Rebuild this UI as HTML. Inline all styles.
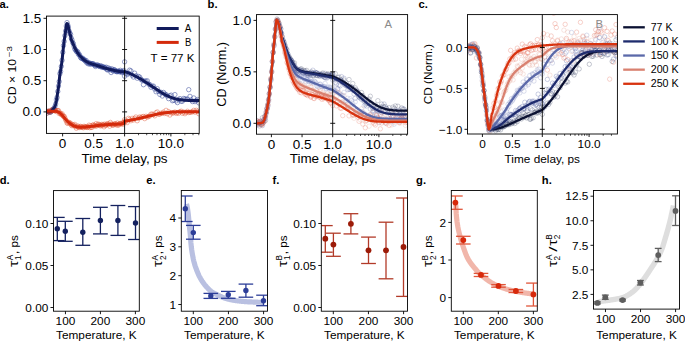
<!DOCTYPE html>
<html><head><meta charset="utf-8"><title>Figure</title><style>html,body{margin:0;padding:0;background:#fff;width:685px;height:342px;overflow:hidden}svg{display:block;font-family:"Liberation Sans",sans-serif}</style></head><body>
<svg width="685" height="342" viewBox="0 0 685 342" font-family="'Liberation Sans', sans-serif">
<rect width="685" height="342" fill="#fff"/>
<line x1="57.3" y1="217.4" x2="57.3" y2="240.6" stroke="#14215f" stroke-width="1.3"/>
<line x1="53.5" y1="217.4" x2="64.7" y2="217.4" stroke="#14215f" stroke-width="1.3"/>
<line x1="53.5" y1="240.6" x2="64.7" y2="240.6" stroke="#14215f" stroke-width="1.3"/>
<line x1="65.3" y1="221.3" x2="65.3" y2="241.3" stroke="#14215f" stroke-width="1.3"/>
<line x1="57.9" y1="221.3" x2="72.7" y2="221.3" stroke="#14215f" stroke-width="1.3"/>
<line x1="57.9" y1="241.3" x2="72.7" y2="241.3" stroke="#14215f" stroke-width="1.3"/>
<line x1="82.8" y1="218.5" x2="82.8" y2="245.3" stroke="#14215f" stroke-width="1.3"/>
<line x1="75.4" y1="218.5" x2="90.2" y2="218.5" stroke="#14215f" stroke-width="1.3"/>
<line x1="75.4" y1="245.3" x2="90.2" y2="245.3" stroke="#14215f" stroke-width="1.3"/>
<line x1="100.4" y1="207.3" x2="100.4" y2="233.9" stroke="#14215f" stroke-width="1.3"/>
<line x1="93" y1="207.3" x2="107.8" y2="207.3" stroke="#14215f" stroke-width="1.3"/>
<line x1="93" y1="233.9" x2="107.8" y2="233.9" stroke="#14215f" stroke-width="1.3"/>
<line x1="117.9" y1="205.5" x2="117.9" y2="235.4" stroke="#14215f" stroke-width="1.3"/>
<line x1="110.5" y1="205.5" x2="125.3" y2="205.5" stroke="#14215f" stroke-width="1.3"/>
<line x1="110.5" y1="235.4" x2="125.3" y2="235.4" stroke="#14215f" stroke-width="1.3"/>
<line x1="135.5" y1="206.6" x2="135.5" y2="239.5" stroke="#14215f" stroke-width="1.3"/>
<line x1="128.1" y1="206.6" x2="139.3" y2="206.6" stroke="#14215f" stroke-width="1.3"/>
<line x1="128.1" y1="239.5" x2="139.3" y2="239.5" stroke="#14215f" stroke-width="1.3"/>
<circle cx="57.3" cy="228.7" r="2.7" fill="#14215f"/>
<circle cx="65.3" cy="231.3" r="2.7" fill="#14215f"/>
<circle cx="82.8" cy="232.2" r="2.7" fill="#14215f"/>
<circle cx="100.4" cy="220.5" r="2.7" fill="#14215f"/>
<circle cx="117.9" cy="220.5" r="2.7" fill="#14215f"/>
<circle cx="135.5" cy="223" r="2.7" fill="#14215f"/>
<path d="M186.5 204 L186.9 205.45 L187.3 207.49 L187.7 209.98 L188.11 212.8 L188.51 216.59 L188.91 221.01 L189.31 225.31 L189.71 229.14 L190.11 232.98 L190.52 237.41 L190.92 242.93 L191.32 246.94 L191.72 249.96 L192.12 252.53 L192.52 254.89 L192.93 257.07 L193.33 259.05 L193.73 260.81 L194.13 262.37 L194.53 263.8 L194.93 265.13 L195.33 266.37 L195.74 267.54 L196.14 268.66 L196.54 269.74 L196.94 270.8 L197.34 271.82 L197.74 272.8 L198.15 273.75 L198.55 274.65 L198.95 275.52 L199.35 276.34 L199.75 277.11 L200.15 277.85 L200.55 278.56 L200.96 279.25 L201.36 279.92 L201.76 280.56 L202.16 281.19 L202.56 281.79 L202.96 282.38 L203.37 282.95 L203.77 283.5 L204.17 284.03 L204.57 284.55 L204.97 285.04 L205.37 285.53 L205.78 286.01 L206.18 286.48 L206.58 286.94 L206.98 287.39 L207.38 287.83 L207.78 288.26 L208.18 288.68 L208.59 289.08 L208.99 289.48 L209.39 289.86 L209.79 290.22 L210.19 290.57 L210.59 290.91 L211 291.22 L211.4 291.53 L211.8 291.81 L212.2 292.08 L212.6 292.34 L213 292.59 L213.4 292.83 L213.81 293.06 L214.21 293.29 L214.61 293.5 L215.01 293.71 L215.41 293.92 L215.81 294.12 L216.22 294.32 L216.62 294.52 L217.02 294.71 L217.42 294.91 L217.82 295.1 L218.22 295.3 L218.62 295.49 L219.03 295.68 L219.43 295.87 L219.83 296.06 L220.23 296.25 L220.63 296.44 L221.03 296.62 L221.44 296.8 L221.84 296.97 L222.24 297.15 L222.64 297.31 L223.04 297.48 L223.44 297.63 L223.85 297.79 L224.25 297.93 L224.65 298.07 L225.05 298.21 L225.45 298.34 L225.85 298.46 L226.25 298.57 L226.66 298.68 L227.06 298.79 L227.46 298.9 L227.86 299.01 L228.26 299.11 L228.66 299.21 L229.07 299.31 L229.47 299.41 L229.87 299.5 L230.27 299.59 L230.67 299.68 L231.07 299.77 L231.48 299.85 L231.88 299.94 L232.28 300.02 L232.68 300.09 L233.08 300.17 L233.48 300.24 L233.88 300.31 L234.29 300.37 L234.69 300.44 L235.09 300.5 L235.49 300.56 L235.89 300.61 L236.29 300.67 L236.7 300.72 L237.1 300.77 L237.5 300.83 L237.9 300.88 L238.3 300.93 L238.7 300.98 L239.1 301.02 L239.51 301.07 L239.91 301.12 L240.31 301.16 L240.71 301.21 L241.11 301.25 L241.51 301.29 L241.92 301.33 L242.32 301.37 L242.72 301.41 L243.12 301.45 L243.52 301.49 L243.92 301.52 L244.33 301.56 L244.73 301.59 L245.13 301.62 L245.53 301.65 L245.93 301.68 L246.33 301.7 L246.73 301.73 L247.14 301.75 L247.54 301.78 L247.94 301.8 L248.34 301.82 L248.74 301.84 L249.14 301.86 L249.55 301.88 L249.95 301.9 L250.35 301.91 L250.75 301.93 L251.15 301.95 L251.55 301.97 L251.95 301.99 L252.36 302.01 L252.76 302.02 L253.16 302.04 L253.56 302.06 L253.96 302.08 L254.36 302.09 L254.77 302.11 L255.17 302.12 L255.57 302.14 L255.97 302.15 L256.37 302.17 L256.77 302.18 L257.18 302.19 L257.58 302.2 L257.98 302.22 L258.38 302.23 L258.78 302.24 L259.18 302.25 L259.58 302.26 L259.99 302.26 L260.39 302.27 L260.79 302.28 L261.19 302.28 L261.59 302.29 L261.99 302.29 L262.4 302.3 L262.8 302.3 L263.2 302.3 L263.6 302.3" fill="none" stroke="#b9c0e1" stroke-width="5.2" stroke-linejoin="round" stroke-linecap="butt"/>
<line x1="185.3" y1="196" x2="185.3" y2="221.5" stroke="#2d3e98" stroke-width="1.3"/>
<line x1="181.3" y1="196" x2="192.6" y2="196" stroke="#2d3e98" stroke-width="1.3"/>
<line x1="181.3" y1="221.5" x2="192.6" y2="221.5" stroke="#2d3e98" stroke-width="1.3"/>
<line x1="193.3" y1="225.4" x2="193.3" y2="239.2" stroke="#2d3e98" stroke-width="1.3"/>
<line x1="186" y1="225.4" x2="200.6" y2="225.4" stroke="#2d3e98" stroke-width="1.3"/>
<line x1="186" y1="239.2" x2="200.6" y2="239.2" stroke="#2d3e98" stroke-width="1.3"/>
<line x1="210.8" y1="293.4" x2="210.8" y2="298.4" stroke="#2d3e98" stroke-width="1.3"/>
<line x1="203.5" y1="293.4" x2="218.1" y2="293.4" stroke="#2d3e98" stroke-width="1.3"/>
<line x1="203.5" y1="298.4" x2="218.1" y2="298.4" stroke="#2d3e98" stroke-width="1.3"/>
<line x1="228.3" y1="291.4" x2="228.3" y2="298.3" stroke="#2d3e98" stroke-width="1.3"/>
<line x1="221" y1="291.4" x2="235.6" y2="291.4" stroke="#2d3e98" stroke-width="1.3"/>
<line x1="221" y1="298.3" x2="235.6" y2="298.3" stroke="#2d3e98" stroke-width="1.3"/>
<line x1="245.9" y1="284.1" x2="245.9" y2="297.2" stroke="#2d3e98" stroke-width="1.3"/>
<line x1="238.6" y1="284.1" x2="253.2" y2="284.1" stroke="#2d3e98" stroke-width="1.3"/>
<line x1="238.6" y1="297.2" x2="253.2" y2="297.2" stroke="#2d3e98" stroke-width="1.3"/>
<line x1="263.5" y1="295.2" x2="263.5" y2="305.7" stroke="#2d3e98" stroke-width="1.3"/>
<line x1="256.2" y1="295.2" x2="267.5" y2="295.2" stroke="#2d3e98" stroke-width="1.3"/>
<line x1="256.2" y1="305.7" x2="267.5" y2="305.7" stroke="#2d3e98" stroke-width="1.3"/>
<circle cx="185.3" cy="208.8" r="2.7" fill="#2d3e98"/>
<circle cx="193.3" cy="232.6" r="2.7" fill="#2d3e98"/>
<circle cx="210.8" cy="296" r="2.7" fill="#2d3e98"/>
<circle cx="228.3" cy="294.8" r="2.7" fill="#2d3e98"/>
<circle cx="245.9" cy="290.5" r="2.7" fill="#2d3e98"/>
<circle cx="263.5" cy="300.7" r="2.7" fill="#2d3e98"/>
<line x1="325.3" y1="225.6" x2="325.3" y2="252.2" stroke="#b23a28" stroke-width="1.3"/>
<line x1="321.3" y1="225.6" x2="332.7" y2="225.6" stroke="#b23a28" stroke-width="1.3"/>
<line x1="321.3" y1="252.2" x2="332.7" y2="252.2" stroke="#b23a28" stroke-width="1.3"/>
<line x1="333.4" y1="233.2" x2="333.4" y2="256.3" stroke="#b23a28" stroke-width="1.3"/>
<line x1="326" y1="233.2" x2="340.8" y2="233.2" stroke="#b23a28" stroke-width="1.3"/>
<line x1="326" y1="256.3" x2="340.8" y2="256.3" stroke="#b23a28" stroke-width="1.3"/>
<line x1="350.9" y1="213.7" x2="350.9" y2="233.9" stroke="#b23a28" stroke-width="1.3"/>
<line x1="343.5" y1="213.7" x2="358.3" y2="213.7" stroke="#b23a28" stroke-width="1.3"/>
<line x1="343.5" y1="233.9" x2="358.3" y2="233.9" stroke="#b23a28" stroke-width="1.3"/>
<line x1="368.5" y1="237.1" x2="368.5" y2="263.5" stroke="#b23a28" stroke-width="1.3"/>
<line x1="361.1" y1="237.1" x2="375.9" y2="237.1" stroke="#b23a28" stroke-width="1.3"/>
<line x1="361.1" y1="263.5" x2="375.9" y2="263.5" stroke="#b23a28" stroke-width="1.3"/>
<line x1="386" y1="222.2" x2="386" y2="278.8" stroke="#b23a28" stroke-width="1.3"/>
<line x1="378.6" y1="222.2" x2="393.4" y2="222.2" stroke="#b23a28" stroke-width="1.3"/>
<line x1="378.6" y1="278.8" x2="393.4" y2="278.8" stroke="#b23a28" stroke-width="1.3"/>
<line x1="403.5" y1="198" x2="403.5" y2="296.4" stroke="#b23a28" stroke-width="1.3"/>
<line x1="396.1" y1="198" x2="407.5" y2="198" stroke="#b23a28" stroke-width="1.3"/>
<line x1="396.1" y1="296.4" x2="407.5" y2="296.4" stroke="#b23a28" stroke-width="1.3"/>
<circle cx="325.3" cy="238.7" r="2.9" fill="#9c1b08"/>
<circle cx="333.4" cy="244.6" r="2.9" fill="#9c1b08"/>
<circle cx="350.9" cy="223.8" r="2.9" fill="#9c1b08"/>
<circle cx="368.5" cy="250.3" r="2.9" fill="#9c1b08"/>
<circle cx="386" cy="250.3" r="2.9" fill="#9c1b08"/>
<circle cx="403.5" cy="247" r="2.9" fill="#9c1b08"/>
<path d="M455.8 204.5 L456.2 213.16 L456.6 217.87 L457 221.3 L457.4 224.08 L457.8 226.51 L458.2 228.64 L458.6 230.54 L459 232.28 L459.4 233.92 L459.81 235.52 L460.21 237.07 L460.61 238.54 L461.01 239.95 L461.41 241.29 L461.81 242.59 L462.21 243.84 L462.61 245.06 L463.01 246.24 L463.41 247.41 L463.81 248.57 L464.21 249.72 L464.61 250.85 L465.01 251.95 L465.41 253.03 L465.81 254.07 L466.21 255.07 L466.61 256.02 L467.01 256.92 L467.41 257.76 L467.82 258.53 L468.22 259.25 L468.62 259.94 L469.02 260.6 L469.42 261.24 L469.82 261.85 L470.22 262.44 L470.62 263.01 L471.02 263.56 L471.42 264.09 L471.82 264.61 L472.22 265.12 L472.62 265.63 L473.02 266.12 L473.42 266.61 L473.82 267.1 L474.22 267.59 L474.62 268.07 L475.02 268.56 L475.43 269.04 L475.83 269.52 L476.23 269.99 L476.63 270.45 L477.03 270.91 L477.43 271.36 L477.83 271.8 L478.23 272.23 L478.63 272.66 L479.03 273.07 L479.43 273.47 L479.83 273.85 L480.23 274.22 L480.63 274.58 L481.03 274.93 L481.43 275.26 L481.83 275.6 L482.23 275.93 L482.63 276.26 L483.04 276.58 L483.44 276.9 L483.84 277.22 L484.24 277.54 L484.64 277.85 L485.04 278.17 L485.44 278.47 L485.84 278.78 L486.24 279.08 L486.64 279.38 L487.04 279.67 L487.44 279.96 L487.84 280.25 L488.24 280.53 L488.64 280.81 L489.04 281.09 L489.44 281.36 L489.84 281.62 L490.24 281.89 L490.64 282.15 L491.05 282.4 L491.45 282.65 L491.85 282.9 L492.25 283.14 L492.65 283.38 L493.05 283.61 L493.45 283.84 L493.85 284.07 L494.25 284.29 L494.65 284.5 L495.05 284.71 L495.45 284.91 L495.85 285.11 L496.25 285.31 L496.65 285.5 L497.05 285.68 L497.45 285.86 L497.85 286.03 L498.25 286.2 L498.66 286.36 L499.06 286.52 L499.46 286.68 L499.86 286.83 L500.26 286.99 L500.66 287.14 L501.06 287.28 L501.46 287.43 L501.86 287.58 L502.26 287.72 L502.66 287.86 L503.06 287.99 L503.46 288.13 L503.86 288.26 L504.26 288.39 L504.66 288.52 L505.06 288.65 L505.46 288.78 L505.86 288.9 L506.26 289.02 L506.67 289.14 L507.07 289.26 L507.47 289.37 L507.87 289.49 L508.27 289.6 L508.67 289.71 L509.07 289.82 L509.47 289.92 L509.87 290.03 L510.27 290.13 L510.67 290.23 L511.07 290.33 L511.47 290.43 L511.87 290.52 L512.27 290.61 L512.67 290.71 L513.07 290.79 L513.47 290.88 L513.87 290.97 L514.28 291.05 L514.68 291.14 L515.08 291.22 L515.48 291.3 L515.88 291.38 L516.28 291.45 L516.68 291.53 L517.08 291.61 L517.48 291.68 L517.88 291.76 L518.28 291.83 L518.68 291.9 L519.08 291.98 L519.48 292.05 L519.88 292.12 L520.28 292.19 L520.68 292.26 L521.08 292.33 L521.48 292.4 L521.89 292.46 L522.29 292.53 L522.69 292.6 L523.09 292.66 L523.49 292.73 L523.89 292.79 L524.29 292.85 L524.69 292.91 L525.09 292.97 L525.49 293.03 L525.89 293.08 L526.29 293.14 L526.69 293.2 L527.09 293.25 L527.49 293.3 L527.89 293.35 L528.29 293.4 L528.69 293.45 L529.09 293.49 L529.49 293.54 L529.9 293.58 L530.3 293.62 L530.7 293.66 L531.1 293.7 L531.5 293.74 L531.9 293.78 L532.3 293.81 L532.7 293.84 L533.1 293.87 L533.5 293.9" fill="none" stroke="#f1b6aa" stroke-width="5.2" stroke-linejoin="round" stroke-linecap="butt"/>
<line x1="455.4" y1="196" x2="455.4" y2="209.3" stroke="#e0553a" stroke-width="1.3"/>
<line x1="451.3" y1="196" x2="462.7" y2="196" stroke="#e0553a" stroke-width="1.3"/>
<line x1="451.3" y1="209.3" x2="462.7" y2="209.3" stroke="#e0553a" stroke-width="1.3"/>
<line x1="463.3" y1="236.3" x2="463.3" y2="244" stroke="#e0553a" stroke-width="1.3"/>
<line x1="456" y1="236.3" x2="470.6" y2="236.3" stroke="#e0553a" stroke-width="1.3"/>
<line x1="456" y1="244" x2="470.6" y2="244" stroke="#e0553a" stroke-width="1.3"/>
<line x1="481" y1="273.4" x2="481" y2="276.5" stroke="#e0553a" stroke-width="1.3"/>
<line x1="473.7" y1="273.4" x2="488.3" y2="273.4" stroke="#e0553a" stroke-width="1.3"/>
<line x1="473.7" y1="276.5" x2="488.3" y2="276.5" stroke="#e0553a" stroke-width="1.3"/>
<line x1="498.5" y1="284.6" x2="498.5" y2="287.2" stroke="#e0553a" stroke-width="1.3"/>
<line x1="491.2" y1="284.6" x2="505.8" y2="284.6" stroke="#e0553a" stroke-width="1.3"/>
<line x1="491.2" y1="287.2" x2="505.8" y2="287.2" stroke="#e0553a" stroke-width="1.3"/>
<line x1="515.9" y1="289.5" x2="515.9" y2="292.5" stroke="#e0553a" stroke-width="1.3"/>
<line x1="508.6" y1="289.5" x2="523.2" y2="289.5" stroke="#e0553a" stroke-width="1.3"/>
<line x1="508.6" y1="292.5" x2="523.2" y2="292.5" stroke="#e0553a" stroke-width="1.3"/>
<line x1="533.4" y1="283.1" x2="533.4" y2="306" stroke="#e0553a" stroke-width="1.3"/>
<line x1="526.1" y1="283.1" x2="537.3" y2="283.1" stroke="#e0553a" stroke-width="1.3"/>
<line x1="526.1" y1="306" x2="537.3" y2="306" stroke="#e0553a" stroke-width="1.3"/>
<circle cx="455.4" cy="202.6" r="2.9" fill="#d7290b"/>
<circle cx="463.3" cy="240.1" r="2.9" fill="#d7290b"/>
<circle cx="481" cy="274.9" r="2.9" fill="#d7290b"/>
<circle cx="498.5" cy="285.9" r="2.9" fill="#d7290b"/>
<circle cx="515.9" cy="291" r="2.9" fill="#d7290b"/>
<circle cx="533.4" cy="294.4" r="2.9" fill="#d7290b"/>
<path d="M598.5 302.2 L598.9 302.02 L599.3 301.84 L599.7 301.69 L600.1 301.58 L600.5 301.48 L600.9 301.39 L601.3 301.31 L601.7 301.24 L602.1 301.17 L602.51 301.1 L602.91 301.04 L603.31 300.98 L603.71 300.92 L604.11 300.87 L604.51 300.82 L604.91 300.77 L605.31 300.72 L605.71 300.67 L606.11 300.62 L606.51 300.58 L606.91 300.53 L607.31 300.48 L607.71 300.43 L608.11 300.38 L608.51 300.33 L608.91 300.27 L609.31 300.21 L609.71 300.15 L610.12 300.08 L610.52 300.01 L610.92 299.95 L611.32 299.88 L611.72 299.82 L612.12 299.75 L612.52 299.69 L612.92 299.63 L613.32 299.56 L613.72 299.5 L614.12 299.43 L614.52 299.37 L614.92 299.3 L615.32 299.23 L615.72 299.17 L616.12 299.1 L616.52 299.02 L616.92 298.95 L617.33 298.88 L617.73 298.8 L618.13 298.72 L618.53 298.64 L618.93 298.55 L619.33 298.47 L619.73 298.38 L620.13 298.28 L620.53 298.19 L620.93 298.09 L621.33 297.98 L621.73 297.88 L622.13 297.77 L622.53 297.65 L622.93 297.53 L623.33 297.4 L623.73 297.25 L624.13 297.1 L624.53 296.93 L624.94 296.75 L625.34 296.57 L625.74 296.37 L626.14 296.17 L626.54 295.95 L626.94 295.73 L627.34 295.5 L627.74 295.26 L628.14 295.02 L628.54 294.77 L628.94 294.51 L629.34 294.24 L629.74 293.97 L630.14 293.7 L630.54 293.42 L630.94 293.14 L631.34 292.85 L631.74 292.56 L632.14 292.26 L632.55 291.97 L632.95 291.67 L633.35 291.35 L633.75 291.02 L634.15 290.68 L634.55 290.31 L634.95 289.94 L635.35 289.55 L635.75 289.14 L636.15 288.73 L636.55 288.31 L636.95 287.87 L637.35 287.43 L637.75 286.99 L638.15 286.54 L638.55 286.08 L638.95 285.62 L639.35 285.15 L639.76 284.66 L640.16 284.16 L640.56 283.65 L640.96 283.12 L641.36 282.58 L641.76 282.04 L642.16 281.49 L642.56 280.93 L642.96 280.37 L643.36 279.81 L643.76 279.24 L644.16 278.68 L644.56 278.11 L644.96 277.54 L645.36 276.97 L645.76 276.39 L646.16 275.8 L646.56 275.21 L646.96 274.61 L647.37 274.01 L647.77 273.4 L648.17 272.79 L648.57 272.19 L648.97 271.58 L649.37 270.97 L649.77 270.36 L650.17 269.75 L650.57 269.14 L650.97 268.54 L651.37 267.94 L651.77 267.34 L652.17 266.75 L652.57 266.14 L652.97 265.54 L653.37 264.93 L653.77 264.31 L654.17 263.68 L654.57 263.04 L654.98 262.38 L655.38 261.71 L655.78 261.03 L656.18 260.35 L656.58 259.66 L656.98 258.98 L657.38 258.29 L657.78 257.58 L658.18 256.86 L658.58 256.13 L658.98 255.38 L659.38 254.6 L659.78 253.8 L660.18 252.97 L660.58 252.11 L660.98 251.21 L661.38 250.28 L661.78 249.29 L662.19 248.21 L662.59 247.05 L662.99 245.83 L663.39 244.56 L663.79 243.25 L664.19 241.91 L664.59 240.56 L664.99 239.21 L665.39 237.87 L665.79 236.54 L666.19 235.21 L666.59 233.86 L666.99 232.5 L667.39 231.11 L667.79 229.7 L668.19 228.25 L668.59 226.78 L668.99 225.26 L669.39 223.7 L669.8 222.1 L670.2 220.45 L670.6 218.75 L671 217.01 L671.4 215.21 L671.8 213.34 L672.2 211.43 L672.6 209.48 L673 207.52 L673.4 205.5" fill="none" stroke="#dedede" stroke-width="5.4" stroke-linejoin="round" stroke-linecap="butt"/>
<line x1="597.4" y1="301.9" x2="597.4" y2="303.9" stroke="#5e5e5e" stroke-width="1.3"/>
<line x1="594" y1="301.9" x2="600.8" y2="301.9" stroke="#5e5e5e" stroke-width="1.3"/>
<line x1="594" y1="303.9" x2="600.8" y2="303.9" stroke="#5e5e5e" stroke-width="1.3"/>
<line x1="605.3" y1="295.1" x2="605.3" y2="299.3" stroke="#5e5e5e" stroke-width="1.3"/>
<line x1="601.9" y1="295.1" x2="608.7" y2="295.1" stroke="#5e5e5e" stroke-width="1.3"/>
<line x1="601.9" y1="299.3" x2="608.7" y2="299.3" stroke="#5e5e5e" stroke-width="1.3"/>
<line x1="622.6" y1="299.2" x2="622.6" y2="301" stroke="#5e5e5e" stroke-width="1.3"/>
<line x1="619.2" y1="299.2" x2="626" y2="299.2" stroke="#5e5e5e" stroke-width="1.3"/>
<line x1="619.2" y1="301" x2="626" y2="301" stroke="#5e5e5e" stroke-width="1.3"/>
<line x1="640.4" y1="280.5" x2="640.4" y2="285" stroke="#5e5e5e" stroke-width="1.3"/>
<line x1="637" y1="280.5" x2="643.8" y2="280.5" stroke="#5e5e5e" stroke-width="1.3"/>
<line x1="637" y1="285" x2="643.8" y2="285" stroke="#5e5e5e" stroke-width="1.3"/>
<line x1="658.2" y1="248.4" x2="658.2" y2="261.6" stroke="#5e5e5e" stroke-width="1.3"/>
<line x1="654.8" y1="248.4" x2="661.6" y2="248.4" stroke="#5e5e5e" stroke-width="1.3"/>
<line x1="654.8" y1="261.6" x2="661.6" y2="261.6" stroke="#5e5e5e" stroke-width="1.3"/>
<line x1="675.5" y1="195.8" x2="675.5" y2="225.5" stroke="#5e5e5e" stroke-width="1.3"/>
<line x1="672.1" y1="195.8" x2="678.9" y2="195.8" stroke="#5e5e5e" stroke-width="1.3"/>
<line x1="672.1" y1="225.5" x2="678.9" y2="225.5" stroke="#5e5e5e" stroke-width="1.3"/>
<circle cx="597.4" cy="302.9" r="2.9" fill="#5e5e5e"/>
<circle cx="605.3" cy="297.3" r="2.9" fill="#5e5e5e"/>
<circle cx="622.6" cy="300.1" r="2.9" fill="#5e5e5e"/>
<circle cx="640.4" cy="282.6" r="2.9" fill="#5e5e5e"/>
<circle cx="658.2" cy="255.1" r="2.9" fill="#5e5e5e"/>
<circle cx="675.5" cy="210.9" r="2.9" fill="#5e5e5e"/>
<defs><clipPath id="ca"><rect x="46.5" y="16.1" width="152.7" height="117.3"/></clipPath><clipPath id="cb"><rect x="256.5" y="14.6" width="151.1" height="119.6"/></clipPath><clipPath id="cc"><rect x="467.5" y="14.6" width="149.9" height="119.4"/></clipPath></defs>
<g fill="none" stroke="#3a4a9a" stroke-width="0.7" stroke-opacity="0.75" clip-path="url(#ca)"><circle cx="47.12" cy="113.08" r="2.2"/><circle cx="47.83" cy="111.54" r="2.2"/><circle cx="48.54" cy="111.27" r="2.2"/><circle cx="49.25" cy="111.76" r="2.2"/><circle cx="49.96" cy="112.39" r="2.2"/><circle cx="50.67" cy="111.97" r="2.2"/><circle cx="51.38" cy="111.38" r="2.2"/><circle cx="52.1" cy="110.02" r="2.2"/><circle cx="52.81" cy="109.76" r="2.2"/><circle cx="53.52" cy="108.66" r="2.2"/><circle cx="54.23" cy="108.77" r="2.2"/><circle cx="54.94" cy="106.4" r="2.2"/><circle cx="55.65" cy="104.02" r="2.2"/><circle cx="56.36" cy="99.95" r="2.2"/><circle cx="57.07" cy="97.52" r="2.2"/><circle cx="57.78" cy="91.46" r="2.2"/><circle cx="58.49" cy="86.05" r="2.2"/><circle cx="59.2" cy="81.56" r="2.2"/><circle cx="59.91" cy="73.69" r="2.2"/><circle cx="60.63" cy="71.33" r="2.2"/><circle cx="61.34" cy="66.31" r="2.2"/><circle cx="62.05" cy="60.31" r="2.2"/><circle cx="62.76" cy="52.32" r="2.2"/><circle cx="63.47" cy="45.63" r="2.2"/><circle cx="64.18" cy="41.36" r="2.2"/><circle cx="64.89" cy="35.64" r="2.2"/><circle cx="65.6" cy="30.98" r="2.2"/><circle cx="66.31" cy="26.01" r="2.2"/><circle cx="67.02" cy="22.6" r="2.2"/><circle cx="67.73" cy="24.98" r="2.2"/><circle cx="68.44" cy="27.03" r="2.2"/><circle cx="69.16" cy="31.09" r="2.2"/><circle cx="69.87" cy="33.1" r="2.2"/><circle cx="70.58" cy="34.56" r="2.2"/><circle cx="71.29" cy="38.09" r="2.2"/><circle cx="72" cy="40.08" r="2.2"/><circle cx="72.71" cy="42.56" r="2.2"/><circle cx="73.42" cy="43.87" r="2.2"/><circle cx="74.13" cy="46.56" r="2.2"/><circle cx="74.84" cy="49.1" r="2.2"/><circle cx="75.55" cy="49.71" r="2.2"/><circle cx="76.26" cy="51.24" r="2.2"/><circle cx="76.97" cy="51.76" r="2.2"/><circle cx="77.69" cy="51.73" r="2.2"/><circle cx="78.4" cy="54.27" r="2.2"/><circle cx="79.11" cy="54.25" r="2.2"/><circle cx="79.82" cy="55.54" r="2.2"/><circle cx="80.53" cy="57.44" r="2.2"/><circle cx="81.24" cy="58.11" r="2.2"/><circle cx="81.95" cy="58.45" r="2.2"/><circle cx="82.66" cy="58.18" r="2.2"/><circle cx="83.37" cy="59.26" r="2.2"/><circle cx="84.08" cy="59.68" r="2.2"/><circle cx="84.79" cy="60.16" r="2.2"/><circle cx="85.5" cy="61.3" r="2.2"/><circle cx="86.22" cy="60.5" r="2.2"/><circle cx="86.93" cy="62.94" r="2.2"/><circle cx="87.64" cy="62.43" r="2.2"/><circle cx="88.35" cy="63.85" r="2.2"/><circle cx="89.06" cy="62.63" r="2.2"/><circle cx="89.77" cy="63.97" r="2.2"/><circle cx="90.48" cy="63.88" r="2.2"/><circle cx="91.19" cy="63.74" r="2.2"/><circle cx="91.9" cy="63.65" r="2.2"/><circle cx="92.61" cy="63.89" r="2.2"/><circle cx="93.32" cy="63.77" r="2.2"/><circle cx="94.03" cy="64.51" r="2.2"/><circle cx="94.75" cy="65.32" r="2.2"/><circle cx="95.46" cy="66.46" r="2.2"/><circle cx="96.17" cy="65.39" r="2.2"/><circle cx="96.88" cy="64.99" r="2.2"/><circle cx="97.59" cy="65.1" r="2.2"/><circle cx="98.3" cy="65.52" r="2.2"/><circle cx="99.01" cy="66.27" r="2.2"/><circle cx="99.72" cy="66.42" r="2.2"/><circle cx="100.43" cy="65.66" r="2.2"/><circle cx="101.14" cy="66.33" r="2.2"/><circle cx="101.85" cy="67.41" r="2.2"/><circle cx="102.56" cy="66.43" r="2.2"/><circle cx="103.28" cy="67.17" r="2.2"/><circle cx="103.99" cy="67.56" r="2.2"/><circle cx="104.7" cy="67.4" r="2.2"/><circle cx="105.41" cy="68.2" r="2.2"/><circle cx="106.12" cy="67.14" r="2.2"/><circle cx="106.83" cy="69.36" r="2.2"/><circle cx="107.54" cy="69.99" r="2.2"/><circle cx="108.25" cy="67.88" r="2.2"/><circle cx="108.96" cy="69.68" r="2.2"/><circle cx="109.67" cy="68.66" r="2.2"/><circle cx="110.38" cy="69.77" r="2.2"/><circle cx="111.09" cy="72.52" r="2.2"/><circle cx="111.81" cy="68.78" r="2.2"/><circle cx="112.52" cy="70.34" r="2.2"/><circle cx="113.23" cy="70.97" r="2.2"/><circle cx="113.94" cy="69.61" r="2.2"/><circle cx="114.65" cy="69.97" r="2.2"/><circle cx="115.36" cy="70.64" r="2.2"/><circle cx="116.07" cy="71.54" r="2.2"/><circle cx="116.78" cy="71.7" r="2.2"/><circle cx="117.49" cy="71.57" r="2.2"/><circle cx="118.2" cy="70.98" r="2.2"/><circle cx="118.91" cy="71.71" r="2.2"/><circle cx="119.62" cy="71.63" r="2.2"/><circle cx="120.34" cy="70.35" r="2.2"/><circle cx="121.05" cy="71.56" r="2.2"/><circle cx="121.76" cy="72.6" r="2.2"/><circle cx="122.47" cy="72.05" r="2.2"/><circle cx="123.18" cy="71.36" r="2.2"/><circle cx="123.89" cy="70.46" r="2.2"/><circle cx="124.6" cy="76.24" r="2.2"/><circle cx="124.6" cy="61.83" r="2.2"/><circle cx="125.86" cy="73.42" r="2.2"/><circle cx="127.11" cy="74.59" r="2.2"/><circle cx="128.37" cy="73.27" r="2.2"/><circle cx="129.63" cy="70.14" r="2.2"/><circle cx="130.89" cy="70.91" r="2.2"/><circle cx="132.14" cy="75.26" r="2.2"/><circle cx="133.4" cy="77.03" r="2.2"/><circle cx="134.66" cy="73.16" r="2.2"/><circle cx="135.91" cy="75.69" r="2.2"/><circle cx="137.17" cy="78.17" r="2.2"/><circle cx="138.43" cy="76.45" r="2.2"/><circle cx="139.69" cy="77.11" r="2.2"/><circle cx="140.94" cy="79.29" r="2.2"/><circle cx="142.2" cy="80.36" r="2.2"/><circle cx="143.46" cy="84.72" r="2.2"/><circle cx="144.72" cy="81" r="2.2"/><circle cx="145.97" cy="81.16" r="2.2"/><circle cx="147.23" cy="80.73" r="2.2"/><circle cx="148.49" cy="84.01" r="2.2"/><circle cx="149.74" cy="84.54" r="2.2"/><circle cx="151" cy="87.29" r="2.2"/><circle cx="152.26" cy="86.2" r="2.2"/><circle cx="153.52" cy="86.15" r="2.2"/><circle cx="154.77" cy="89.11" r="2.2"/><circle cx="156.03" cy="91.74" r="2.2"/><circle cx="157.29" cy="88.67" r="2.2"/><circle cx="158.54" cy="91.36" r="2.2"/><circle cx="159.8" cy="94.44" r="2.2"/><circle cx="161.06" cy="92.34" r="2.2"/><circle cx="162.32" cy="96.02" r="2.2"/><circle cx="163.57" cy="92.44" r="2.2"/><circle cx="164.83" cy="94.11" r="2.2"/><circle cx="166.09" cy="94.63" r="2.2"/><circle cx="167.35" cy="96.09" r="2.2"/><circle cx="168.6" cy="98.62" r="2.2"/><circle cx="169.86" cy="95.84" r="2.2"/><circle cx="171.12" cy="95.13" r="2.2"/><circle cx="172.37" cy="100.74" r="2.2"/><circle cx="173.63" cy="100.16" r="2.2"/><circle cx="174.89" cy="94.6" r="2.2"/><circle cx="176.15" cy="100.89" r="2.2"/><circle cx="177.4" cy="102.62" r="2.2"/><circle cx="178.66" cy="99.65" r="2.2"/><circle cx="179.92" cy="98.56" r="2.2"/><circle cx="181.17" cy="101.36" r="2.2"/><circle cx="182.43" cy="101.18" r="2.2"/><circle cx="183.69" cy="98.48" r="2.2"/><circle cx="184.95" cy="98.93" r="2.2"/><circle cx="186.2" cy="99.33" r="2.2"/><circle cx="187.46" cy="99.01" r="2.2"/><circle cx="188.72" cy="89.67" r="2.2"/><circle cx="189.97" cy="96.37" r="2.2"/><circle cx="191.23" cy="99.95" r="2.2"/><circle cx="192.49" cy="101.56" r="2.2"/><circle cx="193.75" cy="97.95" r="2.2"/><circle cx="195" cy="101.62" r="2.2"/><circle cx="196.26" cy="100.43" r="2.2"/><circle cx="197.52" cy="99.53" r="2.2"/><circle cx="198.78" cy="102.86" r="2.2"/></g>
<g fill="none" stroke="#e0502e" stroke-width="0.7" stroke-opacity="0.6" clip-path="url(#ca)"><circle cx="47.12" cy="112.95" r="2.2"/><circle cx="47.83" cy="111.31" r="2.2"/><circle cx="48.54" cy="111.6" r="2.2"/><circle cx="49.25" cy="111.14" r="2.2"/><circle cx="49.96" cy="112.14" r="2.2"/><circle cx="50.67" cy="111.17" r="2.2"/><circle cx="51.38" cy="110.18" r="2.2"/><circle cx="52.1" cy="109.95" r="2.2"/><circle cx="52.81" cy="110.71" r="2.2"/><circle cx="53.52" cy="110.22" r="2.2"/><circle cx="54.23" cy="110.52" r="2.2"/><circle cx="54.94" cy="110.75" r="2.2"/><circle cx="55.65" cy="110.61" r="2.2"/><circle cx="56.36" cy="111.57" r="2.2"/><circle cx="57.07" cy="110.56" r="2.2"/><circle cx="57.78" cy="110.6" r="2.2"/><circle cx="58.49" cy="110.58" r="2.2"/><circle cx="59.2" cy="113.59" r="2.2"/><circle cx="59.91" cy="112.81" r="2.2"/><circle cx="60.63" cy="113.78" r="2.2"/><circle cx="61.34" cy="114.51" r="2.2"/><circle cx="62.05" cy="113.65" r="2.2"/><circle cx="62.76" cy="115.65" r="2.2"/><circle cx="63.47" cy="116.44" r="2.2"/><circle cx="64.18" cy="116.25" r="2.2"/><circle cx="64.89" cy="117.96" r="2.2"/><circle cx="65.6" cy="119.75" r="2.2"/><circle cx="66.31" cy="120.84" r="2.2"/><circle cx="67.02" cy="122.95" r="2.2"/><circle cx="67.73" cy="123.35" r="2.2"/><circle cx="68.44" cy="122.14" r="2.2"/><circle cx="69.16" cy="122.88" r="2.2"/><circle cx="69.87" cy="123.18" r="2.2"/><circle cx="70.58" cy="123.16" r="2.2"/><circle cx="71.29" cy="124.93" r="2.2"/><circle cx="72" cy="125.76" r="2.2"/><circle cx="72.71" cy="124.72" r="2.2"/><circle cx="73.42" cy="125.01" r="2.2"/><circle cx="74.13" cy="125.56" r="2.2"/><circle cx="74.84" cy="124.35" r="2.2"/><circle cx="75.55" cy="126.64" r="2.2"/><circle cx="76.26" cy="128.29" r="2.2"/><circle cx="76.97" cy="126.81" r="2.2"/><circle cx="77.69" cy="125.88" r="2.2"/><circle cx="78.4" cy="127.04" r="2.2"/><circle cx="79.11" cy="127.62" r="2.2"/><circle cx="79.82" cy="126.91" r="2.2"/><circle cx="80.53" cy="126.35" r="2.2"/><circle cx="81.24" cy="127.13" r="2.2"/><circle cx="81.95" cy="127.02" r="2.2"/><circle cx="82.66" cy="127.29" r="2.2"/><circle cx="83.37" cy="127.81" r="2.2"/><circle cx="84.08" cy="126.26" r="2.2"/><circle cx="84.79" cy="126.74" r="2.2"/><circle cx="85.5" cy="126.97" r="2.2"/><circle cx="86.22" cy="127.3" r="2.2"/><circle cx="86.93" cy="126.74" r="2.2"/><circle cx="87.64" cy="127.43" r="2.2"/><circle cx="88.35" cy="126.77" r="2.2"/><circle cx="89.06" cy="125.11" r="2.2"/><circle cx="89.77" cy="127.7" r="2.2"/><circle cx="90.48" cy="125.79" r="2.2"/><circle cx="91.19" cy="127.24" r="2.2"/><circle cx="91.9" cy="127.45" r="2.2"/><circle cx="92.61" cy="125.44" r="2.2"/><circle cx="93.32" cy="124.72" r="2.2"/><circle cx="94.03" cy="125.66" r="2.2"/><circle cx="94.75" cy="125.35" r="2.2"/><circle cx="95.46" cy="126.24" r="2.2"/><circle cx="96.17" cy="123.62" r="2.2"/><circle cx="96.88" cy="125.86" r="2.2"/><circle cx="97.59" cy="124.83" r="2.2"/><circle cx="98.3" cy="124.08" r="2.2"/><circle cx="99.01" cy="125.3" r="2.2"/><circle cx="99.72" cy="124.58" r="2.2"/><circle cx="100.43" cy="125.97" r="2.2"/><circle cx="101.14" cy="125.52" r="2.2"/><circle cx="101.85" cy="124.3" r="2.2"/><circle cx="102.56" cy="125.25" r="2.2"/><circle cx="103.28" cy="124.56" r="2.2"/><circle cx="103.99" cy="126.83" r="2.2"/><circle cx="104.7" cy="124.07" r="2.2"/><circle cx="105.41" cy="125.48" r="2.2"/><circle cx="106.12" cy="125.12" r="2.2"/><circle cx="106.83" cy="124.14" r="2.2"/><circle cx="107.54" cy="123.75" r="2.2"/><circle cx="108.25" cy="124.5" r="2.2"/><circle cx="108.96" cy="123.9" r="2.2"/><circle cx="109.67" cy="126.21" r="2.2"/><circle cx="110.38" cy="122.39" r="2.2"/><circle cx="111.09" cy="124.41" r="2.2"/><circle cx="111.81" cy="124.05" r="2.2"/><circle cx="112.52" cy="124.97" r="2.2"/><circle cx="113.23" cy="125.26" r="2.2"/><circle cx="113.94" cy="124.35" r="2.2"/><circle cx="114.65" cy="124.02" r="2.2"/><circle cx="115.36" cy="123.65" r="2.2"/><circle cx="116.07" cy="124.36" r="2.2"/><circle cx="116.78" cy="125.22" r="2.2"/><circle cx="117.49" cy="123.07" r="2.2"/><circle cx="118.2" cy="125.06" r="2.2"/><circle cx="118.91" cy="124.86" r="2.2"/><circle cx="119.62" cy="123.61" r="2.2"/><circle cx="120.34" cy="123.36" r="2.2"/><circle cx="121.05" cy="123.57" r="2.2"/><circle cx="121.76" cy="123.92" r="2.2"/><circle cx="122.47" cy="123.12" r="2.2"/><circle cx="123.18" cy="124.25" r="2.2"/><circle cx="123.89" cy="121.73" r="2.2"/><circle cx="124.6" cy="122.09" r="2.2"/><circle cx="124.6" cy="119.68" r="2.2"/><circle cx="125.86" cy="121.34" r="2.2"/><circle cx="127.11" cy="122.64" r="2.2"/><circle cx="128.37" cy="118.34" r="2.2"/><circle cx="129.63" cy="119.34" r="2.2"/><circle cx="130.89" cy="120.73" r="2.2"/><circle cx="132.14" cy="118.33" r="2.2"/><circle cx="133.4" cy="120" r="2.2"/><circle cx="134.66" cy="118.33" r="2.2"/><circle cx="135.91" cy="116.98" r="2.2"/><circle cx="137.17" cy="120.76" r="2.2"/><circle cx="138.43" cy="118.26" r="2.2"/><circle cx="139.69" cy="116.99" r="2.2"/><circle cx="140.94" cy="117.58" r="2.2"/><circle cx="142.2" cy="116.79" r="2.2"/><circle cx="143.46" cy="116.45" r="2.2"/><circle cx="144.72" cy="118.67" r="2.2"/><circle cx="145.97" cy="116.2" r="2.2"/><circle cx="147.23" cy="117.11" r="2.2"/><circle cx="148.49" cy="116.48" r="2.2"/><circle cx="149.74" cy="116.08" r="2.2"/><circle cx="151" cy="114.15" r="2.2"/><circle cx="152.26" cy="114.04" r="2.2"/><circle cx="153.52" cy="114.6" r="2.2"/><circle cx="154.77" cy="115.83" r="2.2"/><circle cx="156.03" cy="112.69" r="2.2"/><circle cx="157.29" cy="111.92" r="2.2"/><circle cx="158.54" cy="114.31" r="2.2"/><circle cx="159.8" cy="114.2" r="2.2"/><circle cx="161.06" cy="113.22" r="2.2"/><circle cx="162.32" cy="113.3" r="2.2"/><circle cx="163.57" cy="112.03" r="2.2"/><circle cx="164.83" cy="113.53" r="2.2"/><circle cx="166.09" cy="110.34" r="2.2"/><circle cx="167.35" cy="113.81" r="2.2"/><circle cx="168.6" cy="111.59" r="2.2"/><circle cx="169.86" cy="115.03" r="2.2"/><circle cx="171.12" cy="112.74" r="2.2"/><circle cx="172.37" cy="113.19" r="2.2"/><circle cx="173.63" cy="112.73" r="2.2"/><circle cx="174.89" cy="112.03" r="2.2"/><circle cx="176.15" cy="113.44" r="2.2"/><circle cx="177.4" cy="112.63" r="2.2"/><circle cx="178.66" cy="113.34" r="2.2"/><circle cx="179.92" cy="111.63" r="2.2"/><circle cx="181.17" cy="111.16" r="2.2"/><circle cx="182.43" cy="113.26" r="2.2"/><circle cx="183.69" cy="112.09" r="2.2"/><circle cx="184.95" cy="113.7" r="2.2"/><circle cx="186.2" cy="112.41" r="2.2"/><circle cx="187.46" cy="111.26" r="2.2"/><circle cx="188.72" cy="112.62" r="2.2"/><circle cx="189.97" cy="112.38" r="2.2"/><circle cx="191.23" cy="112.11" r="2.2"/><circle cx="192.49" cy="111.73" r="2.2"/><circle cx="193.75" cy="110.33" r="2.2"/><circle cx="195" cy="112.26" r="2.2"/><circle cx="196.26" cy="110.29" r="2.2"/><circle cx="197.52" cy="111.36" r="2.2"/><circle cx="198.78" cy="113.69" r="2.2"/></g>
<path d="M46.5 111.9 L46.8 111.9 L47.1 111.89 L47.4 111.89 L47.7 111.87 L48 111.86 L48.3 111.84 L48.6 111.82 L48.9 111.79 L49.2 111.76 L49.5 111.73 L49.8 111.7 L50.1 111.66 L50.41 111.61 L50.71 111.54 L51.01 111.37 L51.31 111.11 L51.61 110.79 L51.91 110.43 L52.21 110.07 L52.51 109.71 L52.81 109.37 L53.11 109.04 L53.41 108.7 L53.71 108.34 L54.01 107.94 L54.31 107.49 L54.61 106.97 L54.91 106.36 L55.21 105.56 L55.51 104.56 L55.81 103.4 L56.11 102.11 L56.41 100.72 L56.71 99.14 L57.01 97.19 L57.31 95.04 L57.61 92.89 L57.91 90.9 L58.22 89.01 L58.52 87.06 L58.82 84.88 L59.12 82.14 L59.42 78.83 L59.72 75.97 L60.02 73.86 L60.32 72.05 L60.62 70.34 L60.92 68.54 L61.22 66.52 L61.52 64.44 L61.82 62.24 L62.12 59.83 L62.42 57.02 L62.72 53.91 L63.02 50.85 L63.32 48.15 L63.62 45.62 L63.92 43.18 L64.22 40.84 L64.52 38.61 L64.82 36.47 L65.12 34.44 L65.42 32.28 L65.72 29.96 L66.03 27.71 L66.33 25.76 L66.63 24.32 L66.93 23.63 L67.23 23.71 L67.53 24.15 L67.83 24.89 L68.13 25.87 L68.43 27.03 L68.73 28.31 L69.03 29.67 L69.33 31.04 L69.63 32.38 L69.93 33.61 L70.23 34.7 L70.53 35.73 L70.83 36.77 L71.13 39.49 L71.43 40 L71.73 40.57 L72.03 41.2 L72.33 41.87 L72.63 42.59 L72.93 43.32 L73.23 44.07 L73.53 44.81 L73.83 45.54 L74.14 46.26 L74.44 46.95 L74.74 47.61 L75.04 48.25 L75.34 48.86 L75.64 49.44 L75.94 50 L76.24 50.54 L76.54 51.05 L76.84 51.55 L77.14 52.03 L77.44 52.49 L77.74 52.94 L78.04 53.37 L78.34 53.79 L78.64 54.2 L78.94 54.59 L79.24 54.97 L79.54 55.33 L79.84 55.69 L80.14 56.03 L80.44 56.37 L80.74 56.7 L81.04 57.01 L81.34 57.32 L81.64 57.63 L81.95 57.92 L82.25 58.22 L82.55 58.5 L82.85 58.78 L83.15 59.05 L83.45 59.32 L83.75 59.58 L84.05 59.83 L84.35 60.08 L84.65 60.32 L84.95 60.55 L85.25 60.77 L85.55 60.99 L85.85 61.19 L86.15 61.39 L86.45 61.58 L86.75 61.77 L87.05 61.94 L87.35 62.11 L87.65 62.27 L87.95 62.42 L88.25 62.56 L88.55 62.7 L88.85 62.83 L89.15 62.96 L89.45 63.08 L89.76 63.19 L90.06 63.31 L90.36 63.42 L90.66 63.52 L90.96 63.62 L91.26 63.72 L91.56 63.82 L91.86 63.92 L92.16 64.01 L92.46 64.1 L92.76 64.19 L93.06 64.28 L93.36 64.37 L93.66 64.46 L93.96 64.55 L94.26 64.63 L94.56 64.72 L94.86 64.81 L95.16 64.9 L95.46 64.99 L95.76 65.08 L96.06 65.17 L96.36 65.27 L96.66 65.36 L96.96 65.46 L97.26 65.55 L97.57 65.65 L97.87 65.75 L98.17 65.85 L98.47 65.94 L98.77 66.04 L99.07 66.14 L99.37 66.24 L99.67 66.34 L99.97 66.44 L100.27 66.54 L100.57 66.64 L100.87 66.74 L101.17 66.84 L101.47 66.94 L101.77 67.04 L102.07 67.13 L102.37 67.23 L102.67 67.33 L102.97 67.43 L103.27 67.52 L103.57 67.62 L103.87 67.71 L104.17 67.8 L104.47 67.9 L104.77 67.99 L105.07 68.08 L105.38 68.17 L105.68 68.26 L105.98 68.34 L106.28 68.43 L106.58 68.51 L106.88 68.6 L107.18 68.68 L107.48 68.76 L107.78 68.84 L108.08 68.92 L108.38 68.99 L108.68 69.07 L108.98 69.14 L109.28 69.22 L109.58 69.29 L109.88 69.36 L110.18 69.44 L110.48 69.51 L110.78 69.58 L111.08 69.66 L111.38 69.73 L111.68 69.8 L111.98 69.88 L112.28 69.95 L112.58 70.03 L112.88 70.1 L113.19 70.18 L113.49 70.25 L113.79 70.32 L114.09 70.4 L114.39 70.47 L114.69 70.54 L114.99 70.61 L115.29 70.68 L115.59 70.75 L115.89 70.82 L116.19 70.89 L116.49 70.95 L116.79 71.01 L117.09 71.08 L117.39 71.14 L117.69 71.2 L117.99 71.26 L118.29 71.31 L118.59 71.36 L118.89 71.42 L119.19 71.47 L119.49 71.51 L119.79 71.56 L120.09 71.6 L120.39 71.64 L120.69 71.67 L121 71.71 L121.3 71.74 L121.6 71.76 L121.9 71.79 L122.2 71.8 L122.5 71.82 L122.8 71.82 L123.1 71.83 L123.4 71.82 L123.7 71.9 L124 71.89 L124.3 71.72 L124.6 71.5 L124.9 71.6 L125.2 71.71 L125.5 71.82 L125.8 71.93 L126.1 72.05 L126.4 72.16 L126.71 72.27 L127.01 72.39 L127.31 72.51 L127.61 72.63 L127.91 72.75 L128.21 72.87 L128.51 72.99 L128.81 73.11 L129.11 73.24 L129.41 73.36 L129.71 73.49 L130.01 73.62 L130.32 73.75 L130.62 73.88 L130.92 74.02 L131.22 74.15 L131.52 74.28 L131.82 74.42 L132.12 74.56 L132.42 74.7 L132.72 74.84 L133.02 74.98 L133.32 75.13 L133.62 75.27 L133.92 75.42 L134.23 75.56 L134.53 75.71 L134.83 75.86 L135.13 76.01 L135.43 76.17 L135.73 76.32 L136.03 76.48 L136.33 76.63 L136.63 76.79 L136.93 76.95 L137.23 77.11 L137.53 77.27 L137.84 77.44 L138.14 77.6 L138.44 77.77 L138.74 77.94 L139.04 78.1 L139.34 78.27 L139.64 78.45 L139.94 78.62 L140.24 78.79 L140.54 78.97 L140.84 79.14 L141.14 79.32 L141.45 79.5 L141.75 79.68 L142.05 79.86 L142.35 80.04 L142.65 80.22 L142.95 80.4 L143.25 80.59 L143.55 80.77 L143.85 80.96 L144.15 81.15 L144.45 81.34 L144.75 81.53 L145.05 81.72 L145.36 81.91 L145.66 82.1 L145.96 82.3 L146.26 82.49 L146.56 82.69 L146.86 82.88 L147.16 83.08 L147.46 83.28 L147.76 83.47 L148.06 83.67 L148.36 83.87 L148.66 84.07 L148.97 84.27 L149.27 84.47 L149.57 84.68 L149.87 84.88 L150.17 85.08 L150.47 85.28 L150.77 85.49 L151.07 85.69 L151.37 85.89 L151.67 86.1 L151.97 86.3 L152.27 86.5 L152.57 86.71 L152.88 86.91 L153.18 87.12 L153.48 87.32 L153.78 87.52 L154.08 87.73 L154.38 87.93 L154.68 88.14 L154.98 88.34 L155.28 88.54 L155.58 88.74 L155.88 88.95 L156.18 89.15 L156.49 89.35 L156.79 89.55 L157.09 89.75 L157.39 89.95 L157.69 90.14 L157.99 90.34 L158.29 90.54 L158.59 90.73 L158.89 90.93 L159.19 91.12 L159.49 91.31 L159.79 91.51 L160.1 91.7 L160.4 91.88 L160.7 92.07 L161 92.26 L161.3 92.44 L161.6 92.63 L161.9 92.81 L162.2 92.99 L162.5 93.17 L162.8 93.34 L163.1 93.52 L163.4 93.69 L163.7 93.86 L164.01 94.03 L164.31 94.2 L164.61 94.37 L164.91 94.53 L165.21 94.69 L165.51 94.85 L165.81 95.01 L166.11 95.17 L166.41 95.32 L166.71 95.47 L167.01 95.62 L167.31 95.77 L167.62 95.91 L167.92 96.06 L168.22 96.2 L168.52 96.33 L168.82 96.47 L169.12 96.6 L169.42 96.73 L169.72 96.86 L170.02 96.99 L170.32 97.11 L170.62 97.23 L170.92 97.35 L171.22 97.46 L171.53 97.57 L171.83 97.68 L172.13 97.79 L172.43 97.9 L172.73 98 L173.03 98.1 L173.33 98.19 L173.63 98.29 L173.93 98.38 L174.23 98.47 L174.53 98.56 L174.83 98.64 L175.14 98.72 L175.44 98.8 L175.74 98.88 L176.04 98.96 L176.34 99.03 L176.64 99.1 L176.94 99.17 L177.24 99.23 L177.54 99.29 L177.84 99.35 L178.14 99.41 L178.44 99.47 L178.75 99.52 L179.05 99.58 L179.35 99.63 L179.65 99.67 L179.95 99.72 L180.25 99.76 L180.55 99.81 L180.85 99.85 L181.15 99.89 L181.45 99.92 L181.75 99.96 L182.05 99.99 L182.35 100.02 L182.66 100.05 L182.96 100.08 L183.26 100.11 L183.56 100.14 L183.86 100.16 L184.16 100.18 L184.46 100.21 L184.76 100.23 L185.06 100.25 L185.36 100.26 L185.66 100.28 L185.96 100.3 L186.27 100.31 L186.57 100.33 L186.87 100.34 L187.17 100.35 L187.47 100.37 L187.77 100.38 L188.07 100.39 L188.37 100.4 L188.67 100.41 L188.97 100.41 L189.27 100.42 L189.57 100.43 L189.88 100.44 L190.18 100.44 L190.48 100.45 L190.78 100.45 L191.08 100.46 L191.38 100.46 L191.68 100.46 L191.98 100.47 L192.28 100.47 L192.58 100.47 L192.88 100.48 L193.18 100.48 L193.48 100.48 L193.79 100.48 L194.09 100.49 L194.39 100.49 L194.69 100.49 L194.99 100.49 L195.29 100.49 L195.59 100.49 L195.89 100.49 L196.19 100.5 L196.49 100.5 L196.79 100.5 L197.09 100.5 L197.4 100.5 L197.7 100.5 L198 100.5 L198.3 100.5 L198.6 100.5 L198.9 100.5 L199.2 100.5" fill="none" stroke="#111b5c" stroke-width="3" stroke-linejoin="round" clip-path="url(#ca)"/>
<path d="M46.5 111.3 L46.8 111.3 L47.1 111.3 L47.4 111.3 L47.7 111.3 L48 111.3 L48.3 111.3 L48.6 111.3 L48.9 111.3 L49.2 111.3 L49.5 111.3 L49.8 111.3 L50.1 111.3 L50.41 111.3 L50.71 111.3 L51.01 111.3 L51.31 111.3 L51.61 111.3 L51.91 111.3 L52.21 111.3 L52.51 111.3 L52.81 111.3 L53.11 111.3 L53.41 111.3 L53.71 111.3 L54.01 111.3 L54.31 111.3 L54.61 111.31 L54.91 111.31 L55.21 111.32 L55.51 111.33 L55.81 111.35 L56.11 111.38 L56.41 111.42 L56.71 111.48 L57.01 111.55 L57.31 111.64 L57.61 111.75 L57.91 111.88 L58.22 112.02 L58.52 112.18 L58.82 112.36 L59.12 112.55 L59.42 112.75 L59.72 112.97 L60.02 113.19 L60.32 113.43 L60.62 113.68 L60.92 113.94 L61.22 114.22 L61.52 114.5 L61.82 114.81 L62.12 115.12 L62.42 115.44 L62.72 115.78 L63.02 116.13 L63.32 116.49 L63.62 116.85 L63.92 117.22 L64.22 117.6 L64.52 117.97 L64.82 118.34 L65.12 118.71 L65.42 119.07 L65.72 119.42 L66.03 119.76 L66.33 120.09 L66.63 120.4 L66.93 120.71 L67.23 121.02 L67.53 121.31 L67.83 121.59 L68.13 121.87 L68.43 122.13 L68.73 122.39 L69.03 122.64 L69.33 122.89 L69.63 123.13 L69.93 123.36 L70.23 123.58 L70.53 123.8 L70.83 124.02 L71.13 124.23 L71.43 124.43 L71.73 124.63 L72.03 124.83 L72.33 125.02 L72.63 125.2 L72.93 125.37 L73.23 125.54 L73.53 125.69 L73.83 125.84 L74.14 125.97 L74.44 126.1 L74.74 126.21 L75.04 126.32 L75.34 126.41 L75.64 126.5 L75.94 126.57 L76.24 126.65 L76.54 126.71 L76.84 126.77 L77.14 126.83 L77.44 126.88 L77.74 126.93 L78.04 126.97 L78.34 127.01 L78.64 127.05 L78.94 127.08 L79.24 127.1 L79.54 127.13 L79.84 127.14 L80.14 127.16 L80.44 127.17 L80.74 127.17 L81.04 127.17 L81.34 127.17 L81.64 127.16 L81.95 127.16 L82.25 127.15 L82.55 127.13 L82.85 127.12 L83.15 127.1 L83.45 127.08 L83.75 127.07 L84.05 127.04 L84.35 127.02 L84.65 127 L84.95 126.97 L85.25 126.95 L85.55 126.92 L85.85 126.89 L86.15 126.87 L86.45 126.84 L86.75 126.81 L87.05 126.78 L87.35 126.75 L87.65 126.71 L87.95 126.68 L88.25 126.65 L88.55 126.62 L88.85 126.59 L89.15 126.56 L89.45 126.53 L89.76 126.5 L90.06 126.46 L90.36 126.43 L90.66 126.4 L90.96 126.37 L91.26 126.34 L91.56 126.3 L91.86 126.27 L92.16 126.23 L92.46 126.2 L92.76 126.16 L93.06 126.12 L93.36 126.08 L93.66 126.04 L93.96 126 L94.26 125.96 L94.56 125.92 L94.86 125.88 L95.16 125.84 L95.46 125.79 L95.76 125.75 L96.06 125.71 L96.36 125.67 L96.66 125.63 L96.96 125.59 L97.26 125.54 L97.57 125.5 L97.87 125.46 L98.17 125.43 L98.47 125.39 L98.77 125.35 L99.07 125.31 L99.37 125.28 L99.67 125.25 L99.97 125.21 L100.27 125.18 L100.57 125.15 L100.87 125.12 L101.17 125.09 L101.47 125.07 L101.77 125.04 L102.07 125.01 L102.37 124.99 L102.67 124.97 L102.97 124.94 L103.27 124.92 L103.57 124.9 L103.87 124.88 L104.17 124.86 L104.47 124.84 L104.77 124.82 L105.07 124.79 L105.38 124.78 L105.68 124.76 L105.98 124.74 L106.28 124.72 L106.58 124.7 L106.88 124.68 L107.18 124.66 L107.48 124.64 L107.78 124.62 L108.08 124.6 L108.38 124.58 L108.68 124.57 L108.98 124.55 L109.28 124.53 L109.58 124.51 L109.88 124.49 L110.18 124.47 L110.48 124.45 L110.78 124.43 L111.08 124.41 L111.38 124.39 L111.68 124.37 L111.98 124.36 L112.28 124.34 L112.58 124.33 L112.88 124.31 L113.19 124.3 L113.49 124.28 L113.79 124.27 L114.09 124.26 L114.39 124.25 L114.69 124.23 L114.99 124.22 L115.29 124.21 L115.59 124.2 L115.89 124.19 L116.19 124.18 L116.49 124.17 L116.79 124.15 L117.09 124.14 L117.39 124.13 L117.69 124.11 L117.99 124.09 L118.29 124.08 L118.59 124.06 L118.89 124.04 L119.19 124.02 L119.49 124 L119.79 123.97 L120.09 123.94 L120.39 123.91 L120.69 123.88 L121 123.84 L121.3 123.8 L121.6 123.75 L121.9 123.69 L122.2 123.62 L122.5 123.54 L122.8 123.44 L123.1 123.34 L123.4 123.22 L123.7 123.34 L124 122.77 L124.3 121.98 L124.6 121.23 L124.9 121.18 L125.2 121.13 L125.5 121.08 L125.8 121.03 L126.1 120.98 L126.4 120.93 L126.71 120.88 L127.01 120.83 L127.31 120.78 L127.61 120.73 L127.91 120.68 L128.21 120.62 L128.51 120.57 L128.81 120.52 L129.11 120.46 L129.41 120.41 L129.71 120.35 L130.01 120.3 L130.32 120.24 L130.62 120.18 L130.92 120.13 L131.22 120.07 L131.52 120.01 L131.82 119.95 L132.12 119.89 L132.42 119.84 L132.72 119.78 L133.02 119.72 L133.32 119.65 L133.62 119.59 L133.92 119.53 L134.23 119.47 L134.53 119.41 L134.83 119.34 L135.13 119.28 L135.43 119.22 L135.73 119.15 L136.03 119.09 L136.33 119.02 L136.63 118.96 L136.93 118.89 L137.23 118.83 L137.53 118.76 L137.84 118.69 L138.14 118.63 L138.44 118.56 L138.74 118.49 L139.04 118.42 L139.34 118.35 L139.64 118.29 L139.94 118.22 L140.24 118.15 L140.54 118.08 L140.84 118.01 L141.14 117.94 L141.45 117.87 L141.75 117.79 L142.05 117.72 L142.35 117.65 L142.65 117.58 L142.95 117.51 L143.25 117.44 L143.55 117.37 L143.85 117.29 L144.15 117.22 L144.45 117.15 L144.75 117.08 L145.05 117 L145.36 116.93 L145.66 116.86 L145.96 116.78 L146.26 116.71 L146.56 116.64 L146.86 116.57 L147.16 116.49 L147.46 116.42 L147.76 116.35 L148.06 116.27 L148.36 116.2 L148.66 116.13 L148.97 116.05 L149.27 115.98 L149.57 115.91 L149.87 115.84 L150.17 115.77 L150.47 115.69 L150.77 115.62 L151.07 115.55 L151.37 115.48 L151.67 115.41 L151.97 115.34 L152.27 115.27 L152.57 115.2 L152.88 115.13 L153.18 115.06 L153.48 114.99 L153.78 114.92 L154.08 114.85 L154.38 114.79 L154.68 114.72 L154.98 114.65 L155.28 114.59 L155.58 114.52 L155.88 114.46 L156.18 114.39 L156.49 114.33 L156.79 114.26 L157.09 114.2 L157.39 114.14 L157.69 114.08 L157.99 114.02 L158.29 113.96 L158.59 113.9 L158.89 113.84 L159.19 113.78 L159.49 113.72 L159.79 113.67 L160.1 113.61 L160.4 113.56 L160.7 113.5 L161 113.45 L161.3 113.4 L161.6 113.34 L161.9 113.29 L162.2 113.24 L162.5 113.19 L162.8 113.15 L163.1 113.1 L163.4 113.05 L163.7 113.01 L164.01 112.96 L164.31 112.92 L164.61 112.87 L164.91 112.83 L165.21 112.79 L165.51 112.75 L165.81 112.71 L166.11 112.67 L166.41 112.63 L166.71 112.6 L167.01 112.56 L167.31 112.53 L167.62 112.49 L167.92 112.46 L168.22 112.43 L168.52 112.4 L168.82 112.37 L169.12 112.34 L169.42 112.31 L169.72 112.28 L170.02 112.26 L170.32 112.23 L170.62 112.2 L170.92 112.18 L171.22 112.16 L171.53 112.13 L171.83 112.11 L172.13 112.09 L172.43 112.07 L172.73 112.05 L173.03 112.03 L173.33 112.02 L173.63 112 L173.93 111.98 L174.23 111.97 L174.53 111.95 L174.83 111.94 L175.14 111.92 L175.44 111.91 L175.74 111.9 L176.04 111.88 L176.34 111.87 L176.64 111.86 L176.94 111.85 L177.24 111.84 L177.54 111.83 L177.84 111.82 L178.14 111.82 L178.44 111.81 L178.75 111.8 L179.05 111.79 L179.35 111.79 L179.65 111.78 L179.95 111.77 L180.25 111.77 L180.55 111.76 L180.85 111.76 L181.15 111.75 L181.45 111.75 L181.75 111.75 L182.05 111.74 L182.35 111.74 L182.66 111.74 L182.96 111.73 L183.26 111.73 L183.56 111.73 L183.86 111.73 L184.16 111.72 L184.46 111.72 L184.76 111.72 L185.06 111.72 L185.36 111.72 L185.66 111.71 L185.96 111.71 L186.27 111.71 L186.57 111.71 L186.87 111.71 L187.17 111.71 L187.47 111.71 L187.77 111.71 L188.07 111.71 L188.37 111.71 L188.67 111.71 L188.97 111.71 L189.27 111.7 L189.57 111.7 L189.88 111.7 L190.18 111.7 L190.48 111.7 L190.78 111.7 L191.08 111.7 L191.38 111.7 L191.68 111.7 L191.98 111.7 L192.28 111.7 L192.58 111.7 L192.88 111.7 L193.18 111.7 L193.48 111.7 L193.79 111.7 L194.09 111.7 L194.39 111.7 L194.69 111.7 L194.99 111.7 L195.29 111.7 L195.59 111.7 L195.89 111.7 L196.19 111.7 L196.49 111.7 L196.79 111.7 L197.09 111.7 L197.4 111.7 L197.7 111.7 L198 111.7 L198.3 111.7 L198.6 111.7 L198.9 111.7 L199.2 111.7" fill="none" stroke="#d42a0b" stroke-width="3" stroke-linejoin="round" clip-path="url(#ca)"/>
<g fill="none" stroke="#30385a" stroke-width="0.7" stroke-opacity="0.35" clip-path="url(#cb)"><circle cx="257.11" cy="122.94" r="2.2"/><circle cx="257.88" cy="124.82" r="2.2"/><circle cx="258.64" cy="122.53" r="2.2"/><circle cx="259.4" cy="123.02" r="2.2"/><circle cx="260.17" cy="123.07" r="2.2"/><circle cx="260.93" cy="124.25" r="2.2"/><circle cx="261.69" cy="124.18" r="2.2"/><circle cx="262.46" cy="117.74" r="2.2"/><circle cx="263.22" cy="122.78" r="2.2"/><circle cx="263.98" cy="121.6" r="2.2"/><circle cx="264.75" cy="116.14" r="2.2"/><circle cx="265.51" cy="120.5" r="2.2"/><circle cx="266.28" cy="113.42" r="2.2"/><circle cx="267.04" cy="108.83" r="2.2"/><circle cx="267.8" cy="104.45" r="2.2"/><circle cx="268.57" cy="99.32" r="2.2"/><circle cx="269.33" cy="94.22" r="2.2"/><circle cx="270.09" cy="87.74" r="2.2"/><circle cx="270.86" cy="79.49" r="2.2"/><circle cx="271.62" cy="71.8" r="2.2"/><circle cx="272.38" cy="61.81" r="2.2"/><circle cx="273.15" cy="52.23" r="2.2"/><circle cx="273.91" cy="44.36" r="2.2"/><circle cx="274.67" cy="37.23" r="2.2"/><circle cx="275.44" cy="29.51" r="2.2"/><circle cx="276.2" cy="21.6" r="2.2"/><circle cx="276.96" cy="18.98" r="2.2"/><circle cx="277.73" cy="20.08" r="2.2"/><circle cx="278.49" cy="22.27" r="2.2"/><circle cx="279.25" cy="23.42" r="2.2"/><circle cx="280.02" cy="26.49" r="2.2"/><circle cx="280.78" cy="28.74" r="2.2"/><circle cx="281.55" cy="33.55" r="2.2"/><circle cx="282.31" cy="37.12" r="2.2"/><circle cx="283.07" cy="40.3" r="2.2"/><circle cx="283.84" cy="41.9" r="2.2"/><circle cx="284.6" cy="44.36" r="2.2"/><circle cx="285.36" cy="46.13" r="2.2"/><circle cx="286.13" cy="48.57" r="2.2"/><circle cx="286.89" cy="49.6" r="2.2"/><circle cx="287.65" cy="53.77" r="2.2"/><circle cx="288.42" cy="56.32" r="2.2"/><circle cx="289.18" cy="56.79" r="2.2"/><circle cx="289.94" cy="58.18" r="2.2"/><circle cx="290.71" cy="59.59" r="2.2"/><circle cx="291.47" cy="60.14" r="2.2"/><circle cx="292.23" cy="62.43" r="2.2"/><circle cx="293" cy="62.98" r="2.2"/><circle cx="293.76" cy="65.53" r="2.2"/><circle cx="294.52" cy="62.93" r="2.2"/><circle cx="295.29" cy="68.08" r="2.2"/><circle cx="296.05" cy="68.69" r="2.2"/><circle cx="296.82" cy="69" r="2.2"/><circle cx="297.58" cy="70.38" r="2.2"/><circle cx="298.34" cy="70.74" r="2.2"/><circle cx="299.11" cy="71.85" r="2.2"/><circle cx="299.87" cy="70.06" r="2.2"/><circle cx="300.63" cy="69.18" r="2.2"/><circle cx="301.4" cy="68.84" r="2.2"/><circle cx="302.16" cy="70.76" r="2.2"/><circle cx="302.92" cy="72.65" r="2.2"/><circle cx="303.69" cy="70.32" r="2.2"/><circle cx="304.45" cy="71.86" r="2.2"/><circle cx="305.21" cy="70.62" r="2.2"/><circle cx="305.98" cy="73.16" r="2.2"/><circle cx="306.74" cy="70.37" r="2.2"/><circle cx="307.5" cy="73.7" r="2.2"/><circle cx="308.27" cy="73.57" r="2.2"/><circle cx="309.03" cy="73.55" r="2.2"/><circle cx="309.79" cy="72.88" r="2.2"/><circle cx="310.56" cy="73.87" r="2.2"/><circle cx="311.32" cy="71.84" r="2.2"/><circle cx="312.09" cy="73.5" r="2.2"/><circle cx="312.85" cy="75.63" r="2.2"/><circle cx="313.61" cy="75.78" r="2.2"/><circle cx="314.38" cy="73.54" r="2.2"/><circle cx="315.14" cy="72.27" r="2.2"/><circle cx="315.9" cy="75.37" r="2.2"/><circle cx="316.67" cy="73.11" r="2.2"/><circle cx="317.43" cy="75.73" r="2.2"/><circle cx="318.19" cy="74.29" r="2.2"/><circle cx="318.96" cy="74.38" r="2.2"/><circle cx="319.72" cy="76.15" r="2.2"/><circle cx="320.48" cy="74.28" r="2.2"/><circle cx="321.25" cy="74.7" r="2.2"/><circle cx="322.01" cy="73.88" r="2.2"/><circle cx="322.77" cy="72.95" r="2.2"/><circle cx="323.54" cy="75.78" r="2.2"/><circle cx="324.3" cy="75.25" r="2.2"/><circle cx="325.06" cy="77.54" r="2.2"/><circle cx="325.83" cy="75.28" r="2.2"/><circle cx="326.59" cy="74.33" r="2.2"/><circle cx="327.36" cy="74.6" r="2.2"/><circle cx="328.12" cy="73.72" r="2.2"/><circle cx="328.88" cy="75.1" r="2.2"/><circle cx="329.65" cy="76.39" r="2.2"/><circle cx="330.41" cy="76.34" r="2.2"/><circle cx="331.17" cy="75.62" r="2.2"/><circle cx="331.94" cy="75.84" r="2.2"/><circle cx="332.7" cy="75.04" r="2.2"/><circle cx="332.7" cy="74.01" r="2.2"/><circle cx="333.95" cy="79.07" r="2.2"/><circle cx="335.21" cy="73.48" r="2.2"/><circle cx="336.46" cy="79.11" r="2.2"/><circle cx="337.72" cy="77.44" r="2.2"/><circle cx="338.97" cy="77.01" r="2.2"/><circle cx="340.23" cy="79.49" r="2.2"/><circle cx="341.48" cy="80.12" r="2.2"/><circle cx="342.74" cy="81.8" r="2.2"/><circle cx="343.99" cy="79.96" r="2.2"/><circle cx="345.24" cy="84.78" r="2.2"/><circle cx="346.5" cy="83.1" r="2.2"/><circle cx="347.75" cy="86.21" r="2.2"/><circle cx="349.01" cy="79.52" r="2.2"/><circle cx="350.26" cy="88.16" r="2.2"/><circle cx="351.52" cy="86.81" r="2.2"/><circle cx="352.77" cy="83.54" r="2.2"/><circle cx="354.03" cy="88.91" r="2.2"/><circle cx="355.28" cy="87.8" r="2.2"/><circle cx="356.54" cy="89.99" r="2.2"/><circle cx="357.79" cy="91.59" r="2.2"/><circle cx="359.04" cy="96.7" r="2.2"/><circle cx="360.3" cy="95.2" r="2.2"/><circle cx="361.55" cy="92.52" r="2.2"/><circle cx="362.81" cy="95.49" r="2.2"/><circle cx="364.06" cy="100.51" r="2.2"/><circle cx="365.32" cy="99.27" r="2.2"/><circle cx="366.57" cy="103.49" r="2.2"/><circle cx="367.83" cy="103.3" r="2.2"/><circle cx="369.08" cy="99.04" r="2.2"/><circle cx="370.33" cy="96.23" r="2.2"/><circle cx="371.59" cy="103.02" r="2.2"/><circle cx="372.84" cy="108.41" r="2.2"/><circle cx="374.1" cy="105.56" r="2.2"/><circle cx="375.35" cy="105.08" r="2.2"/><circle cx="376.61" cy="107.94" r="2.2"/><circle cx="377.86" cy="100.64" r="2.2"/><circle cx="379.12" cy="110.05" r="2.2"/><circle cx="380.37" cy="107.11" r="2.2"/><circle cx="381.63" cy="104.02" r="2.2"/><circle cx="382.88" cy="106.27" r="2.2"/><circle cx="384.13" cy="107.09" r="2.2"/><circle cx="385.39" cy="106.53" r="2.2"/><circle cx="386.64" cy="108.43" r="2.2"/><circle cx="387.9" cy="110.39" r="2.2"/><circle cx="389.15" cy="107.65" r="2.2"/><circle cx="390.41" cy="111.15" r="2.2"/><circle cx="391.66" cy="110.9" r="2.2"/><circle cx="392.92" cy="107.1" r="2.2"/><circle cx="394.17" cy="108.43" r="2.2"/><circle cx="395.42" cy="105.92" r="2.2"/><circle cx="396.68" cy="111.8" r="2.2"/><circle cx="397.93" cy="106.2" r="2.2"/><circle cx="399.19" cy="112.39" r="2.2"/><circle cx="400.44" cy="113.88" r="2.2"/><circle cx="401.7" cy="107.91" r="2.2"/><circle cx="402.95" cy="109.69" r="2.2"/><circle cx="404.21" cy="109.24" r="2.2"/><circle cx="405.46" cy="112.69" r="2.2"/><circle cx="406.72" cy="112.62" r="2.2"/></g>
<g fill="none" stroke="#46519a" stroke-width="0.7" stroke-opacity="0.35" clip-path="url(#cb)"><circle cx="257.11" cy="120.91" r="2.2"/><circle cx="257.88" cy="123.74" r="2.2"/><circle cx="258.64" cy="122.99" r="2.2"/><circle cx="259.4" cy="126.05" r="2.2"/><circle cx="260.17" cy="121.21" r="2.2"/><circle cx="260.93" cy="122.58" r="2.2"/><circle cx="261.69" cy="124.13" r="2.2"/><circle cx="262.46" cy="125.63" r="2.2"/><circle cx="263.22" cy="120.71" r="2.2"/><circle cx="263.98" cy="119.49" r="2.2"/><circle cx="264.75" cy="118.93" r="2.2"/><circle cx="265.51" cy="115.73" r="2.2"/><circle cx="266.28" cy="112.36" r="2.2"/><circle cx="267.04" cy="108.35" r="2.2"/><circle cx="267.8" cy="106.29" r="2.2"/><circle cx="268.57" cy="101.27" r="2.2"/><circle cx="269.33" cy="93.57" r="2.2"/><circle cx="270.09" cy="87.06" r="2.2"/><circle cx="270.86" cy="80.71" r="2.2"/><circle cx="271.62" cy="72.21" r="2.2"/><circle cx="272.38" cy="61.67" r="2.2"/><circle cx="273.15" cy="52.26" r="2.2"/><circle cx="273.91" cy="46.27" r="2.2"/><circle cx="274.67" cy="36.65" r="2.2"/><circle cx="275.44" cy="29.01" r="2.2"/><circle cx="276.2" cy="21.7" r="2.2"/><circle cx="276.96" cy="20.5" r="2.2"/><circle cx="277.73" cy="20.47" r="2.2"/><circle cx="278.49" cy="23.1" r="2.2"/><circle cx="279.25" cy="25.37" r="2.2"/><circle cx="280.02" cy="27.6" r="2.2"/><circle cx="280.78" cy="29.01" r="2.2"/><circle cx="281.55" cy="32.99" r="2.2"/><circle cx="282.31" cy="36.44" r="2.2"/><circle cx="283.07" cy="40.21" r="2.2"/><circle cx="283.84" cy="41.76" r="2.2"/><circle cx="284.6" cy="44.14" r="2.2"/><circle cx="285.36" cy="47.03" r="2.2"/><circle cx="286.13" cy="49.93" r="2.2"/><circle cx="286.89" cy="52.28" r="2.2"/><circle cx="287.65" cy="53.52" r="2.2"/><circle cx="288.42" cy="55.5" r="2.2"/><circle cx="289.18" cy="58.47" r="2.2"/><circle cx="289.94" cy="59.91" r="2.2"/><circle cx="290.71" cy="59.68" r="2.2"/><circle cx="291.47" cy="60.74" r="2.2"/><circle cx="292.23" cy="61.84" r="2.2"/><circle cx="293" cy="63.67" r="2.2"/><circle cx="293.76" cy="65.35" r="2.2"/><circle cx="294.52" cy="65.85" r="2.2"/><circle cx="295.29" cy="68.36" r="2.2"/><circle cx="296.05" cy="67.92" r="2.2"/><circle cx="296.82" cy="69.86" r="2.2"/><circle cx="297.58" cy="70.99" r="2.2"/><circle cx="298.34" cy="70.5" r="2.2"/><circle cx="299.11" cy="69.69" r="2.2"/><circle cx="299.87" cy="70.26" r="2.2"/><circle cx="300.63" cy="71.03" r="2.2"/><circle cx="301.4" cy="71.01" r="2.2"/><circle cx="302.16" cy="72.44" r="2.2"/><circle cx="302.92" cy="73.55" r="2.2"/><circle cx="303.69" cy="73.26" r="2.2"/><circle cx="304.45" cy="72.88" r="2.2"/><circle cx="305.21" cy="72.03" r="2.2"/><circle cx="305.98" cy="72.23" r="2.2"/><circle cx="306.74" cy="73" r="2.2"/><circle cx="307.5" cy="75.03" r="2.2"/><circle cx="308.27" cy="75.06" r="2.2"/><circle cx="309.03" cy="75.9" r="2.2"/><circle cx="309.79" cy="74.01" r="2.2"/><circle cx="310.56" cy="75.4" r="2.2"/><circle cx="311.32" cy="72.54" r="2.2"/><circle cx="312.09" cy="73.05" r="2.2"/><circle cx="312.85" cy="70.22" r="2.2"/><circle cx="313.61" cy="73.25" r="2.2"/><circle cx="314.38" cy="74.08" r="2.2"/><circle cx="315.14" cy="74.05" r="2.2"/><circle cx="315.9" cy="72.78" r="2.2"/><circle cx="316.67" cy="72.75" r="2.2"/><circle cx="317.43" cy="75.3" r="2.2"/><circle cx="318.19" cy="73.53" r="2.2"/><circle cx="318.96" cy="75.78" r="2.2"/><circle cx="319.72" cy="75.06" r="2.2"/><circle cx="320.48" cy="74.58" r="2.2"/><circle cx="321.25" cy="75.02" r="2.2"/><circle cx="322.01" cy="76.3" r="2.2"/><circle cx="322.77" cy="75.12" r="2.2"/><circle cx="323.54" cy="76.39" r="2.2"/><circle cx="324.3" cy="77.32" r="2.2"/><circle cx="325.06" cy="73.3" r="2.2"/><circle cx="325.83" cy="78.05" r="2.2"/><circle cx="326.59" cy="75.86" r="2.2"/><circle cx="327.36" cy="77.93" r="2.2"/><circle cx="328.12" cy="76.72" r="2.2"/><circle cx="328.88" cy="74.92" r="2.2"/><circle cx="329.65" cy="75.83" r="2.2"/><circle cx="330.41" cy="75.66" r="2.2"/><circle cx="331.17" cy="74.72" r="2.2"/><circle cx="331.94" cy="77.09" r="2.2"/><circle cx="332.7" cy="73.8" r="2.2"/><circle cx="332.7" cy="80.12" r="2.2"/><circle cx="333.95" cy="78.62" r="2.2"/><circle cx="335.21" cy="82.46" r="2.2"/><circle cx="336.46" cy="84" r="2.2"/><circle cx="337.72" cy="88.72" r="2.2"/><circle cx="338.97" cy="85.09" r="2.2"/><circle cx="340.23" cy="85.8" r="2.2"/><circle cx="341.48" cy="76.61" r="2.2"/><circle cx="342.74" cy="82.84" r="2.2"/><circle cx="343.99" cy="78.29" r="2.2"/><circle cx="345.24" cy="85.28" r="2.2"/><circle cx="346.5" cy="85.7" r="2.2"/><circle cx="347.75" cy="89.69" r="2.2"/><circle cx="349.01" cy="89.41" r="2.2"/><circle cx="350.26" cy="89.24" r="2.2"/><circle cx="351.52" cy="87.13" r="2.2"/><circle cx="352.77" cy="90.18" r="2.2"/><circle cx="354.03" cy="93.96" r="2.2"/><circle cx="355.28" cy="98.27" r="2.2"/><circle cx="356.54" cy="90.88" r="2.2"/><circle cx="357.79" cy="92.95" r="2.2"/><circle cx="359.04" cy="97.24" r="2.2"/><circle cx="360.3" cy="98.14" r="2.2"/><circle cx="361.55" cy="99.5" r="2.2"/><circle cx="362.81" cy="98.37" r="2.2"/><circle cx="364.06" cy="101.41" r="2.2"/><circle cx="365.32" cy="104.82" r="2.2"/><circle cx="366.57" cy="106.02" r="2.2"/><circle cx="367.83" cy="102.22" r="2.2"/><circle cx="369.08" cy="104.12" r="2.2"/><circle cx="370.33" cy="109.07" r="2.2"/><circle cx="371.59" cy="106.45" r="2.2"/><circle cx="372.84" cy="111.15" r="2.2"/><circle cx="374.1" cy="111.03" r="2.2"/><circle cx="375.35" cy="108.7" r="2.2"/><circle cx="376.61" cy="110.21" r="2.2"/><circle cx="377.86" cy="111.14" r="2.2"/><circle cx="379.12" cy="110.77" r="2.2"/><circle cx="380.37" cy="111.01" r="2.2"/><circle cx="381.63" cy="112.55" r="2.2"/><circle cx="382.88" cy="108.9" r="2.2"/><circle cx="384.13" cy="103.99" r="2.2"/><circle cx="385.39" cy="111.35" r="2.2"/><circle cx="386.64" cy="108.88" r="2.2"/><circle cx="387.9" cy="112.96" r="2.2"/><circle cx="389.15" cy="112.03" r="2.2"/><circle cx="390.41" cy="114.81" r="2.2"/><circle cx="391.66" cy="112.18" r="2.2"/><circle cx="392.92" cy="115.85" r="2.2"/><circle cx="394.17" cy="110.42" r="2.2"/><circle cx="395.42" cy="112.74" r="2.2"/><circle cx="396.68" cy="111.2" r="2.2"/><circle cx="397.93" cy="119.09" r="2.2"/><circle cx="399.19" cy="110.36" r="2.2"/><circle cx="400.44" cy="114.47" r="2.2"/><circle cx="401.7" cy="115.53" r="2.2"/><circle cx="402.95" cy="108.59" r="2.2"/><circle cx="404.21" cy="117.51" r="2.2"/><circle cx="405.46" cy="116.38" r="2.2"/><circle cx="406.72" cy="111.26" r="2.2"/></g>
<g fill="none" stroke="#7d89c0" stroke-width="0.7" stroke-opacity="0.35" clip-path="url(#cb)"><circle cx="257.11" cy="121.01" r="2.2"/><circle cx="257.88" cy="124.32" r="2.2"/><circle cx="258.64" cy="121.63" r="2.2"/><circle cx="259.4" cy="123.54" r="2.2"/><circle cx="260.17" cy="122.31" r="2.2"/><circle cx="260.93" cy="122.8" r="2.2"/><circle cx="261.69" cy="121.16" r="2.2"/><circle cx="262.46" cy="122.43" r="2.2"/><circle cx="263.22" cy="122.45" r="2.2"/><circle cx="263.98" cy="120.67" r="2.2"/><circle cx="264.75" cy="118.97" r="2.2"/><circle cx="265.51" cy="117.12" r="2.2"/><circle cx="266.28" cy="111.97" r="2.2"/><circle cx="267.04" cy="108.9" r="2.2"/><circle cx="267.8" cy="105.77" r="2.2"/><circle cx="268.57" cy="99.85" r="2.2"/><circle cx="269.33" cy="93.27" r="2.2"/><circle cx="270.09" cy="87.05" r="2.2"/><circle cx="270.86" cy="79.61" r="2.2"/><circle cx="271.62" cy="70.26" r="2.2"/><circle cx="272.38" cy="61.65" r="2.2"/><circle cx="273.15" cy="52.48" r="2.2"/><circle cx="273.91" cy="45.5" r="2.2"/><circle cx="274.67" cy="36.72" r="2.2"/><circle cx="275.44" cy="29.02" r="2.2"/><circle cx="276.2" cy="23.57" r="2.2"/><circle cx="276.96" cy="21.09" r="2.2"/><circle cx="277.73" cy="21.84" r="2.2"/><circle cx="278.49" cy="23.61" r="2.2"/><circle cx="279.25" cy="25.05" r="2.2"/><circle cx="280.02" cy="27.13" r="2.2"/><circle cx="280.78" cy="31.98" r="2.2"/><circle cx="281.55" cy="34.03" r="2.2"/><circle cx="282.31" cy="39.7" r="2.2"/><circle cx="283.07" cy="41.55" r="2.2"/><circle cx="283.84" cy="45.11" r="2.2"/><circle cx="284.6" cy="48.31" r="2.2"/><circle cx="285.36" cy="50.04" r="2.2"/><circle cx="286.13" cy="53.26" r="2.2"/><circle cx="286.89" cy="56.3" r="2.2"/><circle cx="287.65" cy="56.39" r="2.2"/><circle cx="288.42" cy="59.53" r="2.2"/><circle cx="289.18" cy="60.81" r="2.2"/><circle cx="289.94" cy="63.86" r="2.2"/><circle cx="290.71" cy="65.62" r="2.2"/><circle cx="291.47" cy="65.54" r="2.2"/><circle cx="292.23" cy="68.15" r="2.2"/><circle cx="293" cy="70.01" r="2.2"/><circle cx="293.76" cy="72.28" r="2.2"/><circle cx="294.52" cy="72.93" r="2.2"/><circle cx="295.29" cy="74.07" r="2.2"/><circle cx="296.05" cy="75.04" r="2.2"/><circle cx="296.82" cy="74.51" r="2.2"/><circle cx="297.58" cy="75.6" r="2.2"/><circle cx="298.34" cy="76.12" r="2.2"/><circle cx="299.11" cy="75.76" r="2.2"/><circle cx="299.87" cy="77.31" r="2.2"/><circle cx="300.63" cy="79.58" r="2.2"/><circle cx="301.4" cy="75.75" r="2.2"/><circle cx="302.16" cy="80.79" r="2.2"/><circle cx="302.92" cy="78.13" r="2.2"/><circle cx="303.69" cy="77.55" r="2.2"/><circle cx="304.45" cy="78.44" r="2.2"/><circle cx="305.21" cy="79.15" r="2.2"/><circle cx="305.98" cy="81.87" r="2.2"/><circle cx="306.74" cy="79.76" r="2.2"/><circle cx="307.5" cy="80.08" r="2.2"/><circle cx="308.27" cy="81.51" r="2.2"/><circle cx="309.03" cy="80.79" r="2.2"/><circle cx="309.79" cy="81.27" r="2.2"/><circle cx="310.56" cy="78.01" r="2.2"/><circle cx="311.32" cy="82.23" r="2.2"/><circle cx="312.09" cy="81.22" r="2.2"/><circle cx="312.85" cy="83" r="2.2"/><circle cx="313.61" cy="82.65" r="2.2"/><circle cx="314.38" cy="81.1" r="2.2"/><circle cx="315.14" cy="81.62" r="2.2"/><circle cx="315.9" cy="82.98" r="2.2"/><circle cx="316.67" cy="85.7" r="2.2"/><circle cx="317.43" cy="86.21" r="2.2"/><circle cx="318.19" cy="84.54" r="2.2"/><circle cx="318.96" cy="86.98" r="2.2"/><circle cx="319.72" cy="84.17" r="2.2"/><circle cx="320.48" cy="84.21" r="2.2"/><circle cx="321.25" cy="86.44" r="2.2"/><circle cx="322.01" cy="86.88" r="2.2"/><circle cx="322.77" cy="86.47" r="2.2"/><circle cx="323.54" cy="86.35" r="2.2"/><circle cx="324.3" cy="86.43" r="2.2"/><circle cx="325.06" cy="83.38" r="2.2"/><circle cx="325.83" cy="88.61" r="2.2"/><circle cx="326.59" cy="89.1" r="2.2"/><circle cx="327.36" cy="87.78" r="2.2"/><circle cx="328.12" cy="87" r="2.2"/><circle cx="328.88" cy="88.78" r="2.2"/><circle cx="329.65" cy="87.07" r="2.2"/><circle cx="330.41" cy="87.85" r="2.2"/><circle cx="331.17" cy="91.09" r="2.2"/><circle cx="331.94" cy="90.57" r="2.2"/><circle cx="332.7" cy="89.25" r="2.2"/><circle cx="332.7" cy="87.78" r="2.2"/><circle cx="333.95" cy="90.38" r="2.2"/><circle cx="335.21" cy="91.03" r="2.2"/><circle cx="336.46" cy="91.63" r="2.2"/><circle cx="337.72" cy="90.06" r="2.2"/><circle cx="338.97" cy="93.63" r="2.2"/><circle cx="340.23" cy="94.14" r="2.2"/><circle cx="341.48" cy="95.18" r="2.2"/><circle cx="342.74" cy="95.27" r="2.2"/><circle cx="343.99" cy="92.43" r="2.2"/><circle cx="345.24" cy="100.45" r="2.2"/><circle cx="346.5" cy="100.58" r="2.2"/><circle cx="347.75" cy="98.31" r="2.2"/><circle cx="349.01" cy="107.4" r="2.2"/><circle cx="350.26" cy="98.68" r="2.2"/><circle cx="351.52" cy="100.65" r="2.2"/><circle cx="352.77" cy="103.31" r="2.2"/><circle cx="354.03" cy="107.52" r="2.2"/><circle cx="355.28" cy="101.85" r="2.2"/><circle cx="356.54" cy="110.58" r="2.2"/><circle cx="357.79" cy="113.43" r="2.2"/><circle cx="359.04" cy="111.64" r="2.2"/><circle cx="360.3" cy="116.35" r="2.2"/><circle cx="361.55" cy="111.79" r="2.2"/><circle cx="362.81" cy="111.86" r="2.2"/><circle cx="364.06" cy="106.01" r="2.2"/><circle cx="365.32" cy="114.19" r="2.2"/><circle cx="366.57" cy="117.83" r="2.2"/><circle cx="367.83" cy="116.08" r="2.2"/><circle cx="369.08" cy="116.03" r="2.2"/><circle cx="370.33" cy="114.42" r="2.2"/><circle cx="371.59" cy="119.48" r="2.2"/><circle cx="372.84" cy="117.88" r="2.2"/><circle cx="374.1" cy="116.76" r="2.2"/><circle cx="375.35" cy="113.55" r="2.2"/><circle cx="376.61" cy="114.99" r="2.2"/><circle cx="377.86" cy="117.63" r="2.2"/><circle cx="379.12" cy="122.72" r="2.2"/><circle cx="380.37" cy="114.68" r="2.2"/><circle cx="381.63" cy="116.29" r="2.2"/><circle cx="382.88" cy="119.7" r="2.2"/><circle cx="384.13" cy="120.72" r="2.2"/><circle cx="385.39" cy="122.96" r="2.2"/><circle cx="386.64" cy="119.2" r="2.2"/><circle cx="387.9" cy="120.18" r="2.2"/><circle cx="389.15" cy="119.04" r="2.2"/><circle cx="390.41" cy="119.09" r="2.2"/><circle cx="391.66" cy="117.43" r="2.2"/><circle cx="392.92" cy="121.7" r="2.2"/><circle cx="394.17" cy="124.15" r="2.2"/><circle cx="395.42" cy="119.84" r="2.2"/><circle cx="396.68" cy="118.38" r="2.2"/><circle cx="397.93" cy="117.27" r="2.2"/><circle cx="399.19" cy="116.62" r="2.2"/><circle cx="400.44" cy="121.56" r="2.2"/><circle cx="401.7" cy="118.29" r="2.2"/><circle cx="402.95" cy="114.37" r="2.2"/><circle cx="404.21" cy="119.71" r="2.2"/><circle cx="405.46" cy="118.53" r="2.2"/><circle cx="406.72" cy="120.34" r="2.2"/></g>
<g fill="none" stroke="#e4a292" stroke-width="0.7" stroke-opacity="0.35" clip-path="url(#cb)"><circle cx="257.11" cy="121.03" r="2.2"/><circle cx="257.88" cy="122.39" r="2.2"/><circle cx="258.64" cy="124.5" r="2.2"/><circle cx="259.4" cy="122.01" r="2.2"/><circle cx="260.17" cy="122.7" r="2.2"/><circle cx="260.93" cy="125.7" r="2.2"/><circle cx="261.69" cy="123.37" r="2.2"/><circle cx="262.46" cy="123.96" r="2.2"/><circle cx="263.22" cy="122.99" r="2.2"/><circle cx="263.98" cy="121.5" r="2.2"/><circle cx="264.75" cy="121.58" r="2.2"/><circle cx="265.51" cy="115.08" r="2.2"/><circle cx="266.28" cy="111.27" r="2.2"/><circle cx="267.04" cy="109.01" r="2.2"/><circle cx="267.8" cy="104.37" r="2.2"/><circle cx="268.57" cy="99.49" r="2.2"/><circle cx="269.33" cy="95.06" r="2.2"/><circle cx="270.09" cy="86.35" r="2.2"/><circle cx="270.86" cy="78.02" r="2.2"/><circle cx="271.62" cy="71.41" r="2.2"/><circle cx="272.38" cy="61.17" r="2.2"/><circle cx="273.15" cy="52.01" r="2.2"/><circle cx="273.91" cy="43.28" r="2.2"/><circle cx="274.67" cy="37.28" r="2.2"/><circle cx="275.44" cy="29.9" r="2.2"/><circle cx="276.2" cy="21.08" r="2.2"/><circle cx="276.96" cy="20.01" r="2.2"/><circle cx="277.73" cy="20.26" r="2.2"/><circle cx="278.49" cy="22.25" r="2.2"/><circle cx="279.25" cy="25.72" r="2.2"/><circle cx="280.02" cy="27.57" r="2.2"/><circle cx="280.78" cy="34.14" r="2.2"/><circle cx="281.55" cy="35.89" r="2.2"/><circle cx="282.31" cy="40.55" r="2.2"/><circle cx="283.07" cy="43.03" r="2.2"/><circle cx="283.84" cy="45.97" r="2.2"/><circle cx="284.6" cy="49.47" r="2.2"/><circle cx="285.36" cy="53.76" r="2.2"/><circle cx="286.13" cy="56.2" r="2.2"/><circle cx="286.89" cy="58.11" r="2.2"/><circle cx="287.65" cy="60.99" r="2.2"/><circle cx="288.42" cy="64.01" r="2.2"/><circle cx="289.18" cy="65.4" r="2.2"/><circle cx="289.94" cy="67.98" r="2.2"/><circle cx="290.71" cy="71.02" r="2.2"/><circle cx="291.47" cy="70.3" r="2.2"/><circle cx="292.23" cy="72.1" r="2.2"/><circle cx="293" cy="75.9" r="2.2"/><circle cx="293.76" cy="77.15" r="2.2"/><circle cx="294.52" cy="79.29" r="2.2"/><circle cx="295.29" cy="78.77" r="2.2"/><circle cx="296.05" cy="82.57" r="2.2"/><circle cx="296.82" cy="81.77" r="2.2"/><circle cx="297.58" cy="82.12" r="2.2"/><circle cx="298.34" cy="83.69" r="2.2"/><circle cx="299.11" cy="84.52" r="2.2"/><circle cx="299.87" cy="83.84" r="2.2"/><circle cx="300.63" cy="84.94" r="2.2"/><circle cx="301.4" cy="85.88" r="2.2"/><circle cx="302.16" cy="86.37" r="2.2"/><circle cx="302.92" cy="85.79" r="2.2"/><circle cx="303.69" cy="86.8" r="2.2"/><circle cx="304.45" cy="85.18" r="2.2"/><circle cx="305.21" cy="87.35" r="2.2"/><circle cx="305.98" cy="89.98" r="2.2"/><circle cx="306.74" cy="88.23" r="2.2"/><circle cx="307.5" cy="89.02" r="2.2"/><circle cx="308.27" cy="88.99" r="2.2"/><circle cx="309.03" cy="87.05" r="2.2"/><circle cx="309.79" cy="89.93" r="2.2"/><circle cx="310.56" cy="86.6" r="2.2"/><circle cx="311.32" cy="87.43" r="2.2"/><circle cx="312.09" cy="90.06" r="2.2"/><circle cx="312.85" cy="90.31" r="2.2"/><circle cx="313.61" cy="90.53" r="2.2"/><circle cx="314.38" cy="91.7" r="2.2"/><circle cx="315.14" cy="93.59" r="2.2"/><circle cx="315.9" cy="92.51" r="2.2"/><circle cx="316.67" cy="90.58" r="2.2"/><circle cx="317.43" cy="92.03" r="2.2"/><circle cx="318.19" cy="91.76" r="2.2"/><circle cx="318.96" cy="93.48" r="2.2"/><circle cx="319.72" cy="91.53" r="2.2"/><circle cx="320.48" cy="90.14" r="2.2"/><circle cx="321.25" cy="95.93" r="2.2"/><circle cx="322.01" cy="94.66" r="2.2"/><circle cx="322.77" cy="92.55" r="2.2"/><circle cx="323.54" cy="93.72" r="2.2"/><circle cx="324.3" cy="94.73" r="2.2"/><circle cx="325.06" cy="94.68" r="2.2"/><circle cx="325.83" cy="97.13" r="2.2"/><circle cx="326.59" cy="95.07" r="2.2"/><circle cx="327.36" cy="93.2" r="2.2"/><circle cx="328.12" cy="97.39" r="2.2"/><circle cx="328.88" cy="94.7" r="2.2"/><circle cx="329.65" cy="94.87" r="2.2"/><circle cx="330.41" cy="95.18" r="2.2"/><circle cx="331.17" cy="97.43" r="2.2"/><circle cx="331.94" cy="97.59" r="2.2"/><circle cx="332.7" cy="93.72" r="2.2"/><circle cx="332.7" cy="94.08" r="2.2"/><circle cx="333.95" cy="99.5" r="2.2"/><circle cx="335.21" cy="98.87" r="2.2"/><circle cx="336.46" cy="96.21" r="2.2"/><circle cx="337.72" cy="92.23" r="2.2"/><circle cx="338.97" cy="92.46" r="2.2"/><circle cx="340.23" cy="102.5" r="2.2"/><circle cx="341.48" cy="101.96" r="2.2"/><circle cx="342.74" cy="101.92" r="2.2"/><circle cx="343.99" cy="95.68" r="2.2"/><circle cx="345.24" cy="107.37" r="2.2"/><circle cx="346.5" cy="105.18" r="2.2"/><circle cx="347.75" cy="105.74" r="2.2"/><circle cx="349.01" cy="108.36" r="2.2"/><circle cx="350.26" cy="109.03" r="2.2"/><circle cx="351.52" cy="106.51" r="2.2"/><circle cx="352.77" cy="114.68" r="2.2"/><circle cx="354.03" cy="118.32" r="2.2"/><circle cx="355.28" cy="110.36" r="2.2"/><circle cx="356.54" cy="114.13" r="2.2"/><circle cx="357.79" cy="110.52" r="2.2"/><circle cx="359.04" cy="113.96" r="2.2"/><circle cx="360.3" cy="119.57" r="2.2"/><circle cx="361.55" cy="108.74" r="2.2"/><circle cx="362.81" cy="117.52" r="2.2"/><circle cx="364.06" cy="115.37" r="2.2"/><circle cx="365.32" cy="121.59" r="2.2"/><circle cx="366.57" cy="120.71" r="2.2"/><circle cx="367.83" cy="116.9" r="2.2"/><circle cx="369.08" cy="126.21" r="2.2"/><circle cx="370.33" cy="116.6" r="2.2"/><circle cx="371.59" cy="120" r="2.2"/><circle cx="372.84" cy="112.41" r="2.2"/><circle cx="374.1" cy="119.91" r="2.2"/><circle cx="375.35" cy="120.49" r="2.2"/><circle cx="376.61" cy="115.29" r="2.2"/><circle cx="377.86" cy="119.19" r="2.2"/><circle cx="379.12" cy="118.32" r="2.2"/><circle cx="380.37" cy="116.22" r="2.2"/><circle cx="381.63" cy="112.33" r="2.2"/><circle cx="382.88" cy="117.29" r="2.2"/><circle cx="384.13" cy="116.29" r="2.2"/><circle cx="385.39" cy="122.7" r="2.2"/><circle cx="386.64" cy="121.14" r="2.2"/><circle cx="387.9" cy="121.71" r="2.2"/><circle cx="389.15" cy="118.41" r="2.2"/><circle cx="390.41" cy="120.28" r="2.2"/><circle cx="391.66" cy="124.94" r="2.2"/><circle cx="392.92" cy="113.25" r="2.2"/><circle cx="394.17" cy="122.42" r="2.2"/><circle cx="395.42" cy="112.28" r="2.2"/><circle cx="396.68" cy="120.64" r="2.2"/><circle cx="397.93" cy="118.26" r="2.2"/><circle cx="399.19" cy="122.13" r="2.2"/><circle cx="400.44" cy="123.04" r="2.2"/><circle cx="401.7" cy="120.67" r="2.2"/><circle cx="402.95" cy="119.1" r="2.2"/><circle cx="404.21" cy="120.64" r="2.2"/><circle cx="405.46" cy="125.37" r="2.2"/><circle cx="406.72" cy="114.16" r="2.2"/></g>
<g fill="none" stroke="#e4604a" stroke-width="0.7" stroke-opacity="0.35" clip-path="url(#cb)"><circle cx="257.11" cy="123.07" r="2.2"/><circle cx="257.88" cy="121.16" r="2.2"/><circle cx="258.64" cy="122.76" r="2.2"/><circle cx="259.4" cy="121.64" r="2.2"/><circle cx="260.17" cy="121.07" r="2.2"/><circle cx="260.93" cy="123.53" r="2.2"/><circle cx="261.69" cy="124.98" r="2.2"/><circle cx="262.46" cy="123.73" r="2.2"/><circle cx="263.22" cy="122.01" r="2.2"/><circle cx="263.98" cy="118.79" r="2.2"/><circle cx="264.75" cy="117.16" r="2.2"/><circle cx="265.51" cy="116.81" r="2.2"/><circle cx="266.28" cy="112.04" r="2.2"/><circle cx="267.04" cy="108.52" r="2.2"/><circle cx="267.8" cy="105.05" r="2.2"/><circle cx="268.57" cy="100.7" r="2.2"/><circle cx="269.33" cy="93.42" r="2.2"/><circle cx="270.09" cy="86.98" r="2.2"/><circle cx="270.86" cy="78.34" r="2.2"/><circle cx="271.62" cy="72.14" r="2.2"/><circle cx="272.38" cy="60.7" r="2.2"/><circle cx="273.15" cy="52.97" r="2.2"/><circle cx="273.91" cy="45.1" r="2.2"/><circle cx="274.67" cy="35.85" r="2.2"/><circle cx="275.44" cy="28.49" r="2.2"/><circle cx="276.2" cy="21.85" r="2.2"/><circle cx="276.96" cy="20.49" r="2.2"/><circle cx="277.73" cy="21.62" r="2.2"/><circle cx="278.49" cy="22.78" r="2.2"/><circle cx="279.25" cy="25.7" r="2.2"/><circle cx="280.02" cy="31.19" r="2.2"/><circle cx="280.78" cy="35.61" r="2.2"/><circle cx="281.55" cy="37.42" r="2.2"/><circle cx="282.31" cy="40.96" r="2.2"/><circle cx="283.07" cy="44.17" r="2.2"/><circle cx="283.84" cy="46.91" r="2.2"/><circle cx="284.6" cy="52.02" r="2.2"/><circle cx="285.36" cy="53.85" r="2.2"/><circle cx="286.13" cy="57.3" r="2.2"/><circle cx="286.89" cy="62.42" r="2.2"/><circle cx="287.65" cy="63.93" r="2.2"/><circle cx="288.42" cy="67.73" r="2.2"/><circle cx="289.18" cy="70.07" r="2.2"/><circle cx="289.94" cy="73.29" r="2.2"/><circle cx="290.71" cy="74.51" r="2.2"/><circle cx="291.47" cy="76.78" r="2.2"/><circle cx="292.23" cy="77.79" r="2.2"/><circle cx="293" cy="81.26" r="2.2"/><circle cx="293.76" cy="82.72" r="2.2"/><circle cx="294.52" cy="84.1" r="2.2"/><circle cx="295.29" cy="85.22" r="2.2"/><circle cx="296.05" cy="86.49" r="2.2"/><circle cx="296.82" cy="88.08" r="2.2"/><circle cx="297.58" cy="88.76" r="2.2"/><circle cx="298.34" cy="89.72" r="2.2"/><circle cx="299.11" cy="89.76" r="2.2"/><circle cx="299.87" cy="92.29" r="2.2"/><circle cx="300.63" cy="90.05" r="2.2"/><circle cx="301.4" cy="92.86" r="2.2"/><circle cx="302.16" cy="90.86" r="2.2"/><circle cx="302.92" cy="90.21" r="2.2"/><circle cx="303.69" cy="90.87" r="2.2"/><circle cx="304.45" cy="92.66" r="2.2"/><circle cx="305.21" cy="94.38" r="2.2"/><circle cx="305.98" cy="94.05" r="2.2"/><circle cx="306.74" cy="94.71" r="2.2"/><circle cx="307.5" cy="95.56" r="2.2"/><circle cx="308.27" cy="93.9" r="2.2"/><circle cx="309.03" cy="93.41" r="2.2"/><circle cx="309.79" cy="95.4" r="2.2"/><circle cx="310.56" cy="97.04" r="2.2"/><circle cx="311.32" cy="96.97" r="2.2"/><circle cx="312.09" cy="94.4" r="2.2"/><circle cx="312.85" cy="94.9" r="2.2"/><circle cx="313.61" cy="98.36" r="2.2"/><circle cx="314.38" cy="98.53" r="2.2"/><circle cx="315.14" cy="95.71" r="2.2"/><circle cx="315.9" cy="96.61" r="2.2"/><circle cx="316.67" cy="96.04" r="2.2"/><circle cx="317.43" cy="94.11" r="2.2"/><circle cx="318.19" cy="95.75" r="2.2"/><circle cx="318.96" cy="97.2" r="2.2"/><circle cx="319.72" cy="93.93" r="2.2"/><circle cx="320.48" cy="97.71" r="2.2"/><circle cx="321.25" cy="95.82" r="2.2"/><circle cx="322.01" cy="99.43" r="2.2"/><circle cx="322.77" cy="97.1" r="2.2"/><circle cx="323.54" cy="98.67" r="2.2"/><circle cx="324.3" cy="97.5" r="2.2"/><circle cx="325.06" cy="96.73" r="2.2"/><circle cx="325.83" cy="97.13" r="2.2"/><circle cx="326.59" cy="98.36" r="2.2"/><circle cx="327.36" cy="98.99" r="2.2"/><circle cx="328.12" cy="99.71" r="2.2"/><circle cx="328.88" cy="100.41" r="2.2"/><circle cx="329.65" cy="100.98" r="2.2"/><circle cx="330.41" cy="102.71" r="2.2"/><circle cx="331.17" cy="103.38" r="2.2"/><circle cx="331.94" cy="98.38" r="2.2"/><circle cx="332.7" cy="100.57" r="2.2"/><circle cx="332.7" cy="105.62" r="2.2"/><circle cx="333.95" cy="99.91" r="2.2"/><circle cx="335.21" cy="101.07" r="2.2"/><circle cx="336.46" cy="105.89" r="2.2"/><circle cx="337.72" cy="101.35" r="2.2"/><circle cx="338.97" cy="104.19" r="2.2"/><circle cx="340.23" cy="108.14" r="2.2"/><circle cx="341.48" cy="108.42" r="2.2"/><circle cx="342.74" cy="115.67" r="2.2"/><circle cx="343.99" cy="105.59" r="2.2"/><circle cx="345.24" cy="105.91" r="2.2"/><circle cx="346.5" cy="108.18" r="2.2"/><circle cx="347.75" cy="108.39" r="2.2"/><circle cx="349.01" cy="115.91" r="2.2"/><circle cx="350.26" cy="110.38" r="2.2"/><circle cx="351.52" cy="111.77" r="2.2"/><circle cx="352.77" cy="115.27" r="2.2"/><circle cx="354.03" cy="115.12" r="2.2"/><circle cx="355.28" cy="112.86" r="2.2"/><circle cx="356.54" cy="113.41" r="2.2"/><circle cx="357.79" cy="117.13" r="2.2"/><circle cx="359.04" cy="121.31" r="2.2"/><circle cx="360.3" cy="115.14" r="2.2"/><circle cx="361.55" cy="115.02" r="2.2"/><circle cx="362.81" cy="124.05" r="2.2"/><circle cx="364.06" cy="114.1" r="2.2"/><circle cx="365.32" cy="127.78" r="2.2"/><circle cx="366.57" cy="120.27" r="2.2"/><circle cx="367.83" cy="117.13" r="2.2"/><circle cx="369.08" cy="116.25" r="2.2"/><circle cx="370.33" cy="114.96" r="2.2"/><circle cx="371.59" cy="119.65" r="2.2"/><circle cx="372.84" cy="122.27" r="2.2"/><circle cx="374.1" cy="123.77" r="2.2"/><circle cx="375.35" cy="125" r="2.2"/><circle cx="376.61" cy="115.8" r="2.2"/><circle cx="377.86" cy="117.83" r="2.2"/><circle cx="379.12" cy="122.07" r="2.2"/><circle cx="380.37" cy="128.83" r="2.2"/><circle cx="381.63" cy="123.01" r="2.2"/><circle cx="382.88" cy="120.84" r="2.2"/><circle cx="384.13" cy="121.02" r="2.2"/><circle cx="385.39" cy="118.92" r="2.2"/><circle cx="386.64" cy="123.68" r="2.2"/><circle cx="387.9" cy="120.71" r="2.2"/><circle cx="389.15" cy="125.4" r="2.2"/><circle cx="390.41" cy="120.11" r="2.2"/><circle cx="391.66" cy="116.74" r="2.2"/><circle cx="392.92" cy="115.54" r="2.2"/><circle cx="394.17" cy="120.55" r="2.2"/><circle cx="395.42" cy="120.34" r="2.2"/><circle cx="396.68" cy="118.07" r="2.2"/><circle cx="397.93" cy="120.81" r="2.2"/><circle cx="399.19" cy="122.75" r="2.2"/><circle cx="400.44" cy="119.11" r="2.2"/><circle cx="401.7" cy="117.68" r="2.2"/><circle cx="402.95" cy="115.83" r="2.2"/><circle cx="404.21" cy="117.29" r="2.2"/><circle cx="405.46" cy="122.7" r="2.2"/><circle cx="406.72" cy="122.04" r="2.2"/></g>
<path d="M256.5 123.3 L256.8 123.3 L257.1 123.3 L257.4 123.29 L257.7 123.29 L258.01 123.28 L258.31 123.27 L258.61 123.26 L258.91 123.25 L259.21 123.24 L259.51 123.22 L259.81 123.21 L260.11 123.19 L260.42 123.17 L260.72 123.12 L261.02 123.07 L261.32 123 L261.62 122.92 L261.92 122.82 L262.22 122.71 L262.52 122.59 L262.82 122.37 L263.13 122.02 L263.43 121.56 L263.73 121.03 L264.03 120.44 L264.33 119.67 L264.63 118.67 L264.93 117.56 L265.23 116.44 L265.54 115.34 L265.84 114.22 L266.14 113.03 L266.44 111.77 L266.74 110.4 L267.04 108.93 L267.34 107.38 L267.64 105.76 L267.95 104.13 L268.25 102.43 L268.55 100.55 L268.85 98.36 L269.15 95.73 L269.45 92.89 L269.75 90.11 L270.05 87.39 L270.35 84.65 L270.66 81.82 L270.96 78.85 L271.26 75.66 L271.56 72.1 L271.86 68.23 L272.16 64.23 L272.46 60.28 L272.76 56.56 L273.07 53.21 L273.37 50.11 L273.67 47.16 L273.97 44.26 L274.27 41.31 L274.57 38.2 L274.87 34.88 L275.17 31.6 L275.47 28.6 L275.78 25.94 L276.08 23.13 L276.38 20.83 L276.68 19.8 L276.98 19.9 L277.28 20.21 L277.58 20.67 L277.88 21.23 L278.19 21.85 L278.49 22.47 L278.79 23.15 L279.09 23.96 L279.39 24.87 L279.69 25.88 L279.99 26.96 L280.29 28.07 L280.59 29.22 L280.9 30.38 L281.2 31.66 L281.5 33.08 L281.8 37.12 L282.1 37.77 L282.4 38.48 L282.7 39.25 L283 40.07 L283.31 40.92 L283.61 41.8 L283.91 42.69 L284.21 43.59 L284.51 44.48 L284.81 45.37 L285.11 46.26 L285.41 47.13 L285.72 48 L286.02 48.87 L286.32 49.74 L286.62 50.6 L286.92 51.44 L287.22 52.27 L287.52 53.08 L287.82 53.86 L288.12 54.61 L288.43 55.32 L288.73 56 L289.03 56.63 L289.33 57.23 L289.63 57.8 L289.93 58.35 L290.23 58.87 L290.53 59.38 L290.84 59.88 L291.14 60.37 L291.44 60.86 L291.74 61.34 L292.04 61.83 L292.34 62.32 L292.64 62.81 L292.94 63.3 L293.24 63.79 L293.55 64.28 L293.85 64.76 L294.15 65.24 L294.45 65.71 L294.75 66.17 L295.05 66.6 L295.35 67.01 L295.65 67.4 L295.96 67.76 L296.26 68.08 L296.56 68.38 L296.86 68.65 L297.16 68.9 L297.46 69.12 L297.76 69.32 L298.06 69.51 L298.36 69.68 L298.67 69.84 L298.97 70 L299.27 70.14 L299.57 70.28 L299.87 70.42 L300.17 70.55 L300.47 70.67 L300.77 70.8 L301.08 70.91 L301.38 71.03 L301.68 71.14 L301.98 71.25 L302.28 71.35 L302.58 71.44 L302.88 71.54 L303.18 71.62 L303.48 71.7 L303.79 71.78 L304.09 71.85 L304.39 71.92 L304.69 71.98 L304.99 72.04 L305.29 72.09 L305.59 72.15 L305.89 72.2 L306.2 72.24 L306.5 72.29 L306.8 72.33 L307.1 72.37 L307.4 72.41 L307.7 72.45 L308 72.49 L308.3 72.53 L308.61 72.56 L308.91 72.6 L309.21 72.64 L309.51 72.67 L309.81 72.71 L310.11 72.75 L310.41 72.78 L310.71 72.82 L311.01 72.86 L311.32 72.9 L311.62 72.94 L311.92 72.98 L312.22 73.03 L312.52 73.07 L312.82 73.11 L313.12 73.16 L313.42 73.21 L313.73 73.25 L314.03 73.3 L314.33 73.35 L314.63 73.39 L314.93 73.44 L315.23 73.49 L315.53 73.54 L315.83 73.59 L316.13 73.63 L316.44 73.68 L316.74 73.73 L317.04 73.78 L317.34 73.83 L317.64 73.88 L317.94 73.93 L318.24 73.98 L318.54 74.03 L318.85 74.08 L319.15 74.13 L319.45 74.18 L319.75 74.23 L320.05 74.28 L320.35 74.32 L320.65 74.37 L320.95 74.42 L321.25 74.47 L321.56 74.52 L321.86 74.57 L322.16 74.62 L322.46 74.67 L322.76 74.72 L323.06 74.77 L323.36 74.82 L323.66 74.87 L323.97 74.91 L324.27 74.96 L324.57 75.01 L324.87 75.06 L325.17 75.11 L325.47 75.16 L325.77 75.21 L326.07 75.26 L326.38 75.31 L326.68 75.36 L326.98 75.41 L327.28 75.46 L327.58 75.51 L327.88 75.56 L328.18 75.61 L328.48 75.66 L328.78 75.71 L329.09 75.76 L329.39 75.81 L329.69 75.85 L329.99 75.9 L330.29 75.95 L330.59 75.99 L330.89 76.03 L331.19 76.07 L331.5 76.1 L331.8 76.21 L332.1 76.26 L332.4 76.31 L332.7 76.36 L333 76.48 L333.3 76.6 L333.6 76.73 L333.9 76.85 L334.2 76.98 L334.5 77.11 L334.81 77.24 L335.11 77.37 L335.41 77.5 L335.71 77.63 L336.01 77.77 L336.31 77.9 L336.61 78.04 L336.91 78.18 L337.21 78.32 L337.51 78.47 L337.81 78.61 L338.11 78.76 L338.42 78.9 L338.72 79.05 L339.02 79.2 L339.32 79.35 L339.62 79.51 L339.92 79.66 L340.22 79.82 L340.52 79.98 L340.82 80.14 L341.12 80.3 L341.42 80.46 L341.72 80.62 L342.02 80.79 L342.33 80.96 L342.63 81.13 L342.93 81.3 L343.23 81.47 L343.53 81.64 L343.83 81.82 L344.13 82 L344.43 82.17 L344.73 82.35 L345.03 82.54 L345.33 82.72 L345.63 82.9 L345.94 83.09 L346.24 83.28 L346.54 83.47 L346.84 83.66 L347.14 83.85 L347.44 84.04 L347.74 84.24 L348.04 84.43 L348.34 84.63 L348.64 84.83 L348.94 85.03 L349.24 85.24 L349.54 85.44 L349.85 85.65 L350.15 85.85 L350.45 86.06 L350.75 86.27 L351.05 86.48 L351.35 86.69 L351.65 86.91 L351.95 87.12 L352.25 87.34 L352.55 87.55 L352.85 87.77 L353.15 87.99 L353.46 88.21 L353.76 88.43 L354.06 88.66 L354.36 88.88 L354.66 89.11 L354.96 89.33 L355.26 89.56 L355.56 89.79 L355.86 90.02 L356.16 90.25 L356.46 90.48 L356.76 90.71 L357.07 90.94 L357.37 91.18 L357.67 91.41 L357.97 91.64 L358.27 91.88 L358.57 92.11 L358.87 92.35 L359.17 92.59 L359.47 92.82 L359.77 93.06 L360.07 93.3 L360.37 93.54 L360.67 93.78 L360.98 94.02 L361.28 94.25 L361.58 94.49 L361.88 94.73 L362.18 94.97 L362.48 95.21 L362.78 95.45 L363.08 95.69 L363.38 95.93 L363.68 96.16 L363.98 96.4 L364.28 96.64 L364.59 96.88 L364.89 97.11 L365.19 97.35 L365.49 97.58 L365.79 97.82 L366.09 98.05 L366.39 98.29 L366.69 98.52 L366.99 98.75 L367.29 98.98 L367.59 99.21 L367.89 99.44 L368.19 99.66 L368.5 99.89 L368.8 100.11 L369.1 100.33 L369.4 100.56 L369.7 100.78 L370 100.99 L370.3 101.21 L370.6 101.43 L370.9 101.64 L371.2 101.85 L371.5 102.06 L371.8 102.27 L372.11 102.47 L372.41 102.68 L372.71 102.88 L373.01 103.08 L373.31 103.27 L373.61 103.47 L373.91 103.66 L374.21 103.85 L374.51 104.04 L374.81 104.22 L375.11 104.41 L375.41 104.59 L375.71 104.76 L376.02 104.94 L376.32 105.11 L376.62 105.28 L376.92 105.45 L377.22 105.61 L377.52 105.77 L377.82 105.93 L378.12 106.09 L378.42 106.24 L378.72 106.39 L379.02 106.54 L379.32 106.68 L379.63 106.82 L379.93 106.96 L380.23 107.1 L380.53 107.23 L380.83 107.36 L381.13 107.48 L381.43 107.61 L381.73 107.73 L382.03 107.84 L382.33 107.96 L382.63 108.07 L382.93 108.17 L383.23 108.28 L383.54 108.38 L383.84 108.48 L384.14 108.58 L384.44 108.67 L384.74 108.76 L385.04 108.85 L385.34 108.93 L385.64 109.02 L385.94 109.09 L386.24 109.17 L386.54 109.25 L386.84 109.32 L387.15 109.39 L387.45 109.45 L387.75 109.52 L388.05 109.58 L388.35 109.63 L388.65 109.69 L388.95 109.75 L389.25 109.8 L389.55 109.85 L389.85 109.89 L390.15 109.94 L390.45 109.98 L390.76 110.02 L391.06 110.06 L391.36 110.1 L391.66 110.14 L391.96 110.17 L392.26 110.2 L392.56 110.23 L392.86 110.26 L393.16 110.29 L393.46 110.31 L393.76 110.34 L394.06 110.36 L394.36 110.38 L394.67 110.4 L394.97 110.42 L395.27 110.44 L395.57 110.46 L395.87 110.47 L396.17 110.49 L396.47 110.5 L396.77 110.51 L397.07 110.53 L397.37 110.54 L397.67 110.55 L397.97 110.56 L398.28 110.57 L398.58 110.58 L398.88 110.58 L399.18 110.59 L399.48 110.6 L399.78 110.6 L400.08 110.61 L400.38 110.61 L400.68 110.62 L400.98 110.62 L401.28 110.63 L401.58 110.63 L401.88 110.63 L402.19 110.64 L402.49 110.64 L402.79 110.64 L403.09 110.64 L403.39 110.64 L403.69 110.65 L403.99 110.65 L404.29 110.65 L404.59 110.65 L404.89 110.65 L405.19 110.65 L405.49 110.65 L405.8 110.65 L406.1 110.66 L406.4 110.66 L406.7 110.66 L407 110.66 L407.3 110.66 L407.6 110.66" fill="none" stroke="#0b1132" stroke-width="2.3" stroke-linejoin="round" clip-path="url(#cb)"/>
<path d="M256.5 123.3 L256.8 123.3 L257.1 123.3 L257.4 123.29 L257.7 123.29 L258.01 123.28 L258.31 123.27 L258.61 123.26 L258.91 123.25 L259.21 123.24 L259.51 123.22 L259.81 123.21 L260.11 123.19 L260.42 123.17 L260.72 123.12 L261.02 123.07 L261.32 123 L261.62 122.92 L261.92 122.82 L262.22 122.71 L262.52 122.59 L262.82 122.37 L263.13 122.02 L263.43 121.56 L263.73 121.03 L264.03 120.44 L264.33 119.67 L264.63 118.67 L264.93 117.56 L265.23 116.44 L265.54 115.34 L265.84 114.22 L266.14 113.03 L266.44 111.77 L266.74 110.4 L267.04 108.93 L267.34 107.38 L267.64 105.76 L267.95 104.13 L268.25 102.43 L268.55 100.55 L268.85 98.36 L269.15 95.73 L269.45 92.89 L269.75 90.11 L270.05 87.39 L270.35 84.65 L270.66 81.82 L270.96 78.85 L271.26 75.66 L271.56 72.1 L271.86 68.23 L272.16 64.23 L272.46 60.28 L272.76 56.56 L273.07 53.21 L273.37 50.11 L273.67 47.16 L273.97 44.26 L274.27 41.31 L274.57 38.2 L274.87 34.88 L275.17 31.6 L275.47 28.6 L275.78 25.94 L276.08 23.13 L276.38 20.83 L276.68 19.8 L276.98 19.9 L277.28 20.21 L277.58 20.67 L277.88 21.23 L278.19 21.85 L278.49 22.47 L278.79 23.15 L279.09 23.96 L279.39 24.87 L279.69 25.88 L279.99 26.96 L280.29 28.07 L280.59 29.22 L280.9 30.38 L281.2 31.66 L281.5 33.08 L281.8 37.12 L282.1 37.77 L282.4 38.48 L282.7 39.25 L283 40.07 L283.31 40.92 L283.61 41.8 L283.91 42.69 L284.21 43.59 L284.51 44.48 L284.81 45.37 L285.11 46.25 L285.41 47.13 L285.72 48 L286.02 48.87 L286.32 49.73 L286.62 50.59 L286.92 51.44 L287.22 52.27 L287.52 53.09 L287.82 53.87 L288.12 54.63 L288.43 55.35 L288.73 56.04 L289.03 56.69 L289.33 57.3 L289.63 57.89 L289.93 58.45 L290.23 59 L290.53 59.52 L290.84 60.04 L291.14 60.54 L291.44 61.05 L291.74 61.55 L292.04 62.05 L292.34 62.55 L292.64 63.06 L292.94 63.56 L293.24 64.06 L293.55 64.57 L293.85 65.06 L294.15 65.56 L294.45 66.04 L294.75 66.5 L295.05 66.95 L295.35 67.37 L295.65 67.77 L295.96 68.13 L296.26 68.47 L296.56 68.77 L296.86 69.05 L297.16 69.3 L297.46 69.52 L297.76 69.72 L298.06 69.91 L298.36 70.08 L298.67 70.25 L298.97 70.4 L299.27 70.54 L299.57 70.68 L299.87 70.82 L300.17 70.95 L300.47 71.07 L300.77 71.19 L301.08 71.31 L301.38 71.42 L301.68 71.53 L301.98 71.64 L302.28 71.74 L302.58 71.84 L302.88 71.93 L303.18 72.02 L303.48 72.1 L303.79 72.18 L304.09 72.26 L304.39 72.33 L304.69 72.4 L304.99 72.46 L305.29 72.52 L305.59 72.58 L305.89 72.64 L306.2 72.69 L306.5 72.75 L306.8 72.8 L307.1 72.85 L307.4 72.89 L307.7 72.94 L308 72.99 L308.3 73.03 L308.61 73.07 L308.91 73.12 L309.21 73.16 L309.51 73.21 L309.81 73.25 L310.11 73.3 L310.41 73.34 L310.71 73.39 L311.01 73.43 L311.32 73.48 L311.62 73.53 L311.92 73.58 L312.22 73.63 L312.52 73.68 L312.82 73.73 L313.12 73.78 L313.42 73.84 L313.73 73.89 L314.03 73.94 L314.33 74 L314.63 74.05 L314.93 74.11 L315.23 74.16 L315.53 74.22 L315.83 74.27 L316.13 74.33 L316.44 74.38 L316.74 74.44 L317.04 74.5 L317.34 74.55 L317.64 74.61 L317.94 74.67 L318.24 74.73 L318.54 74.78 L318.85 74.84 L319.15 74.9 L319.45 74.96 L319.75 75.01 L320.05 75.07 L320.35 75.13 L320.65 75.19 L320.95 75.25 L321.25 75.31 L321.56 75.37 L321.86 75.42 L322.16 75.48 L322.46 75.54 L322.76 75.6 L323.06 75.66 L323.36 75.72 L323.66 75.78 L323.97 75.84 L324.27 75.9 L324.57 75.96 L324.87 76.02 L325.17 76.08 L325.47 76.14 L325.77 76.21 L326.07 76.27 L326.38 76.33 L326.68 76.39 L326.98 76.45 L327.28 76.51 L327.58 76.58 L327.88 76.64 L328.18 76.7 L328.48 76.76 L328.78 76.82 L329.09 76.89 L329.39 76.95 L329.69 77.01 L329.99 77.07 L330.29 77.12 L330.59 77.18 L330.89 77.23 L331.19 77.28 L331.5 77.32 L331.8 77.46 L332.1 77.52 L332.4 77.59 L332.7 77.65 L333 77.8 L333.3 77.95 L333.6 78.09 L333.9 78.24 L334.2 78.4 L334.5 78.55 L334.81 78.71 L335.11 78.86 L335.41 79.02 L335.71 79.18 L336.01 79.34 L336.31 79.51 L336.61 79.67 L336.91 79.84 L337.21 80.01 L337.51 80.18 L337.81 80.35 L338.11 80.52 L338.42 80.7 L338.72 80.88 L339.02 81.06 L339.32 81.24 L339.62 81.42 L339.92 81.6 L340.22 81.79 L340.52 81.98 L340.82 82.17 L341.12 82.36 L341.42 82.55 L341.72 82.74 L342.02 82.94 L342.33 83.14 L342.63 83.34 L342.93 83.54 L343.23 83.74 L343.53 83.95 L343.83 84.15 L344.13 84.36 L344.43 84.57 L344.73 84.78 L345.03 85 L345.33 85.21 L345.63 85.43 L345.94 85.65 L346.24 85.87 L346.54 86.09 L346.84 86.31 L347.14 86.54 L347.44 86.76 L347.74 86.99 L348.04 87.22 L348.34 87.45 L348.64 87.68 L348.94 87.92 L349.24 88.15 L349.54 88.39 L349.85 88.62 L350.15 88.86 L350.45 89.1 L350.75 89.35 L351.05 89.59 L351.35 89.83 L351.65 90.08 L351.95 90.33 L352.25 90.57 L352.55 90.82 L352.85 91.07 L353.15 91.32 L353.46 91.58 L353.76 91.83 L354.06 92.08 L354.36 92.34 L354.66 92.6 L354.96 92.85 L355.26 93.11 L355.56 93.37 L355.86 93.63 L356.16 93.89 L356.46 94.15 L356.76 94.41 L357.07 94.67 L357.37 94.93 L357.67 95.19 L357.97 95.46 L358.27 95.72 L358.57 95.98 L358.87 96.25 L359.17 96.51 L359.47 96.77 L359.77 97.04 L360.07 97.3 L360.37 97.56 L360.67 97.83 L360.98 98.09 L361.28 98.35 L361.58 98.62 L361.88 98.88 L362.18 99.14 L362.48 99.4 L362.78 99.66 L363.08 99.92 L363.38 100.18 L363.68 100.44 L363.98 100.69 L364.28 100.95 L364.59 101.21 L364.89 101.46 L365.19 101.71 L365.49 101.96 L365.79 102.21 L366.09 102.46 L366.39 102.71 L366.69 102.96 L366.99 103.2 L367.29 103.44 L367.59 103.69 L367.89 103.92 L368.19 104.16 L368.5 104.4 L368.8 104.63 L369.1 104.86 L369.4 105.09 L369.7 105.32 L370 105.54 L370.3 105.77 L370.6 105.99 L370.9 106.21 L371.2 106.42 L371.5 106.63 L371.8 106.84 L372.11 107.05 L372.41 107.26 L372.71 107.46 L373.01 107.66 L373.31 107.86 L373.61 108.05 L373.91 108.24 L374.21 108.43 L374.51 108.61 L374.81 108.79 L375.11 108.97 L375.41 109.15 L375.71 109.32 L376.02 109.49 L376.32 109.66 L376.62 109.82 L376.92 109.98 L377.22 110.13 L377.52 110.29 L377.82 110.44 L378.12 110.58 L378.42 110.73 L378.72 110.87 L379.02 111 L379.32 111.14 L379.63 111.27 L379.93 111.39 L380.23 111.52 L380.53 111.64 L380.83 111.75 L381.13 111.87 L381.43 111.98 L381.73 112.08 L382.03 112.19 L382.33 112.29 L382.63 112.39 L382.93 112.48 L383.23 112.57 L383.54 112.66 L383.84 112.74 L384.14 112.83 L384.44 112.91 L384.74 112.98 L385.04 113.06 L385.34 113.13 L385.64 113.19 L385.94 113.26 L386.24 113.32 L386.54 113.38 L386.84 113.44 L387.15 113.5 L387.45 113.55 L387.75 113.6 L388.05 113.65 L388.35 113.69 L388.65 113.74 L388.95 113.78 L389.25 113.82 L389.55 113.86 L389.85 113.89 L390.15 113.93 L390.45 113.96 L390.76 113.99 L391.06 114.02 L391.36 114.05 L391.66 114.07 L391.96 114.1 L392.26 114.12 L392.56 114.14 L392.86 114.16 L393.16 114.18 L393.46 114.2 L393.76 114.21 L394.06 114.23 L394.36 114.24 L394.67 114.26 L394.97 114.27 L395.27 114.28 L395.57 114.29 L395.87 114.3 L396.17 114.31 L396.47 114.32 L396.77 114.33 L397.07 114.34 L397.37 114.34 L397.67 114.35 L397.97 114.35 L398.28 114.36 L398.58 114.36 L398.88 114.37 L399.18 114.37 L399.48 114.38 L399.78 114.38 L400.08 114.38 L400.38 114.38 L400.68 114.39 L400.98 114.39 L401.28 114.39 L401.58 114.39 L401.88 114.39 L402.19 114.4 L402.49 114.4 L402.79 114.4 L403.09 114.4 L403.39 114.4 L403.69 114.4 L403.99 114.4 L404.29 114.4 L404.59 114.4 L404.89 114.4 L405.19 114.4 L405.49 114.4 L405.8 114.41 L406.1 114.41 L406.4 114.41 L406.7 114.41 L407 114.41 L407.3 114.41 L407.6 114.41" fill="none" stroke="#1f2c6e" stroke-width="2.3" stroke-linejoin="round" clip-path="url(#cb)"/>
<path d="M256.5 123.3 L256.8 123.3 L257.1 123.3 L257.4 123.29 L257.7 123.29 L258.01 123.28 L258.31 123.27 L258.61 123.26 L258.91 123.25 L259.21 123.24 L259.51 123.22 L259.81 123.21 L260.11 123.19 L260.42 123.17 L260.72 123.12 L261.02 123.07 L261.32 123 L261.62 122.92 L261.92 122.82 L262.22 122.71 L262.52 122.59 L262.82 122.37 L263.13 122.02 L263.43 121.56 L263.73 121.03 L264.03 120.44 L264.33 119.67 L264.63 118.67 L264.93 117.56 L265.23 116.44 L265.54 115.34 L265.84 114.22 L266.14 113.03 L266.44 111.77 L266.74 110.4 L267.04 108.93 L267.34 107.38 L267.64 105.76 L267.95 104.13 L268.25 102.43 L268.55 100.55 L268.85 98.36 L269.15 95.73 L269.45 92.89 L269.75 90.11 L270.05 87.39 L270.35 84.65 L270.66 81.82 L270.96 78.85 L271.26 75.66 L271.56 72.1 L271.86 68.23 L272.16 64.23 L272.46 60.28 L272.76 56.56 L273.07 53.21 L273.37 50.11 L273.67 47.16 L273.97 44.26 L274.27 41.31 L274.57 38.2 L274.87 34.88 L275.17 31.6 L275.47 28.6 L275.78 25.94 L276.08 23.13 L276.38 20.83 L276.68 19.8 L276.98 19.91 L277.28 20.25 L277.58 20.76 L277.88 21.37 L278.19 22.03 L278.49 22.69 L278.79 23.45 L279.09 24.35 L279.39 25.35 L279.69 26.44 L279.99 27.59 L280.29 28.78 L280.59 29.98 L280.9 31.26 L281.2 32.66 L281.5 34.15 L281.8 38.42 L282.1 39.14 L282.4 39.93 L282.7 40.81 L283 41.74 L283.31 42.74 L283.61 43.77 L283.91 44.84 L284.21 45.91 L284.51 46.98 L284.81 48.04 L285.11 49.08 L285.41 50.1 L285.72 51.09 L286.02 52.06 L286.32 53 L286.62 53.92 L286.92 54.82 L287.22 55.7 L287.52 56.57 L287.82 57.42 L288.12 58.26 L288.43 59.09 L288.73 59.91 L289.03 60.71 L289.33 61.5 L289.63 62.28 L289.93 63.05 L290.23 63.8 L290.53 64.53 L290.84 65.24 L291.14 65.94 L291.44 66.62 L291.74 67.27 L292.04 67.91 L292.34 68.53 L292.64 69.13 L292.94 69.71 L293.24 70.28 L293.55 70.82 L293.85 71.34 L294.15 71.84 L294.45 72.31 L294.75 72.76 L295.05 73.19 L295.35 73.58 L295.65 73.95 L295.96 74.29 L296.26 74.61 L296.56 74.91 L296.86 75.18 L297.16 75.44 L297.46 75.68 L297.76 75.9 L298.06 76.11 L298.36 76.31 L298.67 76.5 L298.97 76.68 L299.27 76.86 L299.57 77.03 L299.87 77.19 L300.17 77.35 L300.47 77.5 L300.77 77.65 L301.08 77.79 L301.38 77.93 L301.68 78.07 L301.98 78.2 L302.28 78.34 L302.58 78.46 L302.88 78.59 L303.18 78.72 L303.48 78.85 L303.79 78.97 L304.09 79.1 L304.39 79.22 L304.69 79.34 L304.99 79.47 L305.29 79.59 L305.59 79.71 L305.89 79.84 L306.2 79.96 L306.5 80.08 L306.8 80.2 L307.1 80.32 L307.4 80.44 L307.7 80.56 L308 80.68 L308.3 80.8 L308.61 80.92 L308.91 81.04 L309.21 81.16 L309.51 81.28 L309.81 81.4 L310.11 81.52 L310.41 81.63 L310.71 81.75 L311.01 81.87 L311.32 81.99 L311.62 82.11 L311.92 82.23 L312.22 82.35 L312.52 82.47 L312.82 82.59 L313.12 82.71 L313.42 82.83 L313.73 82.95 L314.03 83.07 L314.33 83.19 L314.63 83.31 L314.93 83.43 L315.23 83.55 L315.53 83.67 L315.83 83.79 L316.13 83.91 L316.44 84.03 L316.74 84.15 L317.04 84.27 L317.34 84.39 L317.64 84.5 L317.94 84.62 L318.24 84.74 L318.54 84.86 L318.85 84.97 L319.15 85.09 L319.45 85.21 L319.75 85.32 L320.05 85.44 L320.35 85.55 L320.65 85.67 L320.95 85.78 L321.25 85.9 L321.56 86.01 L321.86 86.13 L322.16 86.24 L322.46 86.35 L322.76 86.47 L323.06 86.58 L323.36 86.69 L323.66 86.81 L323.97 86.92 L324.27 87.03 L324.57 87.14 L324.87 87.26 L325.17 87.37 L325.47 87.48 L325.77 87.59 L326.07 87.7 L326.38 87.81 L326.68 87.92 L326.98 88.03 L327.28 88.14 L327.58 88.25 L327.88 88.36 L328.18 88.47 L328.48 88.58 L328.78 88.69 L329.09 88.8 L329.39 88.9 L329.69 89.01 L329.99 89.11 L330.29 89.2 L330.59 89.3 L330.89 89.38 L331.19 89.46 L331.5 89.53 L331.8 89.77 L332.1 89.87 L332.4 89.98 L332.7 90.08 L333 90.26 L333.3 90.44 L333.6 90.63 L333.9 90.81 L334.2 90.99 L334.5 91.18 L334.81 91.37 L335.11 91.56 L335.41 91.75 L335.71 91.94 L336.01 92.14 L336.31 92.33 L336.61 92.53 L336.91 92.73 L337.21 92.93 L337.51 93.13 L337.81 93.33 L338.11 93.54 L338.42 93.74 L338.72 93.95 L339.02 94.16 L339.32 94.37 L339.62 94.58 L339.92 94.79 L340.22 95.01 L340.52 95.22 L340.82 95.44 L341.12 95.66 L341.42 95.88 L341.72 96.1 L342.02 96.32 L342.33 96.54 L342.63 96.77 L342.93 96.99 L343.23 97.22 L343.53 97.44 L343.83 97.67 L344.13 97.9 L344.43 98.13 L344.73 98.36 L345.03 98.59 L345.33 98.82 L345.63 99.06 L345.94 99.29 L346.24 99.53 L346.54 99.76 L346.84 100 L347.14 100.23 L347.44 100.47 L347.74 100.71 L348.04 100.95 L348.34 101.18 L348.64 101.42 L348.94 101.66 L349.24 101.9 L349.54 102.14 L349.85 102.38 L350.15 102.62 L350.45 102.86 L350.75 103.1 L351.05 103.34 L351.35 103.58 L351.65 103.82 L351.95 104.06 L352.25 104.3 L352.55 104.54 L352.85 104.77 L353.15 105.01 L353.46 105.25 L353.76 105.49 L354.06 105.72 L354.36 105.96 L354.66 106.19 L354.96 106.43 L355.26 106.66 L355.56 106.89 L355.86 107.12 L356.16 107.35 L356.46 107.58 L356.76 107.81 L357.07 108.03 L357.37 108.26 L357.67 108.48 L357.97 108.7 L358.27 108.93 L358.57 109.14 L358.87 109.36 L359.17 109.58 L359.47 109.79 L359.77 110 L360.07 110.21 L360.37 110.42 L360.67 110.63 L360.98 110.83 L361.28 111.04 L361.58 111.24 L361.88 111.43 L362.18 111.63 L362.48 111.82 L362.78 112.01 L363.08 112.2 L363.38 112.39 L363.68 112.57 L363.98 112.75 L364.28 112.93 L364.59 113.11 L364.89 113.28 L365.19 113.45 L365.49 113.62 L365.79 113.78 L366.09 113.95 L366.39 114.11 L366.69 114.26 L366.99 114.42 L367.29 114.57 L367.59 114.71 L367.89 114.86 L368.19 115 L368.5 115.14 L368.8 115.28 L369.1 115.41 L369.4 115.54 L369.7 115.66 L370 115.79 L370.3 115.91 L370.6 116.03 L370.9 116.14 L371.2 116.25 L371.5 116.36 L371.8 116.47 L372.11 116.57 L372.41 116.67 L372.71 116.77 L373.01 116.86 L373.31 116.95 L373.61 117.04 L373.91 117.13 L374.21 117.21 L374.51 117.29 L374.81 117.37 L375.11 117.44 L375.41 117.51 L375.71 117.58 L376.02 117.65 L376.32 117.71 L376.62 117.77 L376.92 117.83 L377.22 117.89 L377.52 117.94 L377.82 118 L378.12 118.05 L378.42 118.09 L378.72 118.14 L379.02 118.18 L379.32 118.22 L379.63 118.26 L379.93 118.3 L380.23 118.34 L380.53 118.37 L380.83 118.4 L381.13 118.43 L381.43 118.46 L381.73 118.49 L382.03 118.52 L382.33 118.54 L382.63 118.57 L382.93 118.59 L383.23 118.61 L383.54 118.63 L383.84 118.64 L384.14 118.66 L384.44 118.68 L384.74 118.69 L385.04 118.71 L385.34 118.72 L385.64 118.73 L385.94 118.74 L386.24 118.75 L386.54 118.76 L386.84 118.77 L387.15 118.78 L387.45 118.79 L387.75 118.8 L388.05 118.8 L388.35 118.81 L388.65 118.81 L388.95 118.82 L389.25 118.82 L389.55 118.83 L389.85 118.83 L390.15 118.84 L390.45 118.84 L390.76 118.84 L391.06 118.84 L391.36 118.85 L391.66 118.85 L391.96 118.85 L392.26 118.85 L392.56 118.85 L392.86 118.86 L393.16 118.86 L393.46 118.86 L393.76 118.86 L394.06 118.86 L394.36 118.86 L394.67 118.86 L394.97 118.86 L395.27 118.86 L395.57 118.86 L395.87 118.86 L396.17 118.86 L396.47 118.86 L396.77 118.87 L397.07 118.87 L397.37 118.87 L397.67 118.87 L397.97 118.87 L398.28 118.87 L398.58 118.87 L398.88 118.87 L399.18 118.87 L399.48 118.87 L399.78 118.87 L400.08 118.87 L400.38 118.87 L400.68 118.87 L400.98 118.87 L401.28 118.87 L401.58 118.87 L401.88 118.87 L402.19 118.87 L402.49 118.87 L402.79 118.87 L403.09 118.87 L403.39 118.87 L403.69 118.87 L403.99 118.87 L404.29 118.87 L404.59 118.87 L404.89 118.87 L405.19 118.87 L405.49 118.87 L405.8 118.87 L406.1 118.87 L406.4 118.87 L406.7 118.87 L407 118.87 L407.3 118.87 L407.6 118.87" fill="none" stroke="#5b69a9" stroke-width="2.3" stroke-linejoin="round" clip-path="url(#cb)"/>
<path d="M256.5 123.3 L256.8 123.3 L257.1 123.3 L257.4 123.29 L257.7 123.29 L258.01 123.28 L258.31 123.27 L258.61 123.26 L258.91 123.25 L259.21 123.24 L259.51 123.22 L259.81 123.21 L260.11 123.19 L260.42 123.17 L260.72 123.12 L261.02 123.07 L261.32 123 L261.62 122.92 L261.92 122.82 L262.22 122.71 L262.52 122.59 L262.82 122.37 L263.13 122.02 L263.43 121.56 L263.73 121.03 L264.03 120.44 L264.33 119.67 L264.63 118.67 L264.93 117.56 L265.23 116.44 L265.54 115.34 L265.84 114.22 L266.14 113.03 L266.44 111.77 L266.74 110.4 L267.04 108.93 L267.34 107.38 L267.64 105.76 L267.95 104.13 L268.25 102.43 L268.55 100.55 L268.85 98.36 L269.15 95.73 L269.45 92.89 L269.75 90.11 L270.05 87.39 L270.35 84.65 L270.66 81.82 L270.96 78.85 L271.26 75.66 L271.56 72.1 L271.86 68.23 L272.16 64.23 L272.46 60.28 L272.76 56.56 L273.07 53.21 L273.37 50.11 L273.67 47.16 L273.97 44.26 L274.27 41.31 L274.57 38.2 L274.87 34.88 L275.17 31.6 L275.47 28.6 L275.78 25.94 L276.08 23.13 L276.38 20.83 L276.68 19.8 L276.98 19.93 L277.28 20.3 L277.58 20.86 L277.88 21.52 L278.19 22.23 L278.49 22.97 L278.79 23.88 L279.09 24.94 L279.39 26.11 L279.69 27.37 L279.99 28.67 L280.29 29.97 L280.59 31.34 L280.9 32.82 L281.2 34.38 L281.5 35.96 L281.8 40.29 L282.1 41.03 L282.4 41.84 L282.7 42.74 L283 43.71 L283.31 44.75 L283.61 45.83 L283.91 46.95 L284.21 48.09 L284.51 49.23 L284.81 50.37 L285.11 51.5 L285.41 52.62 L285.72 53.72 L286.02 54.81 L286.32 55.88 L286.62 56.93 L286.92 57.98 L287.22 59.01 L287.52 60.03 L287.82 61.05 L288.12 62.05 L288.43 63.04 L288.73 64.02 L289.03 64.99 L289.33 65.93 L289.63 66.85 L289.93 67.75 L290.23 68.63 L290.53 69.47 L290.84 70.29 L291.14 71.09 L291.44 71.85 L291.74 72.6 L292.04 73.32 L292.34 74.01 L292.64 74.69 L292.94 75.34 L293.24 75.97 L293.55 76.57 L293.85 77.15 L294.15 77.71 L294.45 78.24 L294.75 78.75 L295.05 79.23 L295.35 79.68 L295.65 80.1 L295.96 80.5 L296.26 80.87 L296.56 81.22 L296.86 81.55 L297.16 81.86 L297.46 82.16 L297.76 82.43 L298.06 82.7 L298.36 82.95 L298.67 83.19 L298.97 83.42 L299.27 83.64 L299.57 83.85 L299.87 84.06 L300.17 84.25 L300.47 84.45 L300.77 84.63 L301.08 84.81 L301.38 84.99 L301.68 85.16 L301.98 85.32 L302.28 85.48 L302.58 85.64 L302.88 85.79 L303.18 85.94 L303.48 86.09 L303.79 86.23 L304.09 86.37 L304.39 86.51 L304.69 86.65 L304.99 86.78 L305.29 86.91 L305.59 87.04 L305.89 87.17 L306.2 87.3 L306.5 87.42 L306.8 87.54 L307.1 87.67 L307.4 87.79 L307.7 87.91 L308 88.02 L308.3 88.14 L308.61 88.26 L308.91 88.37 L309.21 88.49 L309.51 88.6 L309.81 88.72 L310.11 88.83 L310.41 88.95 L310.71 89.07 L311.01 89.18 L311.32 89.3 L311.62 89.42 L311.92 89.54 L312.22 89.65 L312.52 89.77 L312.82 89.89 L313.12 90.02 L313.42 90.14 L313.73 90.26 L314.03 90.38 L314.33 90.5 L314.63 90.63 L314.93 90.75 L315.23 90.87 L315.53 90.99 L315.83 91.11 L316.13 91.24 L316.44 91.36 L316.74 91.48 L317.04 91.6 L317.34 91.72 L317.64 91.83 L317.94 91.95 L318.24 92.07 L318.54 92.18 L318.85 92.29 L319.15 92.41 L319.45 92.52 L319.75 92.63 L320.05 92.74 L320.35 92.84 L320.65 92.95 L320.95 93.06 L321.25 93.16 L321.56 93.27 L321.86 93.37 L322.16 93.47 L322.46 93.58 L322.76 93.68 L323.06 93.78 L323.36 93.88 L323.66 93.98 L323.97 94.08 L324.27 94.18 L324.57 94.28 L324.87 94.38 L325.17 94.48 L325.47 94.57 L325.77 94.67 L326.07 94.76 L326.38 94.86 L326.68 94.95 L326.98 95.05 L327.28 95.14 L327.58 95.23 L327.88 95.32 L328.18 95.42 L328.48 95.51 L328.78 95.59 L329.09 95.68 L329.39 95.77 L329.69 95.85 L329.99 95.93 L330.29 96.01 L330.59 96.08 L330.89 96.15 L331.19 96.22 L331.5 96.27 L331.8 96.46 L332.1 96.54 L332.4 96.62 L332.7 96.7 L333 96.86 L333.3 97.02 L333.6 97.18 L333.9 97.34 L334.2 97.51 L334.5 97.68 L334.81 97.85 L335.11 98.01 L335.41 98.18 L335.71 98.36 L336.01 98.53 L336.31 98.7 L336.61 98.88 L336.91 99.06 L337.21 99.23 L337.51 99.41 L337.81 99.59 L338.11 99.78 L338.42 99.96 L338.72 100.14 L339.02 100.33 L339.32 100.51 L339.62 100.7 L339.92 100.89 L340.22 101.08 L340.52 101.27 L340.82 101.46 L341.12 101.65 L341.42 101.84 L341.72 102.04 L342.02 102.23 L342.33 102.43 L342.63 102.62 L342.93 102.82 L343.23 103.02 L343.53 103.22 L343.83 103.41 L344.13 103.61 L344.43 103.82 L344.73 104.02 L345.03 104.22 L345.33 104.42 L345.63 104.62 L345.94 104.83 L346.24 105.03 L346.54 105.23 L346.84 105.44 L347.14 105.64 L347.44 105.85 L347.74 106.05 L348.04 106.26 L348.34 106.46 L348.64 106.67 L348.94 106.87 L349.24 107.08 L349.54 107.29 L349.85 107.49 L350.15 107.7 L350.45 107.9 L350.75 108.11 L351.05 108.31 L351.35 108.52 L351.65 108.72 L351.95 108.92 L352.25 109.13 L352.55 109.33 L352.85 109.53 L353.15 109.73 L353.46 109.93 L353.76 110.13 L354.06 110.33 L354.36 110.53 L354.66 110.72 L354.96 110.92 L355.26 111.11 L355.56 111.31 L355.86 111.5 L356.16 111.69 L356.46 111.88 L356.76 112.07 L357.07 112.26 L357.37 112.45 L357.67 112.63 L357.97 112.81 L358.27 113 L358.57 113.18 L358.87 113.35 L359.17 113.53 L359.47 113.71 L359.77 113.88 L360.07 114.05 L360.37 114.22 L360.67 114.39 L360.98 114.55 L361.28 114.72 L361.58 114.88 L361.88 115.04 L362.18 115.19 L362.48 115.35 L362.78 115.5 L363.08 115.65 L363.38 115.8 L363.68 115.94 L363.98 116.09 L364.28 116.23 L364.59 116.37 L364.89 116.5 L365.19 116.64 L365.49 116.77 L365.79 116.9 L366.09 117.02 L366.39 117.15 L366.69 117.27 L366.99 117.39 L367.29 117.5 L367.59 117.62 L367.89 117.73 L368.19 117.84 L368.5 117.94 L368.8 118.04 L369.1 118.14 L369.4 118.24 L369.7 118.34 L370 118.43 L370.3 118.52 L370.6 118.61 L370.9 118.69 L371.2 118.78 L371.5 118.86 L371.8 118.93 L372.11 119.01 L372.41 119.08 L372.71 119.15 L373.01 119.22 L373.31 119.29 L373.61 119.35 L373.91 119.41 L374.21 119.47 L374.51 119.53 L374.81 119.58 L375.11 119.63 L375.41 119.68 L375.71 119.73 L376.02 119.78 L376.32 119.82 L376.62 119.86 L376.92 119.91 L377.22 119.94 L377.52 119.98 L377.82 120.02 L378.12 120.05 L378.42 120.08 L378.72 120.11 L379.02 120.14 L379.32 120.17 L379.63 120.2 L379.93 120.22 L380.23 120.24 L380.53 120.27 L380.83 120.29 L381.13 120.31 L381.43 120.32 L381.73 120.34 L382.03 120.36 L382.33 120.37 L382.63 120.39 L382.93 120.4 L383.23 120.41 L383.54 120.43 L383.84 120.44 L384.14 120.45 L384.44 120.46 L384.74 120.47 L385.04 120.47 L385.34 120.48 L385.64 120.49 L385.94 120.5 L386.24 120.5 L386.54 120.51 L386.84 120.51 L387.15 120.52 L387.45 120.52 L387.75 120.52 L388.05 120.53 L388.35 120.53 L388.65 120.53 L388.95 120.54 L389.25 120.54 L389.55 120.54 L389.85 120.54 L390.15 120.55 L390.45 120.55 L390.76 120.55 L391.06 120.55 L391.36 120.55 L391.66 120.55 L391.96 120.55 L392.26 120.56 L392.56 120.56 L392.86 120.56 L393.16 120.56 L393.46 120.56 L393.76 120.56 L394.06 120.56 L394.36 120.56 L394.67 120.56 L394.97 120.56 L395.27 120.56 L395.57 120.56 L395.87 120.56 L396.17 120.56 L396.47 120.56 L396.77 120.56 L397.07 120.56 L397.37 120.56 L397.67 120.56 L397.97 120.56 L398.28 120.56 L398.58 120.56 L398.88 120.56 L399.18 120.56 L399.48 120.56 L399.78 120.56 L400.08 120.56 L400.38 120.56 L400.68 120.56 L400.98 120.56 L401.28 120.56 L401.58 120.56 L401.88 120.56 L402.19 120.56 L402.49 120.56 L402.79 120.56 L403.09 120.56 L403.39 120.56 L403.69 120.56 L403.99 120.56 L404.29 120.56 L404.59 120.56 L404.89 120.56 L405.19 120.56 L405.49 120.56 L405.8 120.56 L406.1 120.56 L406.4 120.56 L406.7 120.56 L407 120.56 L407.3 120.56 L407.6 120.56" fill="none" stroke="#d98170" stroke-width="2.3" stroke-linejoin="round" clip-path="url(#cb)"/>
<path d="M256.5 123.3 L256.8 123.3 L257.1 123.3 L257.4 123.29 L257.7 123.29 L258.01 123.28 L258.31 123.27 L258.61 123.26 L258.91 123.25 L259.21 123.24 L259.51 123.22 L259.81 123.21 L260.11 123.19 L260.42 123.17 L260.72 123.12 L261.02 123.07 L261.32 123 L261.62 122.92 L261.92 122.82 L262.22 122.71 L262.52 122.59 L262.82 122.37 L263.13 122.02 L263.43 121.56 L263.73 121.03 L264.03 120.44 L264.33 119.67 L264.63 118.67 L264.93 117.56 L265.23 116.44 L265.54 115.34 L265.84 114.22 L266.14 113.03 L266.44 111.77 L266.74 110.4 L267.04 108.93 L267.34 107.38 L267.64 105.76 L267.95 104.13 L268.25 102.43 L268.55 100.55 L268.85 98.36 L269.15 95.73 L269.45 92.89 L269.75 90.11 L270.05 87.39 L270.35 84.65 L270.66 81.82 L270.96 78.85 L271.26 75.66 L271.56 72.1 L271.86 68.23 L272.16 64.23 L272.46 60.28 L272.76 56.56 L273.07 53.21 L273.37 50.11 L273.67 47.16 L273.97 44.26 L274.27 41.31 L274.57 38.2 L274.87 34.88 L275.17 31.6 L275.47 28.6 L275.78 25.94 L276.08 23.13 L276.38 20.83 L276.68 19.8 L276.98 19.94 L277.28 20.35 L277.58 20.96 L277.88 21.69 L278.19 22.46 L278.49 23.39 L278.79 24.6 L279.09 26.01 L279.39 27.51 L279.69 29.01 L279.99 30.43 L280.29 31.85 L280.59 33.31 L280.9 34.78 L281.2 36.25 L281.5 37.7 L281.8 41.61 L282.1 42.3 L282.4 43.07 L282.7 43.93 L283 44.88 L283.31 45.91 L283.61 47.01 L283.91 48.19 L284.21 49.41 L284.51 50.69 L284.81 52 L285.11 53.34 L285.41 54.69 L285.72 56.06 L286.02 57.43 L286.32 58.8 L286.62 60.15 L286.92 61.48 L287.22 62.78 L287.52 64.05 L287.82 65.28 L288.12 66.47 L288.43 67.61 L288.73 68.71 L289.03 69.77 L289.33 70.79 L289.63 71.76 L289.93 72.7 L290.23 73.61 L290.53 74.48 L290.84 75.33 L291.14 76.15 L291.44 76.94 L291.74 77.71 L292.04 78.46 L292.34 79.19 L292.64 79.89 L292.94 80.58 L293.24 81.24 L293.55 81.88 L293.85 82.5 L294.15 83.1 L294.45 83.67 L294.75 84.22 L295.05 84.75 L295.35 85.25 L295.65 85.73 L295.96 86.19 L296.26 86.62 L296.56 87.02 L296.86 87.41 L297.16 87.77 L297.46 88.12 L297.76 88.45 L298.06 88.76 L298.36 89.06 L298.67 89.35 L298.97 89.62 L299.27 89.87 L299.57 90.12 L299.87 90.35 L300.17 90.58 L300.47 90.79 L300.77 90.99 L301.08 91.19 L301.38 91.38 L301.68 91.55 L301.98 91.73 L302.28 91.89 L302.58 92.05 L302.88 92.2 L303.18 92.35 L303.48 92.49 L303.79 92.62 L304.09 92.75 L304.39 92.87 L304.69 92.99 L304.99 93.11 L305.29 93.22 L305.59 93.32 L305.89 93.43 L306.2 93.53 L306.5 93.63 L306.8 93.72 L307.1 93.82 L307.4 93.91 L307.7 94 L308 94.08 L308.3 94.17 L308.61 94.25 L308.91 94.34 L309.21 94.42 L309.51 94.5 L309.81 94.58 L310.11 94.66 L310.41 94.75 L310.71 94.83 L311.01 94.91 L311.32 94.99 L311.62 95.07 L311.92 95.15 L312.22 95.23 L312.52 95.31 L312.82 95.39 L313.12 95.47 L313.42 95.55 L313.73 95.63 L314.03 95.7 L314.33 95.78 L314.63 95.86 L314.93 95.93 L315.23 96.01 L315.53 96.09 L315.83 96.16 L316.13 96.24 L316.44 96.31 L316.74 96.39 L317.04 96.47 L317.34 96.54 L317.64 96.62 L317.94 96.7 L318.24 96.78 L318.54 96.86 L318.85 96.94 L319.15 97.02 L319.45 97.1 L319.75 97.18 L320.05 97.27 L320.35 97.35 L320.65 97.44 L320.95 97.53 L321.25 97.61 L321.56 97.7 L321.86 97.79 L322.16 97.88 L322.46 97.97 L322.76 98.06 L323.06 98.16 L323.36 98.25 L323.66 98.34 L323.97 98.44 L324.27 98.53 L324.57 98.63 L324.87 98.72 L325.17 98.82 L325.47 98.91 L325.77 99.01 L326.07 99.11 L326.38 99.21 L326.68 99.31 L326.98 99.41 L327.28 99.51 L327.58 99.61 L327.88 99.71 L328.18 99.81 L328.48 99.92 L328.78 100.02 L329.09 100.12 L329.39 100.22 L329.69 100.33 L329.99 100.42 L330.29 100.52 L330.59 100.61 L330.89 100.7 L331.19 100.78 L331.5 100.85 L331.8 101.09 L332.1 101.2 L332.4 101.31 L332.7 101.42 L333 101.58 L333.3 101.75 L333.6 101.91 L333.9 102.08 L334.2 102.25 L334.5 102.42 L334.81 102.59 L335.11 102.76 L335.41 102.93 L335.71 103.11 L336.01 103.28 L336.31 103.46 L336.61 103.63 L336.91 103.81 L337.21 103.99 L337.51 104.17 L337.81 104.35 L338.11 104.53 L338.42 104.71 L338.72 104.89 L339.02 105.07 L339.32 105.26 L339.62 105.44 L339.92 105.63 L340.22 105.81 L340.52 106 L340.82 106.19 L341.12 106.37 L341.42 106.56 L341.72 106.75 L342.02 106.94 L342.33 107.13 L342.63 107.32 L342.93 107.51 L343.23 107.7 L343.53 107.89 L343.83 108.08 L344.13 108.28 L344.43 108.47 L344.73 108.66 L345.03 108.85 L345.33 109.04 L345.63 109.23 L345.94 109.43 L346.24 109.62 L346.54 109.81 L346.84 110 L347.14 110.19 L347.44 110.38 L347.74 110.57 L348.04 110.76 L348.34 110.95 L348.64 111.14 L348.94 111.33 L349.24 111.52 L349.54 111.71 L349.85 111.89 L350.15 112.08 L350.45 112.26 L350.75 112.45 L351.05 112.63 L351.35 112.82 L351.65 113 L351.95 113.18 L352.25 113.36 L352.55 113.54 L352.85 113.71 L353.15 113.89 L353.46 114.07 L353.76 114.24 L354.06 114.41 L354.36 114.58 L354.66 114.75 L354.96 114.92 L355.26 115.09 L355.56 115.25 L355.86 115.42 L356.16 115.58 L356.46 115.74 L356.76 115.89 L357.07 116.05 L357.37 116.21 L357.67 116.36 L357.97 116.51 L358.27 116.66 L358.57 116.8 L358.87 116.95 L359.17 117.09 L359.47 117.23 L359.77 117.37 L360.07 117.5 L360.37 117.64 L360.67 117.77 L360.98 117.9 L361.28 118.03 L361.58 118.15 L361.88 118.27 L362.18 118.39 L362.48 118.51 L362.78 118.63 L363.08 118.74 L363.38 118.85 L363.68 118.96 L363.98 119.06 L364.28 119.17 L364.59 119.27 L364.89 119.37 L365.19 119.46 L365.49 119.56 L365.79 119.65 L366.09 119.74 L366.39 119.82 L366.69 119.91 L366.99 119.99 L367.29 120.07 L367.59 120.15 L367.89 120.22 L368.19 120.29 L368.5 120.36 L368.8 120.43 L369.1 120.5 L369.4 120.56 L369.7 120.62 L370 120.68 L370.3 120.74 L370.6 120.79 L370.9 120.85 L371.2 120.9 L371.5 120.95 L371.8 120.99 L372.11 121.04 L372.41 121.08 L372.71 121.12 L373.01 121.16 L373.31 121.2 L373.61 121.24 L373.91 121.27 L374.21 121.31 L374.51 121.34 L374.81 121.37 L375.11 121.4 L375.41 121.42 L375.71 121.45 L376.02 121.47 L376.32 121.5 L376.62 121.52 L376.92 121.54 L377.22 121.56 L377.52 121.58 L377.82 121.59 L378.12 121.61 L378.42 121.62 L378.72 121.64 L379.02 121.65 L379.32 121.67 L379.63 121.68 L379.93 121.69 L380.23 121.7 L380.53 121.71 L380.83 121.72 L381.13 121.73 L381.43 121.73 L381.73 121.74 L382.03 121.75 L382.33 121.75 L382.63 121.76 L382.93 121.76 L383.23 121.77 L383.54 121.77 L383.84 121.78 L384.14 121.78 L384.44 121.78 L384.74 121.79 L385.04 121.79 L385.34 121.79 L385.64 121.79 L385.94 121.8 L386.24 121.8 L386.54 121.8 L386.84 121.8 L387.15 121.8 L387.45 121.8 L387.75 121.81 L388.05 121.81 L388.35 121.81 L388.65 121.81 L388.95 121.81 L389.25 121.81 L389.55 121.81 L389.85 121.81 L390.15 121.81 L390.45 121.81 L390.76 121.81 L391.06 121.81 L391.36 121.81 L391.66 121.81 L391.96 121.81 L392.26 121.81 L392.56 121.81 L392.86 121.81 L393.16 121.81 L393.46 121.81 L393.76 121.81 L394.06 121.81 L394.36 121.81 L394.67 121.81 L394.97 121.81 L395.27 121.81 L395.57 121.81 L395.87 121.81 L396.17 121.81 L396.47 121.81 L396.77 121.81 L397.07 121.81 L397.37 121.81 L397.67 121.81 L397.97 121.81 L398.28 121.81 L398.58 121.81 L398.88 121.81 L399.18 121.81 L399.48 121.81 L399.78 121.81 L400.08 121.81 L400.38 121.81 L400.68 121.81 L400.98 121.81 L401.28 121.81 L401.58 121.81 L401.88 121.81 L402.19 121.81 L402.49 121.81 L402.79 121.81 L403.09 121.81 L403.39 121.81 L403.69 121.81 L403.99 121.81 L404.29 121.81 L404.59 121.81 L404.89 121.81 L405.19 121.81 L405.49 121.81 L405.8 121.81 L406.1 121.81 L406.4 121.81 L406.7 121.81 L407 121.81 L407.3 121.81 L407.6 121.81" fill="none" stroke="#d8330f" stroke-width="2.3" stroke-linejoin="round" clip-path="url(#cb)"/>
<g fill="none" stroke="#e4604a" stroke-width="0.7" stroke-opacity="0.4" clip-path="url(#cc)"><circle cx="468.1" cy="45.71" r="2.2"/><circle cx="468.93" cy="50.26" r="2.2"/><circle cx="469.77" cy="47.67" r="2.2"/><circle cx="470.6" cy="44.71" r="2.2"/><circle cx="471.43" cy="49.03" r="2.2"/><circle cx="472.27" cy="44.71" r="2.2"/><circle cx="473.1" cy="46.13" r="2.2"/><circle cx="473.93" cy="49.3" r="2.2"/><circle cx="474.77" cy="43.59" r="2.2"/><circle cx="475.6" cy="49.25" r="2.2"/><circle cx="476.44" cy="58" r="2.2"/><circle cx="477.27" cy="50.38" r="2.2"/><circle cx="478.1" cy="54.32" r="2.2"/><circle cx="478.94" cy="52.57" r="2.2"/><circle cx="479.77" cy="58.09" r="2.2"/><circle cx="480.6" cy="63.97" r="2.2"/><circle cx="481.44" cy="68.96" r="2.2"/><circle cx="482.27" cy="73.2" r="2.2"/><circle cx="483.11" cy="83.73" r="2.2"/><circle cx="483.94" cy="94.48" r="2.2"/><circle cx="484.77" cy="102.05" r="2.2"/><circle cx="485.61" cy="105.94" r="2.2"/><circle cx="486.44" cy="114.97" r="2.2"/><circle cx="487.27" cy="122.02" r="2.2"/><circle cx="488.11" cy="125.1" r="2.2"/><circle cx="488.94" cy="128.65" r="2.2"/><circle cx="489.78" cy="128.09" r="2.2"/><circle cx="490.61" cy="124.82" r="2.2"/><circle cx="491.44" cy="118.65" r="2.2"/><circle cx="492.28" cy="114.89" r="2.2"/><circle cx="493.11" cy="107.77" r="2.2"/><circle cx="493.94" cy="103.41" r="2.2"/><circle cx="494.78" cy="107.48" r="2.2"/><circle cx="495.61" cy="100.79" r="2.2"/><circle cx="496.45" cy="95.99" r="2.2"/><circle cx="497.28" cy="93.34" r="2.2"/><circle cx="498.11" cy="88.68" r="2.2"/><circle cx="498.95" cy="87.81" r="2.2"/><circle cx="499.78" cy="81.84" r="2.2"/><circle cx="500.61" cy="83.12" r="2.2"/><circle cx="501.45" cy="81.11" r="2.2"/><circle cx="502.28" cy="76.36" r="2.2"/><circle cx="503.12" cy="74.86" r="2.2"/><circle cx="503.95" cy="74.83" r="2.2"/><circle cx="504.78" cy="71.42" r="2.2"/><circle cx="505.62" cy="69.82" r="2.2"/><circle cx="506.45" cy="68.91" r="2.2"/><circle cx="507.28" cy="65.83" r="2.2"/><circle cx="508.12" cy="63.18" r="2.2"/><circle cx="508.95" cy="63.25" r="2.2"/><circle cx="509.78" cy="58.91" r="2.2"/><circle cx="510.62" cy="50.38" r="2.2"/><circle cx="511.45" cy="58.76" r="2.2"/><circle cx="512.29" cy="56.78" r="2.2"/><circle cx="513.12" cy="59.74" r="2.2"/><circle cx="513.95" cy="54.85" r="2.2"/><circle cx="514.79" cy="52.46" r="2.2"/><circle cx="515.62" cy="59.03" r="2.2"/><circle cx="516.45" cy="53.01" r="2.2"/><circle cx="517.29" cy="48.11" r="2.2"/><circle cx="518.12" cy="51.79" r="2.2"/><circle cx="518.96" cy="50.3" r="2.2"/><circle cx="519.79" cy="51" r="2.2"/><circle cx="520.62" cy="53.43" r="2.2"/><circle cx="521.46" cy="51.41" r="2.2"/><circle cx="522.29" cy="44.12" r="2.2"/><circle cx="523.12" cy="51.78" r="2.2"/><circle cx="523.96" cy="50.62" r="2.2"/><circle cx="524.79" cy="46.38" r="2.2"/><circle cx="525.63" cy="55.9" r="2.2"/><circle cx="526.46" cy="47.28" r="2.2"/><circle cx="527.29" cy="52.85" r="2.2"/><circle cx="528.13" cy="52.76" r="2.2"/><circle cx="528.96" cy="48.88" r="2.2"/><circle cx="529.79" cy="44.66" r="2.2"/><circle cx="530.63" cy="43.67" r="2.2"/><circle cx="531.46" cy="50.39" r="2.2"/><circle cx="532.3" cy="45.47" r="2.2"/><circle cx="533.13" cy="49.68" r="2.2"/><circle cx="533.96" cy="47.18" r="2.2"/><circle cx="534.8" cy="45.14" r="2.2"/><circle cx="535.63" cy="49.4" r="2.2"/><circle cx="536.46" cy="45.39" r="2.2"/><circle cx="537.3" cy="39.61" r="2.2"/><circle cx="538.13" cy="45.05" r="2.2"/><circle cx="538.97" cy="44.54" r="2.2"/><circle cx="539.8" cy="49.37" r="2.2"/><circle cx="540.63" cy="46.35" r="2.2"/><circle cx="541.47" cy="44.78" r="2.2"/><circle cx="542.3" cy="48.39" r="2.2"/><circle cx="542.3" cy="37.8" r="2.2"/><circle cx="543.57" cy="33.5" r="2.2"/><circle cx="544.84" cy="57.08" r="2.2"/><circle cx="546.11" cy="47.37" r="2.2"/><circle cx="547.38" cy="70.09" r="2.2"/><circle cx="548.65" cy="47.02" r="2.2"/><circle cx="549.92" cy="12.19" r="2.2"/><circle cx="551.2" cy="35.99" r="2.2"/><circle cx="552.47" cy="40.71" r="2.2"/><circle cx="553.74" cy="13.24" r="2.2"/><circle cx="555.01" cy="23.66" r="2.2"/><circle cx="556.28" cy="27.54" r="2.2"/><circle cx="557.55" cy="40.86" r="2.2"/><circle cx="558.82" cy="45.71" r="2.2"/><circle cx="560.09" cy="53.8" r="2.2"/><circle cx="561.36" cy="48.32" r="2.2"/><circle cx="562.63" cy="54.6" r="2.2"/><circle cx="563.9" cy="58.02" r="2.2"/><circle cx="565.17" cy="24.35" r="2.2"/><circle cx="566.44" cy="38.43" r="2.2"/><circle cx="567.72" cy="59.56" r="2.2"/><circle cx="568.99" cy="41.83" r="2.2"/><circle cx="570.26" cy="69.96" r="2.2"/><circle cx="571.53" cy="41.08" r="2.2"/><circle cx="572.8" cy="45.36" r="2.2"/><circle cx="574.07" cy="40.83" r="2.2"/><circle cx="575.34" cy="44.1" r="2.2"/><circle cx="576.61" cy="32.12" r="2.2"/><circle cx="577.88" cy="46.35" r="2.2"/><circle cx="579.15" cy="43.48" r="2.2"/><circle cx="580.42" cy="22.3" r="2.2"/><circle cx="581.69" cy="53.32" r="2.2"/><circle cx="582.97" cy="36.72" r="2.2"/><circle cx="584.24" cy="42.98" r="2.2"/><circle cx="585.51" cy="47.16" r="2.2"/><circle cx="586.78" cy="41.74" r="2.2"/><circle cx="588.05" cy="52.92" r="2.2"/><circle cx="589.32" cy="53.67" r="2.2"/><circle cx="590.59" cy="53.06" r="2.2"/><circle cx="591.86" cy="44.35" r="2.2"/><circle cx="593.13" cy="45.56" r="2.2"/><circle cx="594.4" cy="35.48" r="2.2"/><circle cx="595.67" cy="29.74" r="2.2"/><circle cx="596.94" cy="34.96" r="2.2"/><circle cx="598.21" cy="31.34" r="2.2"/><circle cx="599.49" cy="54.7" r="2.2"/><circle cx="600.76" cy="31.29" r="2.2"/><circle cx="602.03" cy="32.82" r="2.2"/><circle cx="603.3" cy="44.73" r="2.2"/><circle cx="604.57" cy="27.78" r="2.2"/><circle cx="605.84" cy="46.71" r="2.2"/><circle cx="607.11" cy="31.39" r="2.2"/><circle cx="608.38" cy="40.65" r="2.2"/><circle cx="609.65" cy="79.13" r="2.2"/><circle cx="610.92" cy="35.17" r="2.2"/><circle cx="612.19" cy="31.01" r="2.2"/><circle cx="613.46" cy="62.17" r="2.2"/><circle cx="614.73" cy="34.13" r="2.2"/><circle cx="616.01" cy="24.57" r="2.2"/><circle cx="617.28" cy="46.04" r="2.2"/></g>
<g fill="none" stroke="#e4a292" stroke-width="0.7" stroke-opacity="0.4" clip-path="url(#cc)"><circle cx="468.1" cy="45.8" r="2.2"/><circle cx="468.93" cy="52.91" r="2.2"/><circle cx="469.77" cy="49.48" r="2.2"/><circle cx="470.6" cy="46.91" r="2.2"/><circle cx="471.43" cy="47.51" r="2.2"/><circle cx="472.27" cy="46.86" r="2.2"/><circle cx="473.1" cy="45.91" r="2.2"/><circle cx="473.93" cy="45.52" r="2.2"/><circle cx="474.77" cy="44.48" r="2.2"/><circle cx="475.6" cy="46.69" r="2.2"/><circle cx="476.44" cy="47.98" r="2.2"/><circle cx="477.27" cy="48.4" r="2.2"/><circle cx="478.1" cy="53.12" r="2.2"/><circle cx="478.94" cy="56.94" r="2.2"/><circle cx="479.77" cy="57.52" r="2.2"/><circle cx="480.6" cy="65.85" r="2.2"/><circle cx="481.44" cy="69.32" r="2.2"/><circle cx="482.27" cy="81.21" r="2.2"/><circle cx="483.11" cy="81.34" r="2.2"/><circle cx="483.94" cy="90.81" r="2.2"/><circle cx="484.77" cy="97.81" r="2.2"/><circle cx="485.61" cy="104.29" r="2.2"/><circle cx="486.44" cy="107.52" r="2.2"/><circle cx="487.27" cy="119.41" r="2.2"/><circle cx="488.11" cy="123.61" r="2.2"/><circle cx="488.94" cy="130.9" r="2.2"/><circle cx="489.78" cy="131.56" r="2.2"/><circle cx="490.61" cy="126.47" r="2.2"/><circle cx="491.44" cy="124.67" r="2.2"/><circle cx="492.28" cy="123.96" r="2.2"/><circle cx="493.11" cy="120.22" r="2.2"/><circle cx="493.94" cy="113.04" r="2.2"/><circle cx="494.78" cy="119.92" r="2.2"/><circle cx="495.61" cy="115.84" r="2.2"/><circle cx="496.45" cy="113.81" r="2.2"/><circle cx="497.28" cy="113.21" r="2.2"/><circle cx="498.11" cy="109.43" r="2.2"/><circle cx="498.95" cy="109.3" r="2.2"/><circle cx="499.78" cy="107.74" r="2.2"/><circle cx="500.61" cy="102.87" r="2.2"/><circle cx="501.45" cy="102.04" r="2.2"/><circle cx="502.28" cy="102.24" r="2.2"/><circle cx="503.12" cy="94.95" r="2.2"/><circle cx="503.95" cy="92.17" r="2.2"/><circle cx="504.78" cy="91.08" r="2.2"/><circle cx="505.62" cy="90.27" r="2.2"/><circle cx="506.45" cy="87.74" r="2.2"/><circle cx="507.28" cy="84.49" r="2.2"/><circle cx="508.12" cy="82.59" r="2.2"/><circle cx="508.95" cy="76.85" r="2.2"/><circle cx="509.78" cy="80.9" r="2.2"/><circle cx="510.62" cy="78.83" r="2.2"/><circle cx="511.45" cy="75.77" r="2.2"/><circle cx="512.29" cy="75.92" r="2.2"/><circle cx="513.12" cy="79.91" r="2.2"/><circle cx="513.95" cy="72.66" r="2.2"/><circle cx="514.79" cy="74.04" r="2.2"/><circle cx="515.62" cy="70.76" r="2.2"/><circle cx="516.45" cy="71.93" r="2.2"/><circle cx="517.29" cy="66.03" r="2.2"/><circle cx="518.12" cy="66.76" r="2.2"/><circle cx="518.96" cy="70.43" r="2.2"/><circle cx="519.79" cy="65.11" r="2.2"/><circle cx="520.62" cy="72.62" r="2.2"/><circle cx="521.46" cy="59.22" r="2.2"/><circle cx="522.29" cy="68.04" r="2.2"/><circle cx="523.12" cy="73.98" r="2.2"/><circle cx="523.96" cy="63.78" r="2.2"/><circle cx="524.79" cy="63.39" r="2.2"/><circle cx="525.63" cy="62.03" r="2.2"/><circle cx="526.46" cy="61.92" r="2.2"/><circle cx="527.29" cy="57.66" r="2.2"/><circle cx="528.13" cy="56.43" r="2.2"/><circle cx="528.96" cy="64.34" r="2.2"/><circle cx="529.79" cy="65.42" r="2.2"/><circle cx="530.63" cy="58.65" r="2.2"/><circle cx="531.46" cy="59.47" r="2.2"/><circle cx="532.3" cy="65.03" r="2.2"/><circle cx="533.13" cy="58.11" r="2.2"/><circle cx="533.96" cy="56.59" r="2.2"/><circle cx="534.8" cy="62.22" r="2.2"/><circle cx="535.63" cy="61.13" r="2.2"/><circle cx="536.46" cy="65.07" r="2.2"/><circle cx="537.3" cy="58.18" r="2.2"/><circle cx="538.13" cy="59.01" r="2.2"/><circle cx="538.97" cy="53.8" r="2.2"/><circle cx="539.8" cy="54.51" r="2.2"/><circle cx="540.63" cy="58.61" r="2.2"/><circle cx="541.47" cy="59.05" r="2.2"/><circle cx="542.3" cy="50.19" r="2.2"/><circle cx="542.3" cy="59.45" r="2.2"/><circle cx="543.57" cy="53.37" r="2.2"/><circle cx="544.84" cy="51.8" r="2.2"/><circle cx="546.11" cy="52.09" r="2.2"/><circle cx="547.38" cy="34.79" r="2.2"/><circle cx="548.65" cy="52.93" r="2.2"/><circle cx="549.92" cy="75.14" r="2.2"/><circle cx="551.2" cy="60.44" r="2.2"/><circle cx="552.47" cy="49.53" r="2.2"/><circle cx="553.74" cy="43.12" r="2.2"/><circle cx="555.01" cy="54.15" r="2.2"/><circle cx="556.28" cy="57.09" r="2.2"/><circle cx="557.55" cy="40.06" r="2.2"/><circle cx="558.82" cy="50.6" r="2.2"/><circle cx="560.09" cy="43.28" r="2.2"/><circle cx="561.36" cy="38.97" r="2.2"/><circle cx="562.63" cy="50.12" r="2.2"/><circle cx="563.9" cy="30.19" r="2.2"/><circle cx="565.17" cy="57.43" r="2.2"/><circle cx="566.44" cy="39.99" r="2.2"/><circle cx="567.72" cy="32.04" r="2.2"/><circle cx="568.99" cy="48.35" r="2.2"/><circle cx="570.26" cy="42.49" r="2.2"/><circle cx="571.53" cy="51.34" r="2.2"/><circle cx="572.8" cy="61.19" r="2.2"/><circle cx="574.07" cy="36.62" r="2.2"/><circle cx="575.34" cy="42.85" r="2.2"/><circle cx="576.61" cy="56.19" r="2.2"/><circle cx="577.88" cy="41.44" r="2.2"/><circle cx="579.15" cy="38.5" r="2.2"/><circle cx="580.42" cy="40.57" r="2.2"/><circle cx="581.69" cy="57.06" r="2.2"/><circle cx="582.97" cy="35.85" r="2.2"/><circle cx="584.24" cy="39.44" r="2.2"/><circle cx="585.51" cy="49.9" r="2.2"/><circle cx="586.78" cy="38.52" r="2.2"/><circle cx="588.05" cy="55.09" r="2.2"/><circle cx="589.32" cy="50.87" r="2.2"/><circle cx="590.59" cy="47.58" r="2.2"/><circle cx="591.86" cy="40.24" r="2.2"/><circle cx="593.13" cy="54.13" r="2.2"/><circle cx="594.4" cy="46.14" r="2.2"/><circle cx="595.67" cy="35.55" r="2.2"/><circle cx="596.94" cy="34.51" r="2.2"/><circle cx="598.21" cy="31.7" r="2.2"/><circle cx="599.49" cy="23.02" r="2.2"/><circle cx="600.76" cy="46.8" r="2.2"/><circle cx="602.03" cy="48.34" r="2.2"/><circle cx="603.3" cy="38.97" r="2.2"/><circle cx="604.57" cy="50.98" r="2.2"/><circle cx="605.84" cy="52.17" r="2.2"/><circle cx="607.11" cy="39.93" r="2.2"/><circle cx="608.38" cy="48.57" r="2.2"/><circle cx="609.65" cy="46.64" r="2.2"/><circle cx="610.92" cy="45.6" r="2.2"/><circle cx="612.19" cy="50.63" r="2.2"/><circle cx="613.46" cy="52.06" r="2.2"/><circle cx="614.73" cy="52.29" r="2.2"/><circle cx="616.01" cy="54.44" r="2.2"/><circle cx="617.28" cy="49.88" r="2.2"/></g>
<g fill="none" stroke="#7d89c0" stroke-width="0.7" stroke-opacity="0.4" clip-path="url(#cc)"><circle cx="468.1" cy="47.33" r="2.2"/><circle cx="468.93" cy="47.93" r="2.2"/><circle cx="469.77" cy="45.97" r="2.2"/><circle cx="470.6" cy="52.96" r="2.2"/><circle cx="471.43" cy="47.56" r="2.2"/><circle cx="472.27" cy="43.95" r="2.2"/><circle cx="473.1" cy="43.94" r="2.2"/><circle cx="473.93" cy="51" r="2.2"/><circle cx="474.77" cy="49.68" r="2.2"/><circle cx="475.6" cy="49.84" r="2.2"/><circle cx="476.44" cy="50.84" r="2.2"/><circle cx="477.27" cy="52.63" r="2.2"/><circle cx="478.1" cy="52.85" r="2.2"/><circle cx="478.94" cy="56.51" r="2.2"/><circle cx="479.77" cy="58.96" r="2.2"/><circle cx="480.6" cy="64.46" r="2.2"/><circle cx="481.44" cy="72.02" r="2.2"/><circle cx="482.27" cy="80.29" r="2.2"/><circle cx="483.11" cy="83.19" r="2.2"/><circle cx="483.94" cy="90.18" r="2.2"/><circle cx="484.77" cy="99.82" r="2.2"/><circle cx="485.61" cy="106.04" r="2.2"/><circle cx="486.44" cy="110.72" r="2.2"/><circle cx="487.27" cy="120.15" r="2.2"/><circle cx="488.11" cy="126.88" r="2.2"/><circle cx="488.94" cy="130.12" r="2.2"/><circle cx="489.78" cy="129.12" r="2.2"/><circle cx="490.61" cy="127.64" r="2.2"/><circle cx="491.44" cy="124.32" r="2.2"/><circle cx="492.28" cy="129.77" r="2.2"/><circle cx="493.11" cy="124.94" r="2.2"/><circle cx="493.94" cy="126.94" r="2.2"/><circle cx="494.78" cy="125.28" r="2.2"/><circle cx="495.61" cy="124.32" r="2.2"/><circle cx="496.45" cy="121.6" r="2.2"/><circle cx="497.28" cy="122.92" r="2.2"/><circle cx="498.11" cy="122" r="2.2"/><circle cx="498.95" cy="115" r="2.2"/><circle cx="499.78" cy="117.34" r="2.2"/><circle cx="500.61" cy="116.08" r="2.2"/><circle cx="501.45" cy="115.56" r="2.2"/><circle cx="502.28" cy="115.05" r="2.2"/><circle cx="503.12" cy="115.92" r="2.2"/><circle cx="503.95" cy="113.51" r="2.2"/><circle cx="504.78" cy="109.92" r="2.2"/><circle cx="505.62" cy="116.29" r="2.2"/><circle cx="506.45" cy="111.09" r="2.2"/><circle cx="507.28" cy="108.72" r="2.2"/><circle cx="508.12" cy="104.42" r="2.2"/><circle cx="508.95" cy="106.31" r="2.2"/><circle cx="509.78" cy="102.28" r="2.2"/><circle cx="510.62" cy="102.59" r="2.2"/><circle cx="511.45" cy="98.62" r="2.2"/><circle cx="512.29" cy="100.89" r="2.2"/><circle cx="513.12" cy="99.21" r="2.2"/><circle cx="513.95" cy="97.58" r="2.2"/><circle cx="514.79" cy="96.26" r="2.2"/><circle cx="515.62" cy="95.28" r="2.2"/><circle cx="516.45" cy="93.88" r="2.2"/><circle cx="517.29" cy="90.27" r="2.2"/><circle cx="518.12" cy="91.52" r="2.2"/><circle cx="518.96" cy="90.36" r="2.2"/><circle cx="519.79" cy="92.95" r="2.2"/><circle cx="520.62" cy="88.22" r="2.2"/><circle cx="521.46" cy="88.68" r="2.2"/><circle cx="522.29" cy="88.08" r="2.2"/><circle cx="523.12" cy="82" r="2.2"/><circle cx="523.96" cy="91.17" r="2.2"/><circle cx="524.79" cy="84.35" r="2.2"/><circle cx="525.63" cy="86.2" r="2.2"/><circle cx="526.46" cy="78.9" r="2.2"/><circle cx="527.29" cy="79.77" r="2.2"/><circle cx="528.13" cy="84.8" r="2.2"/><circle cx="528.96" cy="82.82" r="2.2"/><circle cx="529.79" cy="75.5" r="2.2"/><circle cx="530.63" cy="79.74" r="2.2"/><circle cx="531.46" cy="78.78" r="2.2"/><circle cx="532.3" cy="73.95" r="2.2"/><circle cx="533.13" cy="74.3" r="2.2"/><circle cx="533.96" cy="81.04" r="2.2"/><circle cx="534.8" cy="72.78" r="2.2"/><circle cx="535.63" cy="75.41" r="2.2"/><circle cx="536.46" cy="75.72" r="2.2"/><circle cx="537.3" cy="70.04" r="2.2"/><circle cx="538.13" cy="71.65" r="2.2"/><circle cx="538.97" cy="69.21" r="2.2"/><circle cx="539.8" cy="72.79" r="2.2"/><circle cx="540.63" cy="77.76" r="2.2"/><circle cx="541.47" cy="72.88" r="2.2"/><circle cx="542.3" cy="70.89" r="2.2"/><circle cx="542.3" cy="74.05" r="2.2"/><circle cx="543.57" cy="64.57" r="2.2"/><circle cx="544.84" cy="66.84" r="2.2"/><circle cx="546.11" cy="60.84" r="2.2"/><circle cx="547.38" cy="64.54" r="2.2"/><circle cx="548.65" cy="58.2" r="2.2"/><circle cx="549.92" cy="60.42" r="2.2"/><circle cx="551.2" cy="60.38" r="2.2"/><circle cx="552.47" cy="63.04" r="2.2"/><circle cx="553.74" cy="49.54" r="2.2"/><circle cx="555.01" cy="55.54" r="2.2"/><circle cx="556.28" cy="46.7" r="2.2"/><circle cx="557.55" cy="48.03" r="2.2"/><circle cx="558.82" cy="46.2" r="2.2"/><circle cx="560.09" cy="44.2" r="2.2"/><circle cx="561.36" cy="52.54" r="2.2"/><circle cx="562.63" cy="42.89" r="2.2"/><circle cx="563.9" cy="48.91" r="2.2"/><circle cx="565.17" cy="53.4" r="2.2"/><circle cx="566.44" cy="51.91" r="2.2"/><circle cx="567.72" cy="46.78" r="2.2"/><circle cx="568.99" cy="46.49" r="2.2"/><circle cx="570.26" cy="43.85" r="2.2"/><circle cx="571.53" cy="32.46" r="2.2"/><circle cx="572.8" cy="50.96" r="2.2"/><circle cx="574.07" cy="46.62" r="2.2"/><circle cx="575.34" cy="51.66" r="2.2"/><circle cx="576.61" cy="51.16" r="2.2"/><circle cx="577.88" cy="42.73" r="2.2"/><circle cx="579.15" cy="44.52" r="2.2"/><circle cx="580.42" cy="52.23" r="2.2"/><circle cx="581.69" cy="51.01" r="2.2"/><circle cx="582.97" cy="49.61" r="2.2"/><circle cx="584.24" cy="41.49" r="2.2"/><circle cx="585.51" cy="50.79" r="2.2"/><circle cx="586.78" cy="35.25" r="2.2"/><circle cx="588.05" cy="45.4" r="2.2"/><circle cx="589.32" cy="47.11" r="2.2"/><circle cx="590.59" cy="53.04" r="2.2"/><circle cx="591.86" cy="45.64" r="2.2"/><circle cx="593.13" cy="47.46" r="2.2"/><circle cx="594.4" cy="47.56" r="2.2"/><circle cx="595.67" cy="39.92" r="2.2"/><circle cx="596.94" cy="47.07" r="2.2"/><circle cx="598.21" cy="41.6" r="2.2"/><circle cx="599.49" cy="28.04" r="2.2"/><circle cx="600.76" cy="46.99" r="2.2"/><circle cx="602.03" cy="47.13" r="2.2"/><circle cx="603.3" cy="42.16" r="2.2"/><circle cx="604.57" cy="53.4" r="2.2"/><circle cx="605.84" cy="43.12" r="2.2"/><circle cx="607.11" cy="43.41" r="2.2"/><circle cx="608.38" cy="50.01" r="2.2"/><circle cx="609.65" cy="44.87" r="2.2"/><circle cx="610.92" cy="45.59" r="2.2"/><circle cx="612.19" cy="43.85" r="2.2"/><circle cx="613.46" cy="48.53" r="2.2"/><circle cx="614.73" cy="46.2" r="2.2"/><circle cx="616.01" cy="55.95" r="2.2"/><circle cx="617.28" cy="37.49" r="2.2"/></g>
<g fill="none" stroke="#46519a" stroke-width="0.7" stroke-opacity="0.4" clip-path="url(#cc)"><circle cx="468.1" cy="48.83" r="2.2"/><circle cx="468.93" cy="46.85" r="2.2"/><circle cx="469.77" cy="46.18" r="2.2"/><circle cx="470.6" cy="47.76" r="2.2"/><circle cx="471.43" cy="47.33" r="2.2"/><circle cx="472.27" cy="47.9" r="2.2"/><circle cx="473.1" cy="47.38" r="2.2"/><circle cx="473.93" cy="47.68" r="2.2"/><circle cx="474.77" cy="48.5" r="2.2"/><circle cx="475.6" cy="48.31" r="2.2"/><circle cx="476.44" cy="49.21" r="2.2"/><circle cx="477.27" cy="48.59" r="2.2"/><circle cx="478.1" cy="52.27" r="2.2"/><circle cx="478.94" cy="52.61" r="2.2"/><circle cx="479.77" cy="57.24" r="2.2"/><circle cx="480.6" cy="64.81" r="2.2"/><circle cx="481.44" cy="70.16" r="2.2"/><circle cx="482.27" cy="77.34" r="2.2"/><circle cx="483.11" cy="85.64" r="2.2"/><circle cx="483.94" cy="90.84" r="2.2"/><circle cx="484.77" cy="98.59" r="2.2"/><circle cx="485.61" cy="104.49" r="2.2"/><circle cx="486.44" cy="108.02" r="2.2"/><circle cx="487.27" cy="120.64" r="2.2"/><circle cx="488.11" cy="124.38" r="2.2"/><circle cx="488.94" cy="130.39" r="2.2"/><circle cx="489.78" cy="127.87" r="2.2"/><circle cx="490.61" cy="129.43" r="2.2"/><circle cx="491.44" cy="126.04" r="2.2"/><circle cx="492.28" cy="128.6" r="2.2"/><circle cx="493.11" cy="128.86" r="2.2"/><circle cx="493.94" cy="127.96" r="2.2"/><circle cx="494.78" cy="127.17" r="2.2"/><circle cx="495.61" cy="128.22" r="2.2"/><circle cx="496.45" cy="124.39" r="2.2"/><circle cx="497.28" cy="126.11" r="2.2"/><circle cx="498.11" cy="126.55" r="2.2"/><circle cx="498.95" cy="124.35" r="2.2"/><circle cx="499.78" cy="125.32" r="2.2"/><circle cx="500.61" cy="125.95" r="2.2"/><circle cx="501.45" cy="119.09" r="2.2"/><circle cx="502.28" cy="123.95" r="2.2"/><circle cx="503.12" cy="120.63" r="2.2"/><circle cx="503.95" cy="120.76" r="2.2"/><circle cx="504.78" cy="119.09" r="2.2"/><circle cx="505.62" cy="120.72" r="2.2"/><circle cx="506.45" cy="120.27" r="2.2"/><circle cx="507.28" cy="118.27" r="2.2"/><circle cx="508.12" cy="119.45" r="2.2"/><circle cx="508.95" cy="120.68" r="2.2"/><circle cx="509.78" cy="114.18" r="2.2"/><circle cx="510.62" cy="114.77" r="2.2"/><circle cx="511.45" cy="114.54" r="2.2"/><circle cx="512.29" cy="115.22" r="2.2"/><circle cx="513.12" cy="114.34" r="2.2"/><circle cx="513.95" cy="118.36" r="2.2"/><circle cx="514.79" cy="114.37" r="2.2"/><circle cx="515.62" cy="110.52" r="2.2"/><circle cx="516.45" cy="112.82" r="2.2"/><circle cx="517.29" cy="110.92" r="2.2"/><circle cx="518.12" cy="112.58" r="2.2"/><circle cx="518.96" cy="109.33" r="2.2"/><circle cx="519.79" cy="108.15" r="2.2"/><circle cx="520.62" cy="107.87" r="2.2"/><circle cx="521.46" cy="110.54" r="2.2"/><circle cx="522.29" cy="106.5" r="2.2"/><circle cx="523.12" cy="109.16" r="2.2"/><circle cx="523.96" cy="108.42" r="2.2"/><circle cx="524.79" cy="102.25" r="2.2"/><circle cx="525.63" cy="105.74" r="2.2"/><circle cx="526.46" cy="106.36" r="2.2"/><circle cx="527.29" cy="108.8" r="2.2"/><circle cx="528.13" cy="103.29" r="2.2"/><circle cx="528.96" cy="101.98" r="2.2"/><circle cx="529.79" cy="101.28" r="2.2"/><circle cx="530.63" cy="108.71" r="2.2"/><circle cx="531.46" cy="103.52" r="2.2"/><circle cx="532.3" cy="101.21" r="2.2"/><circle cx="533.13" cy="102.84" r="2.2"/><circle cx="533.96" cy="101.14" r="2.2"/><circle cx="534.8" cy="103.12" r="2.2"/><circle cx="535.63" cy="105.07" r="2.2"/><circle cx="536.46" cy="104.24" r="2.2"/><circle cx="537.3" cy="106.17" r="2.2"/><circle cx="538.13" cy="94.12" r="2.2"/><circle cx="538.97" cy="100.08" r="2.2"/><circle cx="539.8" cy="101.78" r="2.2"/><circle cx="540.63" cy="97.64" r="2.2"/><circle cx="541.47" cy="102.54" r="2.2"/><circle cx="542.3" cy="103.29" r="2.2"/><circle cx="542.3" cy="104.35" r="2.2"/><circle cx="543.57" cy="98.74" r="2.2"/><circle cx="544.84" cy="93.17" r="2.2"/><circle cx="546.11" cy="93.94" r="2.2"/><circle cx="547.38" cy="79.41" r="2.2"/><circle cx="548.65" cy="89.28" r="2.2"/><circle cx="549.92" cy="90.59" r="2.2"/><circle cx="551.2" cy="93.28" r="2.2"/><circle cx="552.47" cy="83.09" r="2.2"/><circle cx="553.74" cy="85.53" r="2.2"/><circle cx="555.01" cy="83.26" r="2.2"/><circle cx="556.28" cy="76.34" r="2.2"/><circle cx="557.55" cy="77.92" r="2.2"/><circle cx="558.82" cy="77.67" r="2.2"/><circle cx="560.09" cy="73.39" r="2.2"/><circle cx="561.36" cy="77.22" r="2.2"/><circle cx="562.63" cy="74.59" r="2.2"/><circle cx="563.9" cy="71.24" r="2.2"/><circle cx="565.17" cy="66.66" r="2.2"/><circle cx="566.44" cy="60.73" r="2.2"/><circle cx="567.72" cy="66.03" r="2.2"/><circle cx="568.99" cy="68.59" r="2.2"/><circle cx="570.26" cy="66.22" r="2.2"/><circle cx="571.53" cy="60.8" r="2.2"/><circle cx="572.8" cy="67.15" r="2.2"/><circle cx="574.07" cy="56.99" r="2.2"/><circle cx="575.34" cy="48.72" r="2.2"/><circle cx="576.61" cy="54.73" r="2.2"/><circle cx="577.88" cy="56.64" r="2.2"/><circle cx="579.15" cy="56.43" r="2.2"/><circle cx="580.42" cy="57.48" r="2.2"/><circle cx="581.69" cy="52.74" r="2.2"/><circle cx="582.97" cy="46.62" r="2.2"/><circle cx="584.24" cy="52.13" r="2.2"/><circle cx="585.51" cy="43.46" r="2.2"/><circle cx="586.78" cy="53.52" r="2.2"/><circle cx="588.05" cy="51.96" r="2.2"/><circle cx="589.32" cy="51.61" r="2.2"/><circle cx="590.59" cy="43.6" r="2.2"/><circle cx="591.86" cy="49.41" r="2.2"/><circle cx="593.13" cy="54.47" r="2.2"/><circle cx="594.4" cy="50.26" r="2.2"/><circle cx="595.67" cy="49.86" r="2.2"/><circle cx="596.94" cy="47.32" r="2.2"/><circle cx="598.21" cy="52.62" r="2.2"/><circle cx="599.49" cy="37.45" r="2.2"/><circle cx="600.76" cy="52.18" r="2.2"/><circle cx="602.03" cy="52.63" r="2.2"/><circle cx="603.3" cy="48.55" r="2.2"/><circle cx="604.57" cy="36.88" r="2.2"/><circle cx="605.84" cy="49.66" r="2.2"/><circle cx="607.11" cy="51.49" r="2.2"/><circle cx="608.38" cy="54.7" r="2.2"/><circle cx="609.65" cy="50.64" r="2.2"/><circle cx="610.92" cy="51" r="2.2"/><circle cx="612.19" cy="48.3" r="2.2"/><circle cx="613.46" cy="59.11" r="2.2"/><circle cx="614.73" cy="48.41" r="2.2"/><circle cx="616.01" cy="52.36" r="2.2"/><circle cx="617.28" cy="55.99" r="2.2"/></g>
<g fill="none" stroke="#30385a" stroke-width="0.7" stroke-opacity="0.4" clip-path="url(#cc)"><circle cx="468.1" cy="47.97" r="2.2"/><circle cx="468.93" cy="48.49" r="2.2"/><circle cx="469.77" cy="47.09" r="2.2"/><circle cx="470.6" cy="52.85" r="2.2"/><circle cx="471.43" cy="46.26" r="2.2"/><circle cx="472.27" cy="49.72" r="2.2"/><circle cx="473.1" cy="49.13" r="2.2"/><circle cx="473.93" cy="46.13" r="2.2"/><circle cx="474.77" cy="46.69" r="2.2"/><circle cx="475.6" cy="48.79" r="2.2"/><circle cx="476.44" cy="49.96" r="2.2"/><circle cx="477.27" cy="47.54" r="2.2"/><circle cx="478.1" cy="52.94" r="2.2"/><circle cx="478.94" cy="53.63" r="2.2"/><circle cx="479.77" cy="57.43" r="2.2"/><circle cx="480.6" cy="64.24" r="2.2"/><circle cx="481.44" cy="72.32" r="2.2"/><circle cx="482.27" cy="75.84" r="2.2"/><circle cx="483.11" cy="85.46" r="2.2"/><circle cx="483.94" cy="90.44" r="2.2"/><circle cx="484.77" cy="96.87" r="2.2"/><circle cx="485.61" cy="104.85" r="2.2"/><circle cx="486.44" cy="110.84" r="2.2"/><circle cx="487.27" cy="120.13" r="2.2"/><circle cx="488.11" cy="125.03" r="2.2"/><circle cx="488.94" cy="128.44" r="2.2"/><circle cx="489.78" cy="129.28" r="2.2"/><circle cx="490.61" cy="126.28" r="2.2"/><circle cx="491.44" cy="129.92" r="2.2"/><circle cx="492.28" cy="127.95" r="2.2"/><circle cx="493.11" cy="127.64" r="2.2"/><circle cx="493.94" cy="128.8" r="2.2"/><circle cx="494.78" cy="129.05" r="2.2"/><circle cx="495.61" cy="130.81" r="2.2"/><circle cx="496.45" cy="129.23" r="2.2"/><circle cx="497.28" cy="128.98" r="2.2"/><circle cx="498.11" cy="129.61" r="2.2"/><circle cx="498.95" cy="129.38" r="2.2"/><circle cx="499.78" cy="127.25" r="2.2"/><circle cx="500.61" cy="129.85" r="2.2"/><circle cx="501.45" cy="127.3" r="2.2"/><circle cx="502.28" cy="126.14" r="2.2"/><circle cx="503.12" cy="126.86" r="2.2"/><circle cx="503.95" cy="126.66" r="2.2"/><circle cx="504.78" cy="126.12" r="2.2"/><circle cx="505.62" cy="122.27" r="2.2"/><circle cx="506.45" cy="125.24" r="2.2"/><circle cx="507.28" cy="124.28" r="2.2"/><circle cx="508.12" cy="124.5" r="2.2"/><circle cx="508.95" cy="124.77" r="2.2"/><circle cx="509.78" cy="123.6" r="2.2"/><circle cx="510.62" cy="121.94" r="2.2"/><circle cx="511.45" cy="123.77" r="2.2"/><circle cx="512.29" cy="122.7" r="2.2"/><circle cx="513.12" cy="122.76" r="2.2"/><circle cx="513.95" cy="121.26" r="2.2"/><circle cx="514.79" cy="123.55" r="2.2"/><circle cx="515.62" cy="116.63" r="2.2"/><circle cx="516.45" cy="120.94" r="2.2"/><circle cx="517.29" cy="121.73" r="2.2"/><circle cx="518.12" cy="119" r="2.2"/><circle cx="518.96" cy="117.56" r="2.2"/><circle cx="519.79" cy="118.03" r="2.2"/><circle cx="520.62" cy="117.48" r="2.2"/><circle cx="521.46" cy="118.95" r="2.2"/><circle cx="522.29" cy="116.15" r="2.2"/><circle cx="523.12" cy="112.88" r="2.2"/><circle cx="523.96" cy="116.49" r="2.2"/><circle cx="524.79" cy="117.21" r="2.2"/><circle cx="525.63" cy="115.18" r="2.2"/><circle cx="526.46" cy="117.88" r="2.2"/><circle cx="527.29" cy="111.12" r="2.2"/><circle cx="528.13" cy="114.75" r="2.2"/><circle cx="528.96" cy="114.4" r="2.2"/><circle cx="529.79" cy="119.24" r="2.2"/><circle cx="530.63" cy="119.12" r="2.2"/><circle cx="531.46" cy="118.02" r="2.2"/><circle cx="532.3" cy="110.02" r="2.2"/><circle cx="533.13" cy="117.87" r="2.2"/><circle cx="533.96" cy="112.64" r="2.2"/><circle cx="534.8" cy="112.17" r="2.2"/><circle cx="535.63" cy="111.88" r="2.2"/><circle cx="536.46" cy="113.25" r="2.2"/><circle cx="537.3" cy="111.91" r="2.2"/><circle cx="538.13" cy="112.77" r="2.2"/><circle cx="538.97" cy="107.46" r="2.2"/><circle cx="539.8" cy="111" r="2.2"/><circle cx="540.63" cy="110.71" r="2.2"/><circle cx="541.47" cy="107.27" r="2.2"/><circle cx="542.3" cy="109.92" r="2.2"/><circle cx="542.3" cy="114.37" r="2.2"/><circle cx="543.57" cy="107.07" r="2.2"/><circle cx="544.84" cy="106.8" r="2.2"/><circle cx="546.11" cy="89.38" r="2.2"/><circle cx="547.38" cy="103.16" r="2.2"/><circle cx="548.65" cy="104.44" r="2.2"/><circle cx="549.92" cy="102.23" r="2.2"/><circle cx="551.2" cy="93.92" r="2.2"/><circle cx="552.47" cy="91.67" r="2.2"/><circle cx="553.74" cy="97.25" r="2.2"/><circle cx="555.01" cy="95.99" r="2.2"/><circle cx="556.28" cy="92.39" r="2.2"/><circle cx="557.55" cy="96.86" r="2.2"/><circle cx="558.82" cy="87" r="2.2"/><circle cx="560.09" cy="87.71" r="2.2"/><circle cx="561.36" cy="82.51" r="2.2"/><circle cx="562.63" cy="81.8" r="2.2"/><circle cx="563.9" cy="76.35" r="2.2"/><circle cx="565.17" cy="83.05" r="2.2"/><circle cx="566.44" cy="81.5" r="2.2"/><circle cx="567.72" cy="81.97" r="2.2"/><circle cx="568.99" cy="72.82" r="2.2"/><circle cx="570.26" cy="71.66" r="2.2"/><circle cx="571.53" cy="72.68" r="2.2"/><circle cx="572.8" cy="72.91" r="2.2"/><circle cx="574.07" cy="74.98" r="2.2"/><circle cx="575.34" cy="72.21" r="2.2"/><circle cx="576.61" cy="64.73" r="2.2"/><circle cx="577.88" cy="60.6" r="2.2"/><circle cx="579.15" cy="68.93" r="2.2"/><circle cx="580.42" cy="56.49" r="2.2"/><circle cx="581.69" cy="52.67" r="2.2"/><circle cx="582.97" cy="52.76" r="2.2"/><circle cx="584.24" cy="55.97" r="2.2"/><circle cx="585.51" cy="45.12" r="2.2"/><circle cx="586.78" cy="55.27" r="2.2"/><circle cx="588.05" cy="55.4" r="2.2"/><circle cx="589.32" cy="64.23" r="2.2"/><circle cx="590.59" cy="52.19" r="2.2"/><circle cx="591.86" cy="56.49" r="2.2"/><circle cx="593.13" cy="56.25" r="2.2"/><circle cx="594.4" cy="46.81" r="2.2"/><circle cx="595.67" cy="50.27" r="2.2"/><circle cx="596.94" cy="55.03" r="2.2"/><circle cx="598.21" cy="50.87" r="2.2"/><circle cx="599.49" cy="50.07" r="2.2"/><circle cx="600.76" cy="54.57" r="2.2"/><circle cx="602.03" cy="56.45" r="2.2"/><circle cx="603.3" cy="53.69" r="2.2"/><circle cx="604.57" cy="48.59" r="2.2"/><circle cx="605.84" cy="44.84" r="2.2"/><circle cx="607.11" cy="54.95" r="2.2"/><circle cx="608.38" cy="49.7" r="2.2"/><circle cx="609.65" cy="43.03" r="2.2"/><circle cx="610.92" cy="49.55" r="2.2"/><circle cx="612.19" cy="61.42" r="2.2"/><circle cx="613.46" cy="51.69" r="2.2"/><circle cx="614.73" cy="52.68" r="2.2"/><circle cx="616.01" cy="39.87" r="2.2"/><circle cx="617.28" cy="50.53" r="2.2"/></g>
<path d="M467.5 47.4 L467.8 47.4 L468.1 47.4 L468.4 47.4 L468.7 47.4 L469 47.4 L469.3 47.4 L469.6 47.4 L469.9 47.4 L470.2 47.4 L470.5 47.4 L470.8 47.4 L471.1 47.4 L471.41 47.4 L471.71 47.4 L472.01 47.4 L472.31 47.4 L472.61 47.42 L472.91 47.44 L473.21 47.46 L473.51 47.49 L473.81 47.53 L474.11 47.57 L474.41 47.62 L474.71 47.73 L475.01 47.9 L475.31 48.12 L475.61 48.39 L475.91 48.71 L476.21 49.06 L476.51 49.44 L476.81 49.84 L477.11 50.27 L477.41 50.79 L477.71 51.43 L478.01 52.17 L478.31 53.01 L478.61 53.94 L478.92 54.95 L479.22 56.04 L479.52 57.39 L479.82 58.98 L480.12 60.74 L480.42 62.61 L480.72 64.69 L481.02 67.03 L481.32 69.51 L481.62 72.02 L481.92 74.46 L482.22 76.91 L482.52 79.38 L482.82 81.87 L483.12 84.37 L483.42 86.88 L483.72 89.39 L484.02 91.88 L484.32 94.37 L484.62 96.86 L484.92 99.35 L485.22 101.85 L485.52 104.34 L485.82 106.84 L486.12 109.36 L486.43 112.05 L486.73 114.83 L487.03 117.6 L487.33 120.22 L487.63 122.59 L487.93 124.59 L488.23 126.31 L488.53 127.98 L488.83 129.1 L489.13 129.3 L489.43 129.3 L489.73 129.29 L490.03 129.29 L490.33 129.28 L490.63 129.27 L490.93 129.26 L491.23 129.25 L491.53 129.21 L491.83 129.2 L492.13 129.19 L492.43 129.18 L492.73 129.17 L493.03 129.15 L493.33 129.13 L493.63 129.11 L493.94 129.09 L494.24 129.06 L494.54 129.03 L494.84 129 L495.14 128.96 L495.44 128.92 L495.74 128.88 L496.04 128.83 L496.34 128.78 L496.64 128.72 L496.94 128.67 L497.24 128.61 L497.54 128.54 L497.84 128.48 L498.14 128.41 L498.44 128.34 L498.74 128.27 L499.04 128.2 L499.34 128.13 L499.64 128.05 L499.94 127.97 L500.24 127.88 L500.54 127.8 L500.84 127.7 L501.14 127.61 L501.45 127.51 L501.75 127.41 L502.05 127.31 L502.35 127.2 L502.65 127.09 L502.95 126.98 L503.25 126.86 L503.55 126.74 L503.85 126.63 L504.15 126.5 L504.45 126.38 L504.75 126.26 L505.05 126.13 L505.35 126 L505.65 125.87 L505.95 125.74 L506.25 125.61 L506.55 125.48 L506.85 125.35 L507.15 125.22 L507.45 125.09 L507.75 124.96 L508.05 124.83 L508.35 124.7 L508.66 124.56 L508.96 124.43 L509.26 124.3 L509.56 124.18 L509.86 124.05 L510.16 123.92 L510.46 123.79 L510.76 123.66 L511.06 123.53 L511.36 123.4 L511.66 123.27 L511.96 123.14 L512.26 123.01 L512.56 122.88 L512.86 122.75 L513.16 122.61 L513.46 122.48 L513.76 122.34 L514.06 122.2 L514.36 122.07 L514.66 121.93 L514.96 121.79 L515.26 121.66 L515.56 121.52 L515.86 121.38 L516.17 121.24 L516.47 121.1 L516.77 120.96 L517.07 120.83 L517.37 120.69 L517.67 120.55 L517.97 120.41 L518.27 120.27 L518.57 120.14 L518.87 120 L519.17 119.86 L519.47 119.72 L519.77 119.59 L520.07 119.45 L520.37 119.32 L520.67 119.18 L520.97 119.05 L521.27 118.92 L521.57 118.78 L521.87 118.65 L522.17 118.52 L522.47 118.39 L522.77 118.25 L523.07 118.12 L523.37 117.99 L523.68 117.86 L523.98 117.73 L524.28 117.6 L524.58 117.47 L524.88 117.34 L525.18 117.21 L525.48 117.08 L525.78 116.95 L526.08 116.82 L526.38 116.69 L526.68 116.56 L526.98 116.43 L527.28 116.3 L527.58 116.17 L527.88 116.04 L528.18 115.91 L528.48 115.78 L528.78 115.65 L529.08 115.52 L529.38 115.39 L529.68 115.27 L529.98 115.14 L530.28 115.01 L530.58 114.88 L530.88 114.75 L531.19 114.62 L531.49 114.49 L531.79 114.36 L532.09 114.23 L532.39 114.11 L532.69 113.98 L532.99 113.85 L533.29 113.72 L533.59 113.59 L533.89 113.46 L534.19 113.33 L534.49 113.21 L534.79 113.08 L535.09 112.95 L535.39 112.82 L535.69 112.69 L535.99 112.56 L536.29 112.44 L536.59 112.31 L536.89 112.18 L537.19 112.05 L537.49 111.92 L537.79 111.8 L538.09 111.67 L538.39 111.54 L538.7 111.41 L539 111.29 L539.3 111.16 L539.6 111.03 L539.9 110.91 L540.2 110.79 L540.5 110.67 L540.8 110.57 L541.1 110.47 L541.4 110.27 L541.7 110.14 L542 110.01 L542.3 109.88 L542.6 109.59 L542.9 109.3 L543.2 109.01 L543.5 108.71 L543.8 108.41 L544.1 108.1 L544.4 107.8 L544.7 107.49 L545 107.17 L545.3 106.86 L545.6 106.54 L545.9 106.22 L546.21 105.9 L546.51 105.57 L546.81 105.24 L547.11 104.91 L547.41 104.57 L547.71 104.23 L548.01 103.89 L548.31 103.55 L548.61 103.2 L548.91 102.85 L549.21 102.5 L549.51 102.14 L549.81 101.78 L550.11 101.42 L550.41 101.06 L550.71 100.69 L551.01 100.32 L551.31 99.95 L551.61 99.58 L551.91 99.2 L552.21 98.82 L552.51 98.44 L552.81 98.05 L553.11 97.66 L553.41 97.27 L553.72 96.88 L554.02 96.49 L554.32 96.09 L554.62 95.69 L554.92 95.29 L555.22 94.88 L555.52 94.48 L555.82 94.07 L556.12 93.66 L556.42 93.25 L556.72 92.83 L557.02 92.41 L557.32 91.99 L557.62 91.57 L557.92 91.15 L558.22 90.73 L558.52 90.3 L558.82 89.87 L559.12 89.44 L559.42 89.01 L559.72 88.58 L560.02 88.15 L560.32 87.71 L560.62 87.27 L560.92 86.84 L561.23 86.4 L561.53 85.96 L561.83 85.52 L562.13 85.08 L562.43 84.63 L562.73 84.19 L563.03 83.75 L563.33 83.3 L563.63 82.86 L563.93 82.41 L564.23 81.97 L564.53 81.52 L564.83 81.08 L565.13 80.63 L565.43 80.19 L565.73 79.74 L566.03 79.3 L566.33 78.85 L566.63 78.41 L566.93 77.97 L567.23 77.52 L567.53 77.08 L567.83 76.64 L568.13 76.2 L568.43 75.76 L568.74 75.33 L569.04 74.89 L569.34 74.46 L569.64 74.02 L569.94 73.59 L570.24 73.16 L570.54 72.74 L570.84 72.31 L571.14 71.89 L571.44 71.47 L571.74 71.05 L572.04 70.64 L572.34 70.22 L572.64 69.81 L572.94 69.41 L573.24 69 L573.54 68.6 L573.84 68.2 L574.14 67.81 L574.44 67.42 L574.74 67.03 L575.04 66.65 L575.34 66.27 L575.64 65.89 L575.94 65.52 L576.25 65.15 L576.55 64.78 L576.85 64.42 L577.15 64.07 L577.45 63.72 L577.75 63.37 L578.05 63.03 L578.35 62.69 L578.65 62.36 L578.95 62.03 L579.25 61.7 L579.55 61.39 L579.85 61.07 L580.15 60.76 L580.45 60.46 L580.75 60.16 L581.05 59.87 L581.35 59.58 L581.65 59.3 L581.95 59.02 L582.25 58.75 L582.55 58.49 L582.85 58.23 L583.15 57.97 L583.45 57.72 L583.76 57.48 L584.06 57.24 L584.36 57.01 L584.66 56.78 L584.96 56.56 L585.26 56.34 L585.56 56.13 L585.86 55.92 L586.16 55.72 L586.46 55.53 L586.76 55.34 L587.06 55.16 L587.36 54.98 L587.66 54.81 L587.96 54.64 L588.26 54.48 L588.56 54.32 L588.86 54.17 L589.16 54.02 L589.46 53.88 L589.76 53.74 L590.06 53.61 L590.36 53.48 L590.66 53.36 L590.96 53.24 L591.27 53.12 L591.57 53.01 L591.87 52.91 L592.17 52.81 L592.47 52.71 L592.77 52.62 L593.07 52.53 L593.37 52.44 L593.67 52.36 L593.97 52.29 L594.27 52.21 L594.57 52.14 L594.87 52.08 L595.17 52.01 L595.47 51.95 L595.77 51.89 L596.07 51.84 L596.37 51.79 L596.67 51.74 L596.97 51.69 L597.27 51.65 L597.57 51.61 L597.87 51.57 L598.17 51.53 L598.47 51.5 L598.78 51.47 L599.08 51.44 L599.38 51.41 L599.68 51.38 L599.98 51.36 L600.28 51.34 L600.58 51.31 L600.88 51.29 L601.18 51.28 L601.48 51.26 L601.78 51.24 L602.08 51.23 L602.38 51.21 L602.68 51.2 L602.98 51.19 L603.28 51.18 L603.58 51.17 L603.88 51.16 L604.18 51.15 L604.48 51.14 L604.78 51.14 L605.08 51.13 L605.38 51.12 L605.68 51.12 L605.98 51.11 L606.29 51.11 L606.59 51.11 L606.89 51.1 L607.19 51.1 L607.49 51.1 L607.79 51.09 L608.09 51.09 L608.39 51.09 L608.69 51.09 L608.99 51.09 L609.29 51.08 L609.59 51.08 L609.89 51.08 L610.19 51.08 L610.49 51.08 L610.79 51.08 L611.09 51.08 L611.39 51.08 L611.69 51.08 L611.99 51.08 L612.29 51.08 L612.59 51.08 L612.89 51.08 L613.19 51.08 L613.49 51.07 L613.8 51.07 L614.1 51.07 L614.4 51.07 L614.7 51.07 L615 51.07 L615.3 51.07 L615.6 51.07 L615.9 51.07 L616.2 51.07 L616.5 51.07 L616.8 51.07 L617.1 51.07 L617.4 51.07" fill="none" stroke="#0b1132" stroke-width="2.3" stroke-linejoin="round" clip-path="url(#cc)"/>
<path d="M467.5 47.4 L467.8 47.4 L468.1 47.4 L468.4 47.4 L468.7 47.4 L469 47.4 L469.3 47.4 L469.6 47.4 L469.9 47.4 L470.2 47.4 L470.5 47.4 L470.8 47.4 L471.1 47.4 L471.41 47.4 L471.71 47.4 L472.01 47.4 L472.31 47.4 L472.61 47.42 L472.91 47.44 L473.21 47.46 L473.51 47.49 L473.81 47.53 L474.11 47.57 L474.41 47.62 L474.71 47.73 L475.01 47.9 L475.31 48.12 L475.61 48.39 L475.91 48.71 L476.21 49.06 L476.51 49.44 L476.81 49.84 L477.11 50.27 L477.41 50.79 L477.71 51.43 L478.01 52.17 L478.31 53.01 L478.61 53.94 L478.92 54.95 L479.22 56.04 L479.52 57.39 L479.82 58.98 L480.12 60.74 L480.42 62.61 L480.72 64.69 L481.02 67.03 L481.32 69.51 L481.62 72.02 L481.92 74.46 L482.22 76.91 L482.52 79.38 L482.82 81.87 L483.12 84.37 L483.42 86.88 L483.72 89.39 L484.02 91.88 L484.32 94.37 L484.62 96.86 L484.92 99.35 L485.22 101.85 L485.52 104.34 L485.82 106.84 L486.12 109.36 L486.43 112.05 L486.73 114.83 L487.03 117.6 L487.33 120.22 L487.63 122.59 L487.93 124.59 L488.23 126.31 L488.53 127.98 L488.83 129.1 L489.13 129.3 L489.43 129.29 L489.73 129.27 L490.03 129.25 L490.33 129.21 L490.63 129.17 L490.93 129.12 L491.23 129.07 L491.53 128.88 L491.83 128.85 L492.13 128.8 L492.43 128.75 L492.73 128.69 L493.03 128.63 L493.33 128.55 L493.63 128.47 L493.94 128.38 L494.24 128.29 L494.54 128.18 L494.84 128.07 L495.14 127.96 L495.44 127.83 L495.74 127.69 L496.04 127.55 L496.34 127.4 L496.64 127.24 L496.94 127.08 L497.24 126.91 L497.54 126.73 L497.84 126.56 L498.14 126.38 L498.44 126.19 L498.74 126.01 L499.04 125.82 L499.34 125.62 L499.64 125.43 L499.94 125.22 L500.24 125.01 L500.54 124.8 L500.84 124.58 L501.14 124.36 L501.45 124.13 L501.75 123.9 L502.05 123.66 L502.35 123.41 L502.65 123.17 L502.95 122.92 L503.25 122.66 L503.55 122.41 L503.85 122.15 L504.15 121.89 L504.45 121.62 L504.75 121.36 L505.05 121.09 L505.35 120.83 L505.65 120.56 L505.95 120.29 L506.25 120.03 L506.55 119.76 L506.85 119.5 L507.15 119.23 L507.45 118.97 L507.75 118.71 L508.05 118.46 L508.35 118.2 L508.66 117.95 L508.96 117.7 L509.26 117.46 L509.56 117.22 L509.86 116.98 L510.16 116.75 L510.46 116.52 L510.76 116.29 L511.06 116.06 L511.36 115.83 L511.66 115.6 L511.96 115.38 L512.26 115.16 L512.56 114.93 L512.86 114.71 L513.16 114.49 L513.46 114.27 L513.76 114.05 L514.06 113.83 L514.36 113.61 L514.66 113.39 L514.96 113.17 L515.26 112.96 L515.56 112.74 L515.86 112.53 L516.17 112.32 L516.47 112.11 L516.77 111.9 L517.07 111.69 L517.37 111.48 L517.67 111.28 L517.97 111.07 L518.27 110.87 L518.57 110.67 L518.87 110.47 L519.17 110.27 L519.47 110.07 L519.77 109.88 L520.07 109.68 L520.37 109.49 L520.67 109.3 L520.97 109.11 L521.27 108.92 L521.57 108.74 L521.87 108.55 L522.17 108.37 L522.47 108.18 L522.77 108 L523.07 107.82 L523.37 107.64 L523.68 107.46 L523.98 107.28 L524.28 107.1 L524.58 106.92 L524.88 106.75 L525.18 106.57 L525.48 106.4 L525.78 106.22 L526.08 106.05 L526.38 105.88 L526.68 105.71 L526.98 105.54 L527.28 105.38 L527.58 105.21 L527.88 105.05 L528.18 104.89 L528.48 104.73 L528.78 104.57 L529.08 104.41 L529.38 104.26 L529.68 104.1 L529.98 103.95 L530.28 103.8 L530.58 103.66 L530.88 103.51 L531.19 103.37 L531.49 103.23 L531.79 103.09 L532.09 102.95 L532.39 102.82 L532.69 102.68 L532.99 102.55 L533.29 102.42 L533.59 102.29 L533.89 102.16 L534.19 102.04 L534.49 101.91 L534.79 101.79 L535.09 101.66 L535.39 101.54 L535.69 101.42 L535.99 101.3 L536.29 101.19 L536.59 101.07 L536.89 100.95 L537.19 100.84 L537.49 100.73 L537.79 100.62 L538.09 100.51 L538.39 100.4 L538.7 100.29 L539 100.19 L539.3 100.09 L539.6 99.98 L539.9 99.89 L540.2 99.79 L540.5 99.7 L540.8 99.62 L541.1 99.55 L541.4 99.4 L541.7 99.3 L542 99.22 L542.3 99.13 L542.6 98.8 L542.9 98.46 L543.2 98.12 L543.5 97.78 L543.8 97.44 L544.1 97.1 L544.4 96.75 L544.7 96.4 L545 96.05 L545.3 95.69 L545.6 95.33 L545.9 94.97 L546.21 94.61 L546.51 94.25 L546.81 93.88 L547.11 93.51 L547.41 93.14 L547.71 92.76 L548.01 92.39 L548.31 92.01 L548.61 91.63 L548.91 91.25 L549.21 90.86 L549.51 90.48 L549.81 90.09 L550.11 89.7 L550.41 89.31 L550.71 88.92 L551.01 88.52 L551.31 88.12 L551.61 87.73 L551.91 87.33 L552.21 86.92 L552.51 86.52 L552.81 86.12 L553.11 85.71 L553.41 85.31 L553.72 84.9 L554.02 84.49 L554.32 84.08 L554.62 83.67 L554.92 83.26 L555.22 82.84 L555.52 82.43 L555.82 82.02 L556.12 81.6 L556.42 81.19 L556.72 80.77 L557.02 80.35 L557.32 79.94 L557.62 79.52 L557.92 79.11 L558.22 78.69 L558.52 78.27 L558.82 77.86 L559.12 77.44 L559.42 77.03 L559.72 76.61 L560.02 76.2 L560.32 75.79 L560.62 75.37 L560.92 74.96 L561.23 74.55 L561.53 74.14 L561.83 73.73 L562.13 73.33 L562.43 72.92 L562.73 72.52 L563.03 72.11 L563.33 71.71 L563.63 71.32 L563.93 70.92 L564.23 70.52 L564.53 70.13 L564.83 69.74 L565.13 69.35 L565.43 68.97 L565.73 68.59 L566.03 68.21 L566.33 67.83 L566.63 67.45 L566.93 67.08 L567.23 66.71 L567.53 66.35 L567.83 65.99 L568.13 65.63 L568.43 65.27 L568.74 64.92 L569.04 64.58 L569.34 64.23 L569.64 63.89 L569.94 63.56 L570.24 63.22 L570.54 62.9 L570.84 62.57 L571.14 62.25 L571.44 61.94 L571.74 61.63 L572.04 61.32 L572.34 61.02 L572.64 60.72 L572.94 60.43 L573.24 60.14 L573.54 59.86 L573.84 59.58 L574.14 59.31 L574.44 59.04 L574.74 58.78 L575.04 58.52 L575.34 58.27 L575.64 58.02 L575.94 57.78 L576.25 57.54 L576.55 57.31 L576.85 57.08 L577.15 56.86 L577.45 56.64 L577.75 56.43 L578.05 56.22 L578.35 56.02 L578.65 55.82 L578.95 55.63 L579.25 55.45 L579.55 55.27 L579.85 55.09 L580.15 54.92 L580.45 54.75 L580.75 54.59 L581.05 54.44 L581.35 54.29 L581.65 54.14 L581.95 54 L582.25 53.86 L582.55 53.73 L582.85 53.6 L583.15 53.48 L583.45 53.36 L583.76 53.24 L584.06 53.13 L584.36 53.03 L584.66 52.93 L584.96 52.83 L585.26 52.73 L585.56 52.64 L585.86 52.56 L586.16 52.48 L586.46 52.4 L586.76 52.32 L587.06 52.25 L587.36 52.18 L587.66 52.12 L587.96 52.05 L588.26 51.99 L588.56 51.94 L588.86 51.89 L589.16 51.84 L589.46 51.79 L589.76 51.74 L590.06 51.7 L590.36 51.66 L590.66 51.62 L590.96 51.59 L591.27 51.55 L591.57 51.52 L591.87 51.49 L592.17 51.46 L592.47 51.44 L592.77 51.41 L593.07 51.39 L593.37 51.37 L593.67 51.35 L593.97 51.33 L594.27 51.31 L594.57 51.3 L594.87 51.28 L595.17 51.27 L595.47 51.25 L595.77 51.24 L596.07 51.23 L596.37 51.22 L596.67 51.21 L596.97 51.2 L597.27 51.2 L597.57 51.19 L597.87 51.18 L598.17 51.18 L598.47 51.17 L598.78 51.17 L599.08 51.16 L599.38 51.16 L599.68 51.16 L599.98 51.15 L600.28 51.15 L600.58 51.15 L600.88 51.14 L601.18 51.14 L601.48 51.14 L601.78 51.14 L602.08 51.14 L602.38 51.14 L602.68 51.13 L602.98 51.13 L603.28 51.13 L603.58 51.13 L603.88 51.13 L604.18 51.13 L604.48 51.13 L604.78 51.13 L605.08 51.13 L605.38 51.13 L605.68 51.13 L605.98 51.13 L606.29 51.13 L606.59 51.13 L606.89 51.13 L607.19 51.13 L607.49 51.13 L607.79 51.13 L608.09 51.13 L608.39 51.13 L608.69 51.13 L608.99 51.13 L609.29 51.13 L609.59 51.13 L609.89 51.13 L610.19 51.13 L610.49 51.13 L610.79 51.13 L611.09 51.13 L611.39 51.13 L611.69 51.13 L611.99 51.13 L612.29 51.13 L612.59 51.13 L612.89 51.13 L613.19 51.13 L613.49 51.13 L613.8 51.13 L614.1 51.13 L614.4 51.13 L614.7 51.13 L615 51.13 L615.3 51.13 L615.6 51.13 L615.9 51.13 L616.2 51.13 L616.5 51.13 L616.8 51.13 L617.1 51.13 L617.4 51.13" fill="none" stroke="#1f2c6e" stroke-width="2.3" stroke-linejoin="round" clip-path="url(#cc)"/>
<path d="M467.5 47.4 L467.8 47.4 L468.1 47.4 L468.4 47.4 L468.7 47.4 L469 47.4 L469.3 47.4 L469.6 47.4 L469.9 47.4 L470.2 47.4 L470.5 47.4 L470.8 47.4 L471.1 47.4 L471.41 47.4 L471.71 47.4 L472.01 47.4 L472.31 47.4 L472.61 47.42 L472.91 47.44 L473.21 47.46 L473.51 47.49 L473.81 47.53 L474.11 47.57 L474.41 47.62 L474.71 47.73 L475.01 47.9 L475.31 48.12 L475.61 48.39 L475.91 48.71 L476.21 49.06 L476.51 49.44 L476.81 49.84 L477.11 50.27 L477.41 50.79 L477.71 51.43 L478.01 52.17 L478.31 53.01 L478.61 53.94 L478.92 54.95 L479.22 56.04 L479.52 57.39 L479.82 58.98 L480.12 60.74 L480.42 62.61 L480.72 64.69 L481.02 67.03 L481.32 69.51 L481.62 72.02 L481.92 74.46 L482.22 76.91 L482.52 79.38 L482.82 81.87 L483.12 84.37 L483.42 86.88 L483.72 89.39 L484.02 91.88 L484.32 94.37 L484.62 96.86 L484.92 99.35 L485.22 101.85 L485.52 104.34 L485.82 106.84 L486.12 109.36 L486.43 112.05 L486.73 114.83 L487.03 117.6 L487.33 120.22 L487.63 122.59 L487.93 124.59 L488.23 126.31 L488.53 127.98 L488.83 129.1 L489.13 129.3 L489.43 129.25 L489.73 129.15 L490.03 129.01 L490.33 128.84 L490.63 128.63 L490.93 128.4 L491.23 128.14 L491.53 127.37 L491.83 127.22 L492.13 127.05 L492.43 126.85 L492.73 126.62 L493.03 126.37 L493.33 126.1 L493.63 125.8 L493.94 125.49 L494.24 125.16 L494.54 124.82 L494.84 124.46 L495.14 124.1 L495.44 123.73 L495.74 123.35 L496.04 122.96 L496.34 122.58 L496.64 122.19 L496.94 121.8 L497.24 121.41 L497.54 121.02 L497.84 120.63 L498.14 120.24 L498.44 119.85 L498.74 119.47 L499.04 119.08 L499.34 118.69 L499.64 118.3 L499.94 117.91 L500.24 117.51 L500.54 117.12 L500.84 116.72 L501.14 116.32 L501.45 115.91 L501.75 115.5 L502.05 115.09 L502.35 114.68 L502.65 114.26 L502.95 113.84 L503.25 113.41 L503.55 112.98 L503.85 112.54 L504.15 112.09 L504.45 111.64 L504.75 111.19 L505.05 110.72 L505.35 110.25 L505.65 109.78 L505.95 109.3 L506.25 108.81 L506.55 108.33 L506.85 107.84 L507.15 107.35 L507.45 106.86 L507.75 106.37 L508.05 105.88 L508.35 105.4 L508.66 104.92 L508.96 104.44 L509.26 103.97 L509.56 103.51 L509.86 103.05 L510.16 102.6 L510.46 102.15 L510.76 101.71 L511.06 101.27 L511.36 100.84 L511.66 100.41 L511.96 99.99 L512.26 99.56 L512.56 99.15 L512.86 98.73 L513.16 98.32 L513.46 97.91 L513.76 97.5 L514.06 97.09 L514.36 96.68 L514.66 96.28 L514.96 95.88 L515.26 95.48 L515.56 95.08 L515.86 94.68 L516.17 94.29 L516.47 93.89 L516.77 93.49 L517.07 93.1 L517.37 92.71 L517.67 92.32 L517.97 91.93 L518.27 91.55 L518.57 91.17 L518.87 90.79 L519.17 90.42 L519.47 90.05 L519.77 89.69 L520.07 89.33 L520.37 88.97 L520.67 88.62 L520.97 88.28 L521.27 87.94 L521.57 87.6 L521.87 87.26 L522.17 86.92 L522.47 86.59 L522.77 86.26 L523.07 85.93 L523.37 85.6 L523.68 85.28 L523.98 84.95 L524.28 84.63 L524.58 84.31 L524.88 84 L525.18 83.68 L525.48 83.37 L525.78 83.07 L526.08 82.76 L526.38 82.46 L526.68 82.16 L526.98 81.87 L527.28 81.58 L527.58 81.29 L527.88 81 L528.18 80.72 L528.48 80.44 L528.78 80.17 L529.08 79.9 L529.38 79.64 L529.68 79.38 L529.98 79.12 L530.28 78.86 L530.58 78.61 L530.88 78.36 L531.19 78.12 L531.49 77.88 L531.79 77.64 L532.09 77.4 L532.39 77.16 L532.69 76.93 L532.99 76.7 L533.29 76.47 L533.59 76.24 L533.89 76.01 L534.19 75.79 L534.49 75.57 L534.79 75.35 L535.09 75.13 L535.39 74.91 L535.69 74.7 L535.99 74.49 L536.29 74.28 L536.59 74.08 L536.89 73.87 L537.19 73.67 L537.49 73.47 L537.79 73.28 L538.09 73.08 L538.39 72.89 L538.7 72.71 L539 72.52 L539.3 72.34 L539.6 72.16 L539.9 71.99 L540.2 71.83 L540.5 71.67 L540.8 71.53 L541.1 71.4 L541.4 71.13 L541.7 70.97 L542 70.82 L542.3 70.67 L542.6 70.07 L542.9 69.48 L543.2 68.9 L543.5 68.32 L543.8 67.75 L544.1 67.19 L544.4 66.63 L544.7 66.08 L545 65.53 L545.3 64.99 L545.6 64.46 L545.9 63.94 L546.21 63.42 L546.51 62.91 L546.81 62.4 L547.11 61.91 L547.41 61.42 L547.71 60.94 L548.01 60.47 L548.31 60 L548.61 59.55 L548.91 59.1 L549.21 58.66 L549.51 58.22 L549.81 57.8 L550.11 57.38 L550.41 56.97 L550.71 56.58 L551.01 56.18 L551.31 55.8 L551.61 55.43 L551.91 55.06 L552.21 54.7 L552.51 54.36 L552.81 54.01 L553.11 53.68 L553.41 53.36 L553.72 53.04 L554.02 52.74 L554.32 52.44 L554.62 52.15 L554.92 51.87 L555.22 51.59 L555.52 51.33 L555.82 51.07 L556.12 50.82 L556.42 50.58 L556.72 50.35 L557.02 50.12 L557.32 49.9 L557.62 49.69 L557.92 49.49 L558.22 49.29 L558.52 49.1 L558.82 48.92 L559.12 48.74 L559.42 48.58 L559.72 48.42 L560.02 48.26 L560.32 48.11 L560.62 47.97 L560.92 47.83 L561.23 47.7 L561.53 47.58 L561.83 47.46 L562.13 47.35 L562.43 47.24 L562.73 47.14 L563.03 47.04 L563.33 46.95 L563.63 46.86 L563.93 46.77 L564.23 46.69 L564.53 46.62 L564.83 46.55 L565.13 46.48 L565.43 46.42 L565.73 46.36 L566.03 46.3 L566.33 46.25 L566.63 46.2 L566.93 46.16 L567.23 46.11 L567.53 46.07 L567.83 46.03 L568.13 46 L568.43 45.97 L568.74 45.93 L569.04 45.91 L569.34 45.88 L569.64 45.85 L569.94 45.83 L570.24 45.81 L570.54 45.79 L570.84 45.77 L571.14 45.76 L571.44 45.74 L571.74 45.73 L572.04 45.71 L572.34 45.7 L572.64 45.69 L572.94 45.68 L573.24 45.67 L573.54 45.67 L573.84 45.66 L574.14 45.65 L574.44 45.64 L574.74 45.64 L575.04 45.63 L575.34 45.63 L575.64 45.63 L575.94 45.62 L576.25 45.62 L576.55 45.62 L576.85 45.61 L577.15 45.61 L577.45 45.61 L577.75 45.61 L578.05 45.61 L578.35 45.6 L578.65 45.6 L578.95 45.6 L579.25 45.6 L579.55 45.6 L579.85 45.6 L580.15 45.6 L580.45 45.6 L580.75 45.6 L581.05 45.6 L581.35 45.6 L581.65 45.6 L581.95 45.6 L582.25 45.6 L582.55 45.6 L582.85 45.6 L583.15 45.6 L583.45 45.6 L583.76 45.6 L584.06 45.6 L584.36 45.6 L584.66 45.6 L584.96 45.6 L585.26 45.6 L585.56 45.6 L585.86 45.6 L586.16 45.6 L586.46 45.6 L586.76 45.6 L587.06 45.6 L587.36 45.6 L587.66 45.6 L587.96 45.6 L588.26 45.6 L588.56 45.6 L588.86 45.6 L589.16 45.6 L589.46 45.6 L589.76 45.6 L590.06 45.6 L590.36 45.6 L590.66 45.6 L590.96 45.6 L591.27 45.6 L591.57 45.6 L591.87 45.6 L592.17 45.6 L592.47 45.6 L592.77 45.6 L593.07 45.6 L593.37 45.6 L593.67 45.6 L593.97 45.6 L594.27 45.6 L594.57 45.6 L594.87 45.6 L595.17 45.6 L595.47 45.6 L595.77 45.6 L596.07 45.6 L596.37 45.6 L596.67 45.6 L596.97 45.6 L597.27 45.6 L597.57 45.6 L597.87 45.6 L598.17 45.6 L598.47 45.6 L598.78 45.6 L599.08 45.6 L599.38 45.6 L599.68 45.6 L599.98 45.6 L600.28 45.6 L600.58 45.6 L600.88 45.6 L601.18 45.6 L601.48 45.6 L601.78 45.6 L602.08 45.6 L602.38 45.6 L602.68 45.6 L602.98 45.6 L603.28 45.6 L603.58 45.6 L603.88 45.6 L604.18 45.6 L604.48 45.6 L604.78 45.6 L605.08 45.6 L605.38 45.6 L605.68 45.6 L605.98 45.6 L606.29 45.6 L606.59 45.6 L606.89 45.6 L607.19 45.6 L607.49 45.6 L607.79 45.6 L608.09 45.6 L608.39 45.6 L608.69 45.6 L608.99 45.6 L609.29 45.6 L609.59 45.6 L609.89 45.6 L610.19 45.6 L610.49 45.6 L610.79 45.6 L611.09 45.6 L611.39 45.6 L611.69 45.6 L611.99 45.6 L612.29 45.6 L612.59 45.6 L612.89 45.6 L613.19 45.6 L613.49 45.6 L613.8 45.6 L614.1 45.6 L614.4 45.6 L614.7 45.6 L615 45.6 L615.3 45.6 L615.6 45.6 L615.9 45.6 L616.2 45.6 L616.5 45.6 L616.8 45.6 L617.1 45.6 L617.4 45.6" fill="none" stroke="#5b69a9" stroke-width="2.3" stroke-linejoin="round" clip-path="url(#cc)"/>
<path d="M467.5 47.4 L467.8 47.4 L468.1 47.4 L468.4 47.4 L468.7 47.4 L469 47.4 L469.3 47.4 L469.6 47.4 L469.9 47.4 L470.2 47.4 L470.5 47.4 L470.8 47.4 L471.1 47.4 L471.41 47.4 L471.71 47.4 L472.01 47.4 L472.31 47.4 L472.61 47.42 L472.91 47.44 L473.21 47.46 L473.51 47.49 L473.81 47.53 L474.11 47.57 L474.41 47.62 L474.71 47.73 L475.01 47.9 L475.31 48.12 L475.61 48.39 L475.91 48.71 L476.21 49.06 L476.51 49.44 L476.81 49.84 L477.11 50.27 L477.41 50.79 L477.71 51.43 L478.01 52.17 L478.31 53.01 L478.61 53.94 L478.92 54.95 L479.22 56.04 L479.52 57.39 L479.82 58.98 L480.12 60.74 L480.42 62.61 L480.72 64.69 L481.02 67.03 L481.32 69.51 L481.62 72.02 L481.92 74.46 L482.22 76.91 L482.52 79.38 L482.82 81.87 L483.12 84.37 L483.42 86.88 L483.72 89.39 L484.02 91.88 L484.32 94.37 L484.62 96.86 L484.92 99.35 L485.22 101.85 L485.52 104.34 L485.82 106.84 L486.12 109.36 L486.43 112.05 L486.73 114.83 L487.03 117.6 L487.33 120.22 L487.63 122.59 L487.93 124.59 L488.23 126.31 L488.53 127.98 L488.83 129.1 L489.13 129.28 L489.43 129.1 L489.73 128.75 L490.03 128.25 L490.33 127.64 L490.63 126.92 L490.93 126.12 L491.23 125.28 L491.53 122.99 L491.83 122.6 L492.13 122.16 L492.43 121.66 L492.73 121.12 L493.03 120.55 L493.33 119.95 L493.63 119.35 L493.94 118.74 L494.24 118.13 L494.54 117.53 L494.84 116.93 L495.14 116.32 L495.44 115.72 L495.74 115.1 L496.04 114.48 L496.34 113.85 L496.64 113.21 L496.94 112.56 L497.24 111.9 L497.54 111.22 L497.84 110.54 L498.14 109.84 L498.44 109.14 L498.74 108.42 L499.04 107.7 L499.34 106.96 L499.64 106.22 L499.94 105.47 L500.24 104.71 L500.54 103.94 L500.84 103.17 L501.14 102.38 L501.45 101.59 L501.75 100.78 L502.05 99.96 L502.35 99.13 L502.65 98.28 L502.95 97.41 L503.25 96.53 L503.55 95.63 L503.85 94.72 L504.15 93.8 L504.45 92.88 L504.75 91.97 L505.05 91.06 L505.35 90.16 L505.65 89.28 L505.95 88.42 L506.25 87.58 L506.55 86.77 L506.85 85.98 L507.15 85.21 L507.45 84.46 L507.75 83.73 L508.05 83.03 L508.35 82.34 L508.66 81.68 L508.96 81.03 L509.26 80.42 L509.56 79.82 L509.86 79.25 L510.16 78.7 L510.46 78.18 L510.76 77.67 L511.06 77.19 L511.36 76.72 L511.66 76.26 L511.96 75.82 L512.26 75.4 L512.56 74.98 L512.86 74.58 L513.16 74.19 L513.46 73.82 L513.76 73.45 L514.06 73.09 L514.36 72.75 L514.66 72.42 L514.96 72.09 L515.26 71.78 L515.56 71.47 L515.86 71.18 L516.17 70.89 L516.47 70.61 L516.77 70.34 L517.07 70.07 L517.37 69.81 L517.67 69.56 L517.97 69.31 L518.27 69.06 L518.57 68.82 L518.87 68.58 L519.17 68.34 L519.47 68.1 L519.77 67.87 L520.07 67.63 L520.37 67.4 L520.67 67.16 L520.97 66.93 L521.27 66.69 L521.57 66.45 L521.87 66.22 L522.17 65.98 L522.47 65.74 L522.77 65.5 L523.07 65.27 L523.37 65.03 L523.68 64.79 L523.98 64.56 L524.28 64.33 L524.58 64.1 L524.88 63.87 L525.18 63.64 L525.48 63.41 L525.78 63.19 L526.08 62.97 L526.38 62.76 L526.68 62.54 L526.98 62.33 L527.28 62.13 L527.58 61.93 L527.88 61.73 L528.18 61.54 L528.48 61.35 L528.78 61.17 L529.08 60.99 L529.38 60.82 L529.68 60.65 L529.98 60.49 L530.28 60.33 L530.58 60.18 L530.88 60.03 L531.19 59.88 L531.49 59.74 L531.79 59.6 L532.09 59.46 L532.39 59.33 L532.69 59.19 L532.99 59.06 L533.29 58.92 L533.59 58.79 L533.89 58.66 L534.19 58.54 L534.49 58.41 L534.79 58.29 L535.09 58.17 L535.39 58.05 L535.69 57.93 L535.99 57.81 L536.29 57.7 L536.59 57.59 L536.89 57.48 L537.19 57.37 L537.49 57.27 L537.79 57.17 L538.09 57.07 L538.39 56.98 L538.7 56.89 L539 56.8 L539.3 56.71 L539.6 56.63 L539.9 56.55 L540.2 56.48 L540.5 56.41 L540.8 56.35 L541.1 56.3 L541.4 56.18 L541.7 56.12 L542 56.07 L542.3 56.02 L542.6 55.66 L542.9 55.31 L543.2 54.97 L543.5 54.64 L543.8 54.32 L544.1 54.01 L544.4 53.7 L544.7 53.4 L545 53.11 L545.3 52.83 L545.6 52.55 L545.9 52.29 L546.21 52.03 L546.51 51.78 L546.81 51.53 L547.11 51.3 L547.41 51.07 L547.71 50.85 L548.01 50.64 L548.31 50.43 L548.61 50.24 L548.91 50.04 L549.21 49.86 L549.51 49.68 L549.81 49.51 L550.11 49.35 L550.41 49.19 L550.71 49.04 L551.01 48.89 L551.31 48.76 L551.61 48.62 L551.91 48.5 L552.21 48.37 L552.51 48.26 L552.81 48.15 L553.11 48.04 L553.41 47.94 L553.72 47.85 L554.02 47.76 L554.32 47.67 L554.62 47.59 L554.92 47.51 L555.22 47.44 L555.52 47.37 L555.82 47.3 L556.12 47.24 L556.42 47.18 L556.72 47.13 L557.02 47.08 L557.32 47.03 L557.62 46.98 L557.92 46.94 L558.22 46.9 L558.52 46.86 L558.82 46.83 L559.12 46.8 L559.42 46.77 L559.72 46.74 L560.02 46.71 L560.32 46.69 L560.62 46.67 L560.92 46.65 L561.23 46.63 L561.53 46.61 L561.83 46.59 L562.13 46.58 L562.43 46.56 L562.73 46.55 L563.03 46.54 L563.33 46.53 L563.63 46.52 L563.93 46.51 L564.23 46.5 L564.53 46.5 L564.83 46.49 L565.13 46.48 L565.43 46.48 L565.73 46.47 L566.03 46.47 L566.33 46.46 L566.63 46.46 L566.93 46.46 L567.23 46.45 L567.53 46.45 L567.83 46.45 L568.13 46.45 L568.43 46.45 L568.74 46.44 L569.04 46.44 L569.34 46.44 L569.64 46.44 L569.94 46.44 L570.24 46.44 L570.54 46.44 L570.84 46.44 L571.14 46.44 L571.44 46.44 L571.74 46.44 L572.04 46.44 L572.34 46.44 L572.64 46.44 L572.94 46.44 L573.24 46.44 L573.54 46.43 L573.84 46.43 L574.14 46.43 L574.44 46.43 L574.74 46.43 L575.04 46.43 L575.34 46.43 L575.64 46.43 L575.94 46.43 L576.25 46.43 L576.55 46.43 L576.85 46.43 L577.15 46.43 L577.45 46.43 L577.75 46.43 L578.05 46.43 L578.35 46.43 L578.65 46.43 L578.95 46.43 L579.25 46.43 L579.55 46.43 L579.85 46.43 L580.15 46.43 L580.45 46.43 L580.75 46.43 L581.05 46.43 L581.35 46.43 L581.65 46.43 L581.95 46.43 L582.25 46.43 L582.55 46.43 L582.85 46.43 L583.15 46.43 L583.45 46.43 L583.76 46.43 L584.06 46.43 L584.36 46.43 L584.66 46.43 L584.96 46.43 L585.26 46.43 L585.56 46.43 L585.86 46.43 L586.16 46.43 L586.46 46.43 L586.76 46.43 L587.06 46.43 L587.36 46.43 L587.66 46.43 L587.96 46.43 L588.26 46.43 L588.56 46.43 L588.86 46.43 L589.16 46.43 L589.46 46.43 L589.76 46.43 L590.06 46.43 L590.36 46.43 L590.66 46.43 L590.96 46.43 L591.27 46.43 L591.57 46.43 L591.87 46.43 L592.17 46.43 L592.47 46.43 L592.77 46.43 L593.07 46.43 L593.37 46.43 L593.67 46.43 L593.97 46.43 L594.27 46.43 L594.57 46.43 L594.87 46.43 L595.17 46.43 L595.47 46.43 L595.77 46.43 L596.07 46.43 L596.37 46.43 L596.67 46.43 L596.97 46.43 L597.27 46.43 L597.57 46.43 L597.87 46.43 L598.17 46.43 L598.47 46.43 L598.78 46.43 L599.08 46.43 L599.38 46.43 L599.68 46.43 L599.98 46.43 L600.28 46.43 L600.58 46.43 L600.88 46.43 L601.18 46.43 L601.48 46.43 L601.78 46.43 L602.08 46.43 L602.38 46.43 L602.68 46.43 L602.98 46.43 L603.28 46.43 L603.58 46.43 L603.88 46.43 L604.18 46.43 L604.48 46.43 L604.78 46.43 L605.08 46.43 L605.38 46.43 L605.68 46.43 L605.98 46.43 L606.29 46.43 L606.59 46.43 L606.89 46.43 L607.19 46.43 L607.49 46.43 L607.79 46.43 L608.09 46.43 L608.39 46.43 L608.69 46.43 L608.99 46.43 L609.29 46.43 L609.59 46.43 L609.89 46.43 L610.19 46.43 L610.49 46.43 L610.79 46.43 L611.09 46.43 L611.39 46.43 L611.69 46.43 L611.99 46.43 L612.29 46.43 L612.59 46.43 L612.89 46.43 L613.19 46.43 L613.49 46.43 L613.8 46.43 L614.1 46.43 L614.4 46.43 L614.7 46.43 L615 46.43 L615.3 46.43 L615.6 46.43 L615.9 46.43 L616.2 46.43 L616.5 46.43 L616.8 46.43 L617.1 46.43 L617.4 46.43" fill="none" stroke="#d98170" stroke-width="2.3" stroke-linejoin="round" clip-path="url(#cc)"/>
<path d="M467.5 47.4 L467.8 47.4 L468.1 47.4 L468.4 47.4 L468.7 47.4 L469 47.4 L469.3 47.4 L469.6 47.4 L469.9 47.4 L470.2 47.4 L470.5 47.4 L470.8 47.4 L471.1 47.4 L471.41 47.4 L471.71 47.4 L472.01 47.4 L472.31 47.4 L472.61 47.42 L472.91 47.44 L473.21 47.46 L473.51 47.49 L473.81 47.53 L474.11 47.57 L474.41 47.62 L474.71 47.73 L475.01 47.9 L475.31 48.12 L475.61 48.39 L475.91 48.71 L476.21 49.06 L476.51 49.44 L476.81 49.84 L477.11 50.27 L477.41 50.79 L477.71 51.43 L478.01 52.17 L478.31 53.01 L478.61 53.94 L478.92 54.95 L479.22 56.04 L479.52 57.39 L479.82 58.98 L480.12 60.74 L480.42 62.61 L480.72 64.69 L481.02 67.03 L481.32 69.51 L481.62 72.02 L481.92 74.46 L482.22 76.91 L482.52 79.38 L482.82 81.87 L483.12 84.37 L483.42 86.88 L483.72 89.39 L484.02 91.88 L484.32 94.37 L484.62 96.86 L484.92 99.35 L485.22 101.85 L485.52 104.34 L485.82 106.84 L486.12 109.36 L486.43 112.05 L486.73 114.83 L487.03 117.6 L487.33 120.22 L487.63 122.59 L487.93 124.59 L488.23 126.31 L488.53 127.98 L488.83 129.1 L489.13 129.21 L489.43 128.4 L489.73 126.97 L490.03 125.22 L490.33 123.42 L490.63 121.86 L490.93 120.44 L491.23 118.99 L491.53 115.04 L491.83 114.33 L492.13 113.52 L492.43 112.59 L492.73 111.57 L493.03 110.45 L493.33 109.28 L493.63 108.07 L493.94 106.84 L494.24 105.6 L494.54 104.36 L494.84 103.13 L495.14 101.89 L495.44 100.66 L495.74 99.43 L496.04 98.2 L496.34 96.96 L496.64 95.73 L496.94 94.5 L497.24 93.28 L497.54 92.07 L497.84 90.89 L498.14 89.72 L498.44 88.59 L498.74 87.49 L499.04 86.42 L499.34 85.38 L499.64 84.38 L499.94 83.41 L500.24 82.47 L500.54 81.56 L500.84 80.67 L501.14 79.79 L501.45 78.94 L501.75 78.1 L502.05 77.28 L502.35 76.46 L502.65 75.66 L502.95 74.87 L503.25 74.1 L503.55 73.33 L503.85 72.57 L504.15 71.83 L504.45 71.1 L504.75 70.39 L505.05 69.69 L505.35 69 L505.65 68.33 L505.95 67.67 L506.25 67.03 L506.55 66.39 L506.85 65.77 L507.15 65.16 L507.45 64.56 L507.75 63.96 L508.05 63.38 L508.35 62.82 L508.66 62.26 L508.96 61.72 L509.26 61.19 L509.56 60.68 L509.86 60.18 L510.16 59.7 L510.46 59.24 L510.76 58.79 L511.06 58.36 L511.36 57.94 L511.66 57.54 L511.96 57.15 L512.26 56.77 L512.56 56.4 L512.86 56.04 L513.16 55.7 L513.46 55.36 L513.76 55.04 L514.06 54.73 L514.36 54.43 L514.66 54.13 L514.96 53.85 L515.26 53.58 L515.56 53.31 L515.86 53.06 L516.17 52.81 L516.47 52.56 L516.77 52.33 L517.07 52.1 L517.37 51.88 L517.67 51.67 L517.97 51.47 L518.27 51.28 L518.57 51.1 L518.87 50.93 L519.17 50.76 L519.47 50.61 L519.77 50.46 L520.07 50.33 L520.37 50.19 L520.67 50.07 L520.97 49.95 L521.27 49.83 L521.57 49.72 L521.87 49.61 L522.17 49.5 L522.47 49.39 L522.77 49.29 L523.07 49.19 L523.37 49.1 L523.68 49.01 L523.98 48.92 L524.28 48.83 L524.58 48.74 L524.88 48.66 L525.18 48.58 L525.48 48.5 L525.78 48.42 L526.08 48.34 L526.38 48.27 L526.68 48.2 L526.98 48.12 L527.28 48.05 L527.58 47.99 L527.88 47.92 L528.18 47.85 L528.48 47.79 L528.78 47.72 L529.08 47.66 L529.38 47.59 L529.68 47.53 L529.98 47.47 L530.28 47.41 L530.58 47.34 L530.88 47.28 L531.19 47.22 L531.49 47.16 L531.79 47.1 L532.09 47.04 L532.39 46.99 L532.69 46.93 L532.99 46.87 L533.29 46.81 L533.59 46.76 L533.89 46.7 L534.19 46.65 L534.49 46.6 L534.79 46.55 L535.09 46.49 L535.39 46.44 L535.69 46.39 L535.99 46.35 L536.29 46.3 L536.59 46.25 L536.89 46.21 L537.19 46.16 L537.49 46.12 L537.79 46.08 L538.09 46.04 L538.39 46 L538.7 45.96 L539 45.92 L539.3 45.89 L539.6 45.85 L539.9 45.82 L540.2 45.79 L540.5 45.76 L540.8 45.74 L541.1 45.72 L541.4 45.67 L541.7 45.64 L542 45.62 L542.3 45.6 L542.6 45.57 L542.9 45.54 L543.2 45.51 L543.5 45.49 L543.8 45.46 L544.1 45.43 L544.4 45.4 L544.7 45.37 L545 45.35 L545.3 45.32 L545.6 45.29 L545.9 45.27 L546.21 45.24 L546.51 45.21 L546.81 45.19 L547.11 45.16 L547.41 45.14 L547.71 45.11 L548.01 45.09 L548.31 45.06 L548.61 45.04 L548.91 45.02 L549.21 44.99 L549.51 44.97 L549.81 44.95 L550.11 44.93 L550.41 44.9 L550.71 44.88 L551.01 44.86 L551.31 44.84 L551.61 44.82 L551.91 44.8 L552.21 44.78 L552.51 44.76 L552.81 44.74 L553.11 44.72 L553.41 44.71 L553.72 44.69 L554.02 44.67 L554.32 44.65 L554.62 44.64 L554.92 44.62 L555.22 44.6 L555.52 44.59 L555.82 44.57 L556.12 44.56 L556.42 44.54 L556.72 44.53 L557.02 44.52 L557.32 44.5 L557.62 44.49 L557.92 44.48 L558.22 44.46 L558.52 44.45 L558.82 44.44 L559.12 44.43 L559.42 44.42 L559.72 44.41 L560.02 44.4 L560.32 44.39 L560.62 44.38 L560.92 44.37 L561.23 44.36 L561.53 44.35 L561.83 44.35 L562.13 44.34 L562.43 44.33 L562.73 44.32 L563.03 44.32 L563.33 44.31 L563.63 44.3 L563.93 44.3 L564.23 44.29 L564.53 44.29 L564.83 44.28 L565.13 44.28 L565.43 44.27 L565.73 44.27 L566.03 44.26 L566.33 44.26 L566.63 44.25 L566.93 44.25 L567.23 44.25 L567.53 44.24 L567.83 44.24 L568.13 44.24 L568.43 44.24 L568.74 44.23 L569.04 44.23 L569.34 44.23 L569.64 44.23 L569.94 44.22 L570.24 44.22 L570.54 44.22 L570.84 44.22 L571.14 44.22 L571.44 44.22 L571.74 44.21 L572.04 44.21 L572.34 44.21 L572.64 44.21 L572.94 44.21 L573.24 44.21 L573.54 44.21 L573.84 44.21 L574.14 44.21 L574.44 44.21 L574.74 44.21 L575.04 44.21 L575.34 44.2 L575.64 44.2 L575.94 44.2 L576.25 44.2 L576.55 44.2 L576.85 44.2 L577.15 44.2 L577.45 44.2 L577.75 44.2 L578.05 44.2 L578.35 44.2 L578.65 44.2 L578.95 44.2 L579.25 44.2 L579.55 44.2 L579.85 44.2 L580.15 44.2 L580.45 44.2 L580.75 44.2 L581.05 44.2 L581.35 44.2 L581.65 44.2 L581.95 44.2 L582.25 44.2 L582.55 44.2 L582.85 44.2 L583.15 44.2 L583.45 44.2 L583.76 44.2 L584.06 44.2 L584.36 44.2 L584.66 44.2 L584.96 44.2 L585.26 44.2 L585.56 44.2 L585.86 44.2 L586.16 44.2 L586.46 44.2 L586.76 44.2 L587.06 44.2 L587.36 44.2 L587.66 44.2 L587.96 44.2 L588.26 44.2 L588.56 44.2 L588.86 44.2 L589.16 44.2 L589.46 44.2 L589.76 44.2 L590.06 44.2 L590.36 44.2 L590.66 44.2 L590.96 44.2 L591.27 44.2 L591.57 44.2 L591.87 44.2 L592.17 44.2 L592.47 44.2 L592.77 44.2 L593.07 44.2 L593.37 44.2 L593.67 44.2 L593.97 44.2 L594.27 44.2 L594.57 44.2 L594.87 44.2 L595.17 44.2 L595.47 44.2 L595.77 44.2 L596.07 44.2 L596.37 44.2 L596.67 44.2 L596.97 44.2 L597.27 44.2 L597.57 44.2 L597.87 44.2 L598.17 44.2 L598.47 44.2 L598.78 44.2 L599.08 44.2 L599.38 44.2 L599.68 44.2 L599.98 44.2 L600.28 44.2 L600.58 44.2 L600.88 44.2 L601.18 44.2 L601.48 44.2 L601.78 44.2 L602.08 44.2 L602.38 44.2 L602.68 44.2 L602.98 44.2 L603.28 44.2 L603.58 44.2 L603.88 44.2 L604.18 44.2 L604.48 44.2 L604.78 44.2 L605.08 44.2 L605.38 44.2 L605.68 44.2 L605.98 44.2 L606.29 44.2 L606.59 44.2 L606.89 44.2 L607.19 44.2 L607.49 44.2 L607.79 44.2 L608.09 44.2 L608.39 44.2 L608.69 44.2 L608.99 44.2 L609.29 44.2 L609.59 44.2 L609.89 44.2 L610.19 44.2 L610.49 44.2 L610.79 44.2 L611.09 44.2 L611.39 44.2 L611.69 44.2 L611.99 44.2 L612.29 44.2 L612.59 44.2 L612.89 44.2 L613.19 44.2 L613.49 44.2 L613.8 44.2 L614.1 44.2 L614.4 44.2 L614.7 44.2 L615 44.2 L615.3 44.2 L615.6 44.2 L615.9 44.2 L616.2 44.2 L616.5 44.2 L616.8 44.2 L617.1 44.2 L617.4 44.2" fill="none" stroke="#d8330f" stroke-width="2.3" stroke-linejoin="round" clip-path="url(#cc)"/>
<text x="-0.6" y="7.9" font-size="11.2" font-weight="bold">a.</text>
<text x="207.6" y="7.9" font-size="11.2" font-weight="bold">b.</text>
<text x="418.6" y="7.9" font-size="11.2" font-weight="bold">c.</text>
<text x="-0.3" y="183.7" font-size="11.2" font-weight="bold">d.</text>
<text x="146.3" y="183.7" font-size="11.2" font-weight="bold">e.</text>
<text x="272.6" y="183.7" font-size="11.2" font-weight="bold">f.</text>
<text x="416.1" y="183.7" font-size="11.2" font-weight="bold">g.</text>
<text x="541.8" y="183.7" font-size="11.2" font-weight="bold">h.</text>
<!--panel a-->
<rect x="46.5" y="16.1" width="152.7" height="117.3" fill="none" stroke="#000" stroke-width="0.9"/>
<line x1="124.6" y1="16.1" x2="124.6" y2="133.4" stroke="#000" stroke-width="0.9"/>
<line x1="43.5" y1="18.3" x2="46.5" y2="18.3" stroke="#000" stroke-width="0.9"/>
<line x1="122.1" y1="18.3" x2="127.1" y2="18.3" stroke="#000" stroke-width="0.9"/>
<text x="41.3" y="22.6" font-size="12.2" text-anchor="end" textLength="18.77" lengthAdjust="spacingAndGlyphs">1.5</text>
<line x1="43.5" y1="49.5" x2="46.5" y2="49.5" stroke="#000" stroke-width="0.9"/>
<line x1="122.1" y1="49.5" x2="127.1" y2="49.5" stroke="#000" stroke-width="0.9"/>
<text x="41.3" y="53.8" font-size="12.2" text-anchor="end" textLength="18.77" lengthAdjust="spacingAndGlyphs">1.0</text>
<line x1="43.5" y1="80.7" x2="46.5" y2="80.7" stroke="#000" stroke-width="0.9"/>
<line x1="122.1" y1="80.7" x2="127.1" y2="80.7" stroke="#000" stroke-width="0.9"/>
<text x="41.3" y="85" font-size="12.2" text-anchor="end" textLength="18.77" lengthAdjust="spacingAndGlyphs">0.5</text>
<line x1="43.5" y1="111.9" x2="46.5" y2="111.9" stroke="#000" stroke-width="0.9"/>
<line x1="122.1" y1="111.9" x2="127.1" y2="111.9" stroke="#000" stroke-width="0.9"/>
<text x="41.3" y="116.2" font-size="12.2" text-anchor="end" textLength="18.77" lengthAdjust="spacingAndGlyphs">0.0</text>
<line x1="62.62" y1="133.4" x2="62.62" y2="136.4" stroke="#000" stroke-width="0.9"/>
<text x="62.62" y="147.7" font-size="12.2" text-anchor="middle" textLength="7.51" lengthAdjust="spacingAndGlyphs">0</text>
<line x1="93.61" y1="133.4" x2="93.61" y2="136.4" stroke="#000" stroke-width="0.9"/>
<text x="93.61" y="147.7" font-size="12.2" text-anchor="middle" textLength="18.77" lengthAdjust="spacingAndGlyphs">0.5</text>
<line x1="124.6" y1="133.4" x2="124.6" y2="136.4" stroke="#000" stroke-width="0.9"/>
<text x="124.6" y="147.7" font-size="12.2" text-anchor="middle" textLength="18.77" lengthAdjust="spacingAndGlyphs">1.0</text>
<line x1="170.9" y1="133.4" x2="170.9" y2="136.4" stroke="#000" stroke-width="0.9"/>
<text x="170.9" y="147.7" font-size="12.2" text-anchor="middle" textLength="26.27" lengthAdjust="spacingAndGlyphs">10.0</text>
<line x1="138.54" y1="133.4" x2="138.54" y2="135.2" stroke="#000" stroke-width="0.7"/>
<line x1="146.69" y1="133.4" x2="146.69" y2="135.2" stroke="#000" stroke-width="0.7"/>
<line x1="152.48" y1="133.4" x2="152.48" y2="135.2" stroke="#000" stroke-width="0.7"/>
<line x1="156.96" y1="133.4" x2="156.96" y2="135.2" stroke="#000" stroke-width="0.7"/>
<line x1="160.63" y1="133.4" x2="160.63" y2="135.2" stroke="#000" stroke-width="0.7"/>
<line x1="163.73" y1="133.4" x2="163.73" y2="135.2" stroke="#000" stroke-width="0.7"/>
<line x1="166.41" y1="133.4" x2="166.41" y2="135.2" stroke="#000" stroke-width="0.7"/>
<line x1="168.78" y1="133.4" x2="168.78" y2="135.2" stroke="#000" stroke-width="0.7"/>
<line x1="184.84" y1="133.4" x2="184.84" y2="135.2" stroke="#000" stroke-width="0.7"/>
<line x1="192.99" y1="133.4" x2="192.99" y2="135.2" stroke="#000" stroke-width="0.7"/>
<line x1="198.78" y1="133.4" x2="198.78" y2="135.2" stroke="#000" stroke-width="0.7"/>
<text x="124.6" y="163.3" font-size="12.2" text-anchor="middle" textLength="86.01" lengthAdjust="spacingAndGlyphs">Time delay, ps</text>
<!--panel b-->
<rect x="256.5" y="14.6" width="151.1" height="119.6" fill="none" stroke="#000" stroke-width="0.9"/>
<line x1="332.7" y1="14.6" x2="332.7" y2="134.2" stroke="#000" stroke-width="0.9"/>
<line x1="253.5" y1="20.4" x2="256.5" y2="20.4" stroke="#000" stroke-width="0.9"/>
<line x1="330.2" y1="20.4" x2="335.2" y2="20.4" stroke="#000" stroke-width="0.9"/>
<text x="251.3" y="24.7" font-size="12.2" text-anchor="end" textLength="18.77" lengthAdjust="spacingAndGlyphs">1.0</text>
<line x1="253.5" y1="71.85" x2="256.5" y2="71.85" stroke="#000" stroke-width="0.9"/>
<line x1="330.2" y1="71.85" x2="335.2" y2="71.85" stroke="#000" stroke-width="0.9"/>
<text x="251.3" y="76.15" font-size="12.2" text-anchor="end" textLength="18.77" lengthAdjust="spacingAndGlyphs">0.5</text>
<line x1="253.5" y1="123.3" x2="256.5" y2="123.3" stroke="#000" stroke-width="0.9"/>
<line x1="330.2" y1="123.3" x2="335.2" y2="123.3" stroke="#000" stroke-width="0.9"/>
<text x="251.3" y="127.6" font-size="12.2" text-anchor="end" textLength="18.77" lengthAdjust="spacingAndGlyphs">0.0</text>
<line x1="271.4" y1="134.2" x2="271.4" y2="137.2" stroke="#000" stroke-width="0.9"/>
<text x="271.4" y="148.5" font-size="12.2" text-anchor="middle" textLength="7.51" lengthAdjust="spacingAndGlyphs">0</text>
<line x1="302.05" y1="134.2" x2="302.05" y2="137.2" stroke="#000" stroke-width="0.9"/>
<text x="302.05" y="148.5" font-size="12.2" text-anchor="middle" textLength="18.77" lengthAdjust="spacingAndGlyphs">0.5</text>
<line x1="332.7" y1="134.2" x2="332.7" y2="137.2" stroke="#000" stroke-width="0.9"/>
<text x="332.7" y="148.5" font-size="12.2" text-anchor="middle" textLength="18.77" lengthAdjust="spacingAndGlyphs">1.0</text>
<line x1="378.9" y1="134.2" x2="378.9" y2="137.2" stroke="#000" stroke-width="0.9"/>
<text x="378.9" y="148.5" font-size="12.2" text-anchor="middle" textLength="26.27" lengthAdjust="spacingAndGlyphs">10.0</text>
<line x1="346.61" y1="134.2" x2="346.61" y2="136" stroke="#000" stroke-width="0.7"/>
<line x1="354.74" y1="134.2" x2="354.74" y2="136" stroke="#000" stroke-width="0.7"/>
<line x1="360.52" y1="134.2" x2="360.52" y2="136" stroke="#000" stroke-width="0.7"/>
<line x1="364.99" y1="134.2" x2="364.99" y2="136" stroke="#000" stroke-width="0.7"/>
<line x1="368.65" y1="134.2" x2="368.65" y2="136" stroke="#000" stroke-width="0.7"/>
<line x1="371.74" y1="134.2" x2="371.74" y2="136" stroke="#000" stroke-width="0.7"/>
<line x1="374.42" y1="134.2" x2="374.42" y2="136" stroke="#000" stroke-width="0.7"/>
<line x1="376.79" y1="134.2" x2="376.79" y2="136" stroke="#000" stroke-width="0.7"/>
<line x1="392.81" y1="134.2" x2="392.81" y2="136" stroke="#000" stroke-width="0.7"/>
<line x1="400.94" y1="134.2" x2="400.94" y2="136" stroke="#000" stroke-width="0.7"/>
<line x1="406.72" y1="134.2" x2="406.72" y2="136" stroke="#000" stroke-width="0.7"/>
<text x="332.7" y="163.3" font-size="12.2" text-anchor="middle" textLength="86.01" lengthAdjust="spacingAndGlyphs">Time delay, ps</text>
<!--panel c-->
<rect x="467.5" y="14.6" width="149.9" height="119.4" fill="none" stroke="#000" stroke-width="0.9"/>
<line x1="542.3" y1="14.6" x2="542.3" y2="134" stroke="#000" stroke-width="0.9"/>
<line x1="464.5" y1="47.5" x2="467.5" y2="47.5" stroke="#000" stroke-width="0.9"/>
<line x1="539.8" y1="47.5" x2="544.8" y2="47.5" stroke="#000" stroke-width="0.9"/>
<text x="462.3" y="51.7" font-size="11.8" text-anchor="end">0.0</text>
<line x1="464.5" y1="88.4" x2="467.5" y2="88.4" stroke="#000" stroke-width="0.9"/>
<line x1="539.8" y1="88.4" x2="544.8" y2="88.4" stroke="#000" stroke-width="0.9"/>
<text x="462.3" y="92.6" font-size="11.8" text-anchor="end">−0.5</text>
<line x1="464.5" y1="129.3" x2="467.5" y2="129.3" stroke="#000" stroke-width="0.9"/>
<line x1="539.8" y1="129.3" x2="544.8" y2="129.3" stroke="#000" stroke-width="0.9"/>
<text x="462.3" y="133.5" font-size="11.8" text-anchor="end">−1.0</text>
<line x1="482.41" y1="134" x2="482.41" y2="137" stroke="#000" stroke-width="0.9"/>
<text x="482.41" y="147.7" font-size="11.8" text-anchor="middle">0</text>
<line x1="512.36" y1="134" x2="512.36" y2="137" stroke="#000" stroke-width="0.9"/>
<text x="512.36" y="147.7" font-size="11.8" text-anchor="middle">0.5</text>
<line x1="542.3" y1="134" x2="542.3" y2="137" stroke="#000" stroke-width="0.9"/>
<text x="542.3" y="147.7" font-size="11.8" text-anchor="middle">1.0</text>
<line x1="589.1" y1="134" x2="589.1" y2="137" stroke="#000" stroke-width="0.9"/>
<text x="589.1" y="147.7" font-size="11.8" text-anchor="middle">10.0</text>
<line x1="556.39" y1="134" x2="556.39" y2="135.8" stroke="#000" stroke-width="0.7"/>
<line x1="564.63" y1="134" x2="564.63" y2="135.8" stroke="#000" stroke-width="0.7"/>
<line x1="570.48" y1="134" x2="570.48" y2="135.8" stroke="#000" stroke-width="0.7"/>
<line x1="575.01" y1="134" x2="575.01" y2="135.8" stroke="#000" stroke-width="0.7"/>
<line x1="578.72" y1="134" x2="578.72" y2="135.8" stroke="#000" stroke-width="0.7"/>
<line x1="581.85" y1="134" x2="581.85" y2="135.8" stroke="#000" stroke-width="0.7"/>
<line x1="584.56" y1="134" x2="584.56" y2="135.8" stroke="#000" stroke-width="0.7"/>
<line x1="586.96" y1="134" x2="586.96" y2="135.8" stroke="#000" stroke-width="0.7"/>
<line x1="603.19" y1="134" x2="603.19" y2="135.8" stroke="#000" stroke-width="0.7"/>
<line x1="611.43" y1="134" x2="611.43" y2="135.8" stroke="#000" stroke-width="0.7"/>
<text x="542.3" y="163.3" font-size="11.8" text-anchor="middle">Time delay, ps</text>
<g transform="translate(16.2 104.2) rotate(-90)"><text x="0" y="0" font-size="11" textLength="45.36" lengthAdjust="spacingAndGlyphs">CD × 10</text><text x="47" y="-4.4" font-size="7.8" textLength="11.2" lengthAdjust="spacingAndGlyphs">−3</text></g>
<text x="225.8" y="74.3" font-size="12.2" text-anchor="middle" textLength="64.72" lengthAdjust="spacingAndGlyphs" transform="rotate(-90 225.8 74.3)">CD (Norm.)</text>
<text x="432.3" y="74.2" font-size="11.8" text-anchor="middle" transform="rotate(-90 432.3 74.2)">CD (Norm.)</text>
<rect x="53.5" y="190.6" width="85.8" height="120.6" fill="none" stroke="#000" stroke-width="0.9"/>
<line x1="65.44" y1="311.2" x2="65.44" y2="314.2" stroke="#000" stroke-width="0.9"/>
<text x="65.44" y="325.1" font-size="11.8" text-anchor="middle">100</text>
<line x1="100.42" y1="311.2" x2="100.42" y2="314.2" stroke="#000" stroke-width="0.9"/>
<text x="100.42" y="325.1" font-size="11.8" text-anchor="middle">200</text>
<line x1="135.4" y1="311.2" x2="135.4" y2="314.2" stroke="#000" stroke-width="0.9"/>
<text x="135.4" y="325.1" font-size="11.8" text-anchor="middle">300</text>
<line x1="50.5" y1="307.5" x2="53.5" y2="307.5" stroke="#000" stroke-width="0.9"/>
<text x="48.3" y="311.7" font-size="11.8" text-anchor="end">0.00</text>
<line x1="50.5" y1="265.5" x2="53.5" y2="265.5" stroke="#000" stroke-width="0.9"/>
<text x="48.3" y="269.7" font-size="11.8" text-anchor="end">0.05</text>
<line x1="50.5" y1="223.5" x2="53.5" y2="223.5" stroke="#000" stroke-width="0.9"/>
<text x="48.3" y="227.7" font-size="11.8" text-anchor="end">0.10</text>
<text x="96.4" y="339.2" font-size="11.8" text-anchor="middle">Temperature, K</text>
<rect x="181.3" y="190.5" width="86.2" height="120.7" fill="none" stroke="#000" stroke-width="0.9"/>
<line x1="193.3" y1="311.2" x2="193.3" y2="314.2" stroke="#000" stroke-width="0.9"/>
<text x="193.3" y="325.1" font-size="11.8" text-anchor="middle">100</text>
<line x1="228.44" y1="311.2" x2="228.44" y2="314.2" stroke="#000" stroke-width="0.9"/>
<text x="228.44" y="325.1" font-size="11.8" text-anchor="middle">200</text>
<line x1="263.58" y1="311.2" x2="263.58" y2="314.2" stroke="#000" stroke-width="0.9"/>
<text x="263.58" y="325.1" font-size="11.8" text-anchor="middle">300</text>
<line x1="178.3" y1="304.5" x2="181.3" y2="304.5" stroke="#000" stroke-width="0.9"/>
<text x="176.1" y="308.7" font-size="11.8" text-anchor="end">1</text>
<line x1="178.3" y1="275.7" x2="181.3" y2="275.7" stroke="#000" stroke-width="0.9"/>
<text x="176.1" y="279.9" font-size="11.8" text-anchor="end">2</text>
<line x1="178.3" y1="246.8" x2="181.3" y2="246.8" stroke="#000" stroke-width="0.9"/>
<text x="176.1" y="251" font-size="11.8" text-anchor="end">3</text>
<line x1="178.3" y1="218" x2="181.3" y2="218" stroke="#000" stroke-width="0.9"/>
<text x="176.1" y="222.2" font-size="11.8" text-anchor="end">4</text>
<text x="224.4" y="339.2" font-size="11.8" text-anchor="middle">Temperature, K</text>
<rect x="321.3" y="190.6" width="86.2" height="120.6" fill="none" stroke="#000" stroke-width="0.9"/>
<line x1="333.3" y1="311.2" x2="333.3" y2="314.2" stroke="#000" stroke-width="0.9"/>
<text x="333.3" y="325.1" font-size="11.8" text-anchor="middle">100</text>
<line x1="368.44" y1="311.2" x2="368.44" y2="314.2" stroke="#000" stroke-width="0.9"/>
<text x="368.44" y="325.1" font-size="11.8" text-anchor="middle">200</text>
<line x1="403.58" y1="311.2" x2="403.58" y2="314.2" stroke="#000" stroke-width="0.9"/>
<text x="403.58" y="325.1" font-size="11.8" text-anchor="middle">300</text>
<line x1="318.3" y1="307.5" x2="321.3" y2="307.5" stroke="#000" stroke-width="0.9"/>
<text x="316.1" y="311.7" font-size="11.8" text-anchor="end">0.00</text>
<line x1="318.3" y1="265.5" x2="321.3" y2="265.5" stroke="#000" stroke-width="0.9"/>
<text x="316.1" y="269.7" font-size="11.8" text-anchor="end">0.05</text>
<line x1="318.3" y1="223.5" x2="321.3" y2="223.5" stroke="#000" stroke-width="0.9"/>
<text x="316.1" y="227.7" font-size="11.8" text-anchor="end">0.10</text>
<text x="364.4" y="339.2" font-size="11.8" text-anchor="middle">Temperature, K</text>
<rect x="451.3" y="190.5" width="86" height="120.7" fill="none" stroke="#000" stroke-width="0.9"/>
<line x1="463.27" y1="311.2" x2="463.27" y2="314.2" stroke="#000" stroke-width="0.9"/>
<text x="463.27" y="325.1" font-size="11.8" text-anchor="middle">100</text>
<line x1="498.33" y1="311.2" x2="498.33" y2="314.2" stroke="#000" stroke-width="0.9"/>
<text x="498.33" y="325.1" font-size="11.8" text-anchor="middle">200</text>
<line x1="533.39" y1="311.2" x2="533.39" y2="314.2" stroke="#000" stroke-width="0.9"/>
<text x="533.39" y="325.1" font-size="11.8" text-anchor="middle">300</text>
<line x1="448.3" y1="297.6" x2="451.3" y2="297.6" stroke="#000" stroke-width="0.9"/>
<text x="446.1" y="301.8" font-size="11.8" text-anchor="end">0</text>
<line x1="448.3" y1="260" x2="451.3" y2="260" stroke="#000" stroke-width="0.9"/>
<text x="446.1" y="264.2" font-size="11.8" text-anchor="end">1</text>
<line x1="448.3" y1="222.4" x2="451.3" y2="222.4" stroke="#000" stroke-width="0.9"/>
<text x="446.1" y="226.6" font-size="11.8" text-anchor="end">2</text>
<text x="494.3" y="339.2" font-size="11.8" text-anchor="middle">Temperature, K</text>
<rect x="593.5" y="190.5" width="86" height="118.6" fill="none" stroke="#000" stroke-width="0.9"/>
<line x1="605.47" y1="309.1" x2="605.47" y2="312.1" stroke="#000" stroke-width="0.9"/>
<text x="605.47" y="323" font-size="11.8" text-anchor="middle">100</text>
<line x1="640.53" y1="309.1" x2="640.53" y2="312.1" stroke="#000" stroke-width="0.9"/>
<text x="640.53" y="323" font-size="11.8" text-anchor="middle">200</text>
<line x1="675.59" y1="309.1" x2="675.59" y2="312.1" stroke="#000" stroke-width="0.9"/>
<text x="675.59" y="323" font-size="11.8" text-anchor="middle">300</text>
<line x1="590.5" y1="294.4" x2="593.5" y2="294.4" stroke="#000" stroke-width="0.9"/>
<text x="588.3" y="298.6" font-size="11.8" text-anchor="end">2.5</text>
<line x1="590.5" y1="269.85" x2="593.5" y2="269.85" stroke="#000" stroke-width="0.9"/>
<text x="588.3" y="274.05" font-size="11.8" text-anchor="end">5.0</text>
<line x1="590.5" y1="245.3" x2="593.5" y2="245.3" stroke="#000" stroke-width="0.9"/>
<text x="588.3" y="249.5" font-size="11.8" text-anchor="end">7.5</text>
<line x1="590.5" y1="220.75" x2="593.5" y2="220.75" stroke="#000" stroke-width="0.9"/>
<text x="588.3" y="224.95" font-size="11.8" text-anchor="end">10.0</text>
<line x1="590.5" y1="196.2" x2="593.5" y2="196.2" stroke="#000" stroke-width="0.9"/>
<text x="588.3" y="200.4" font-size="11.8" text-anchor="end">12.5</text>
<text x="636.5" y="339.2" font-size="11.8" text-anchor="middle">Temperature, K</text>
<g transform="translate(17.9 266.6) rotate(-90)"><text x="-0.3" y="0" font-size="12.2" textLength="6.4" lengthAdjust="spacingAndGlyphs">τ</text><text x="6.7" y="3.1" font-size="8.2">1</text><text x="6.4" y="-4.9" font-size="8.2">A</text><text x="12.5" y="0" font-size="11.8" textLength="18.9" lengthAdjust="spacingAndGlyphs">, ps</text></g>
<g transform="translate(162.4 266.8) rotate(-90)"><text x="-0.3" y="0" font-size="12.2" textLength="6.4" lengthAdjust="spacingAndGlyphs">τ</text><text x="6.7" y="3.1" font-size="8.2">2</text><text x="6.4" y="-4.9" font-size="8.2">A</text><text x="12.5" y="0" font-size="11.8" textLength="18.9" lengthAdjust="spacingAndGlyphs">, ps</text></g>
<g transform="translate(286.5 266.8) rotate(-90)"><text x="-0.3" y="0" font-size="12.2" textLength="6.4" lengthAdjust="spacingAndGlyphs">τ</text><text x="6.7" y="3.1" font-size="8.2">1</text><text x="6.4" y="-4.9" font-size="8.2">B</text><text x="12.5" y="0" font-size="11.8" textLength="18.9" lengthAdjust="spacingAndGlyphs">, ps</text></g>
<g transform="translate(432.4 266.8) rotate(-90)"><text x="-0.3" y="0" font-size="12.2" textLength="6.4" lengthAdjust="spacingAndGlyphs">τ</text><text x="6.7" y="3.1" font-size="8.2">2</text><text x="6.4" y="-4.9" font-size="8.2">B</text><text x="12.5" y="0" font-size="11.8" textLength="18.9" lengthAdjust="spacingAndGlyphs">, ps</text></g>
<g transform="translate(556.6 266.7) rotate(-90)"><text x="-0.3" y="0" font-size="12.2" textLength="6.4" lengthAdjust="spacingAndGlyphs">τ</text><text x="6.2" y="3.4" font-size="8.2">2</text><text x="6.6" y="-4.2" font-size="8.2">A</text><text x="15" y="0" font-size="11.8" textLength="5.2" lengthAdjust="spacingAndGlyphs">/</text><text x="21" y="0" font-size="12.2" textLength="6.4" lengthAdjust="spacingAndGlyphs">τ</text><text x="27.4" y="3.4" font-size="8.2">2</text><text x="27" y="-4.2" font-size="8.2">B</text></g>
<line x1="156.7" y1="28.5" x2="178.7" y2="28.5" stroke="#111b5c" stroke-width="3"/>
<line x1="156.7" y1="42.4" x2="178.7" y2="42.4" stroke="#d42a0b" stroke-width="3"/>
<text x="184.8" y="31.8" font-size="10" textLength="6.6" lengthAdjust="spacingAndGlyphs">A</text>
<text x="185" y="46" font-size="10" textLength="6.3" lengthAdjust="spacingAndGlyphs">B</text>
<text x="150.6" y="62" font-size="10.6" textLength="43.9" lengthAdjust="spacingAndGlyphs">T = 77 K</text>
<text x="384.4" y="28" font-size="11" fill="#8a8a8a" textLength="7.52" lengthAdjust="spacingAndGlyphs">A</text>
<text x="595.4" y="27.6" font-size="11" fill="#8a8a8a" textLength="7.55" lengthAdjust="spacingAndGlyphs">B</text>
<line x1="623.2" y1="27.3" x2="644.8" y2="27.3" stroke="#0b1132" stroke-width="2.3"/>
<text x="650.7" y="30.9" font-size="10" textLength="21.79" lengthAdjust="spacingAndGlyphs">77 K</text>
<line x1="623.2" y1="41.42" x2="644.8" y2="41.42" stroke="#1f2c6e" stroke-width="2.3"/>
<text x="650.7" y="45.02" font-size="10" textLength="27.96" lengthAdjust="spacingAndGlyphs">100 K</text>
<line x1="623.2" y1="55.54" x2="644.8" y2="55.54" stroke="#5b69a9" stroke-width="2.3"/>
<text x="650.7" y="59.14" font-size="10" textLength="27.96" lengthAdjust="spacingAndGlyphs">150 K</text>
<line x1="623.2" y1="69.66" x2="644.8" y2="69.66" stroke="#d98170" stroke-width="2.3"/>
<text x="650.7" y="73.26" font-size="10" textLength="27.96" lengthAdjust="spacingAndGlyphs">200 K</text>
<line x1="623.2" y1="83.78" x2="644.8" y2="83.78" stroke="#d8330f" stroke-width="2.3"/>
<text x="650.7" y="87.38" font-size="10" textLength="27.96" lengthAdjust="spacingAndGlyphs">250 K</text>
</svg>
</body></html>
